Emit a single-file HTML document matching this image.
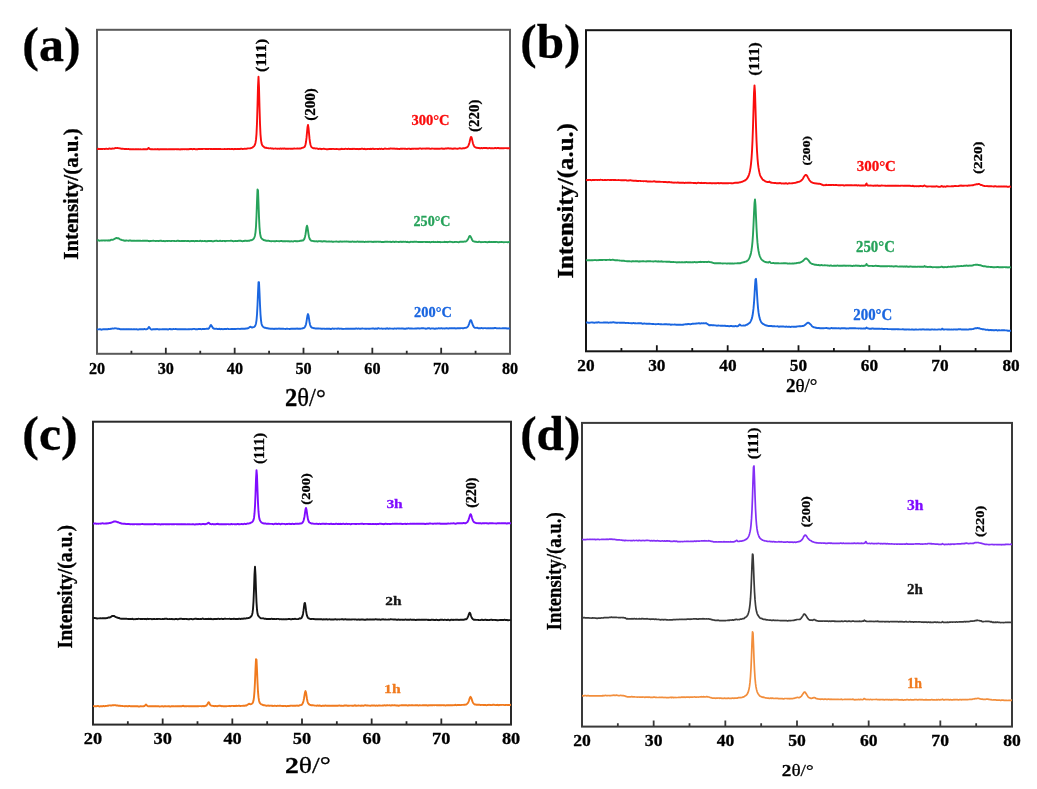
<!DOCTYPE html>
<html><head><meta charset="utf-8"><title>XRD patterns</title>
<style>html,body{margin:0;padding:0;background:#fff;width:1037px;height:789px;overflow:hidden}
svg{display:block;font-family:"Liberation Serif",serif;will-change:transform}</style></head>
<body><svg width="1037" height="789" viewBox="0 0 1037 789">
<rect width="1037" height="789" fill="#fff"/>
<rect x="97" y="29.8" width="413" height="324.0" fill="none" stroke="#5a5a5a" stroke-width="2"/>
<path d="M131.42,353.80V350.80M165.83,353.80V347.80M200.25,353.80V350.80M234.67,353.80V347.80M269.08,353.80V350.80M303.50,353.80V347.80M337.92,353.80V350.80M372.33,353.80V347.80M406.75,353.80V350.80M441.17,353.80V347.80M475.58,353.80V350.80" stroke="#2a2a2a" stroke-width="1.8" fill="none"/>
<rect x="586" y="30.2" width="425" height="321.1" fill="none" stroke="#151515" stroke-width="2"/>
<path d="M621.42,351.30V348.00M656.83,351.30V345.30M692.25,351.30V348.00M727.67,351.30V345.30M763.08,351.30V348.00M798.50,351.30V345.30M833.92,351.30V348.00M869.33,351.30V345.30M904.75,351.30V348.00M940.17,351.30V345.30M975.58,351.30V348.00" stroke="#151515" stroke-width="1.8" fill="none"/>
<rect x="93" y="421.7" width="418" height="302.90000000000003" fill="none" stroke="#2a2a2a" stroke-width="2"/>
<path d="M127.83,724.60V721.30M162.67,724.60V718.60M197.50,724.60V721.30M232.33,724.60V718.60M267.17,724.60V721.30M302.00,724.60V718.60M336.83,724.60V721.30M371.67,724.60V718.60M406.50,724.60V721.30M441.33,724.60V718.60M476.17,724.60V721.30" stroke="#2a2a2a" stroke-width="1.8" fill="none"/>
<rect x="582" y="422.9" width="430" height="303.70000000000005" fill="none" stroke="#3a3a3a" stroke-width="2"/>
<path d="M617.83,726.60V723.30M653.67,726.60V720.60M689.50,726.60V723.30M725.33,726.60V720.60M761.17,726.60V723.30M797.00,726.60V720.60M832.83,726.60V723.30M868.67,726.60V720.60M904.50,726.60V723.30M940.33,726.60V720.60M976.17,726.60V723.30" stroke="#3a3a3a" stroke-width="1.8" fill="none"/>
<path d="M97.0,149.0 L97.5,149.0 L98.0,148.9 L98.5,148.8 L99.0,149.0 L99.5,149.0 L100.0,148.9 L100.5,149.0 L101.0,149.0 L101.5,149.0 L102.0,149.0 L102.5,149.0 L103.0,148.9 L103.5,148.9 L104.0,148.9 L104.5,149.0 L105.0,149.0 L105.5,148.9 L106.0,148.8 L106.5,148.8 L107.0,148.9 L107.5,148.9 L108.0,149.0 L108.5,148.9 L109.0,148.5 L109.5,148.5 L110.0,148.6 L110.5,148.7 L111.0,148.7 L111.5,148.8 L112.0,148.7 L112.5,148.5 L113.0,148.5 L113.5,148.6 L114.0,148.6 L114.5,148.4 L115.0,148.1 L115.5,148.0 L116.0,148.1 L116.5,148.1 L117.0,148.0 L117.5,148.0 L118.0,148.1 L118.5,148.1 L119.0,148.2 L119.5,148.4 L120.0,148.4 L120.5,148.5 L121.0,148.6 L121.5,148.8 L122.0,148.7 L122.5,148.7 L123.0,148.8 L123.5,148.9 L124.0,148.9 L124.5,149.0 L125.0,149.0 L125.5,149.0 L126.0,148.9 L126.5,149.0 L127.0,149.1 L127.5,149.1 L128.0,149.0 L128.5,149.0 L129.0,149.1 L129.5,149.2 L130.0,149.3 L130.5,149.2 L131.0,149.1 L131.5,149.3 L132.0,149.4 L132.5,149.3 L133.0,149.2 L133.5,149.3 L134.0,149.4 L134.5,149.4 L135.0,149.2 L135.5,149.1 L136.0,149.2 L136.5,149.3 L137.0,149.4 L137.5,149.3 L138.0,149.1 L138.5,149.2 L139.0,149.4 L139.5,149.4 L140.0,149.3 L140.5,149.3 L141.0,149.4 L141.5,149.4 L142.0,149.4 L142.5,149.4 L143.0,149.3 L143.5,149.3 L144.0,149.3 L144.5,149.1 L145.0,149.2 L145.5,149.2 L146.0,149.2 L146.5,149.2 L147.0,149.2 L147.5,149.1 L148.0,148.5 L148.5,147.9 L149.0,148.2 L149.5,148.8 L150.0,149.0 L150.5,149.1 L151.0,149.4 L151.5,149.3 L152.0,149.2 L152.5,149.3 L153.0,149.3 L153.5,149.4 L154.0,149.4 L154.5,149.3 L155.0,149.3 L155.5,149.3 L156.0,149.3 L156.5,149.4 L157.0,149.4 L157.5,149.1 L158.0,149.0 L158.5,149.4 L159.0,149.5 L159.5,149.3 L160.0,149.2 L160.5,149.3 L161.0,149.2 L161.5,149.2 L162.0,149.3 L162.5,149.3 L163.0,149.3 L163.5,149.3 L164.0,149.3 L164.5,149.2 L165.0,149.2 L165.5,149.2 L166.0,149.2 L166.5,149.1 L167.0,149.2 L167.5,149.4 L168.0,149.4 L168.5,149.3 L169.0,149.3 L169.5,149.3 L170.0,149.3 L170.5,149.3 L171.0,149.3 L171.5,149.2 L172.0,149.3 L172.5,149.2 L173.0,149.1 L173.5,149.1 L174.0,149.3 L174.5,149.4 L175.0,149.2 L175.5,149.1 L176.0,149.1 L176.5,149.2 L177.0,149.3 L177.5,149.2 L178.0,149.2 L178.5,149.3 L179.0,149.3 L179.5,149.4 L180.0,149.5 L180.5,149.3 L181.0,149.2 L181.5,149.2 L182.0,149.2 L182.5,149.2 L183.0,149.2 L183.5,149.1 L184.0,149.1 L184.5,149.2 L185.0,149.1 L185.5,149.1 L186.0,149.2 L186.5,149.4 L187.0,149.3 L187.5,149.1 L188.0,149.2 L188.5,149.4 L189.0,149.3 L189.5,149.0 L190.0,149.0 L190.5,149.0 L191.0,149.0 L191.5,149.0 L192.0,149.1 L192.5,149.3 L193.0,149.1 L193.5,148.9 L194.0,148.9 L194.5,149.0 L195.0,149.1 L195.5,149.2 L196.0,149.1 L196.5,149.1 L197.0,149.3 L197.5,149.3 L198.0,149.1 L198.5,149.0 L199.0,149.0 L199.5,148.9 L200.0,149.0 L200.5,149.1 L201.0,149.0 L201.5,149.0 L202.0,149.0 L202.5,149.0 L203.0,148.9 L203.5,148.9 L204.0,148.9 L204.5,148.9 L205.0,148.9 L205.5,149.0 L206.0,149.0 L206.5,149.0 L207.0,149.0 L207.5,149.1 L208.0,149.0 L208.5,149.0 L209.0,148.9 L209.5,148.9 L210.0,148.9 L210.5,149.0 L211.0,148.9 L211.5,148.9 L212.0,149.1 L212.5,149.1 L213.0,148.9 L213.5,148.9 L214.0,149.0 L214.5,149.0 L215.0,149.0 L215.5,149.0 L216.0,149.0 L216.5,148.9 L217.0,149.0 L217.5,149.1 L218.0,149.0 L218.5,149.0 L219.0,149.1 L219.5,149.0 L220.0,148.9 L220.5,149.0 L221.0,149.1 L221.5,149.1 L222.0,149.1 L222.5,149.1 L223.0,149.1 L223.5,149.1 L224.0,149.1 L224.5,149.0 L225.0,149.0 L225.5,149.1 L226.0,149.1 L226.5,149.1 L227.0,149.0 L227.5,149.0 L228.0,148.9 L228.5,148.9 L229.0,149.0 L229.5,149.0 L230.0,149.0 L230.5,149.1 L231.0,149.1 L231.5,149.0 L232.0,149.0 L232.5,149.0 L233.0,149.0 L233.5,149.3 L234.0,149.2 L234.5,149.0 L235.0,149.1 L235.5,149.0 L236.0,148.9 L236.5,149.1 L237.0,149.1 L237.5,149.0 L238.0,149.0 L238.5,149.0 L239.0,149.0 L239.5,149.0 L240.0,149.0 L240.5,148.8 L241.0,148.8 L241.5,148.8 L242.0,148.9 L242.5,149.0 L243.0,149.0 L243.5,148.9 L244.0,148.9 L244.5,148.8 L245.0,148.7 L245.5,148.9 L246.0,148.9 L246.5,148.7 L247.0,148.6 L247.5,148.5 L248.0,148.4 L248.5,148.4 L249.0,148.4 L249.5,148.4 L250.0,148.4 L250.5,148.2 L251.0,148.1 L251.5,147.9 L252.0,147.8 L252.5,147.5 L253.0,147.1 L253.5,146.6 L254.0,146.2 L254.5,145.5 L255.0,144.4 L255.5,142.7 L256.0,139.7 L256.5,133.9 L257.0,122.9 L257.5,105.8 L258.0,86.2 L258.5,76.7 L259.0,87.4 L259.5,107.0 L260.0,123.6 L260.5,134.3 L261.0,140.1 L261.5,143.1 L262.0,144.7 L262.5,145.6 L263.0,146.2 L263.5,146.6 L264.0,147.0 L264.5,147.4 L265.0,147.7 L265.5,147.8 L266.0,147.7 L266.5,147.8 L267.0,148.0 L267.5,148.1 L268.0,148.1 L268.5,148.2 L269.0,148.4 L269.5,148.4 L270.0,148.4 L270.5,148.3 L271.0,148.4 L271.5,148.5 L272.0,148.5 L272.5,148.4 L273.0,148.6 L273.5,148.7 L274.0,148.6 L274.5,148.6 L275.0,148.6 L275.5,148.5 L276.0,148.6 L276.5,148.6 L277.0,148.7 L277.5,148.7 L278.0,148.6 L278.5,148.6 L279.0,148.7 L279.5,148.8 L280.0,148.7 L280.5,148.5 L281.0,148.6 L281.5,148.8 L282.0,148.8 L282.5,148.5 L283.0,148.6 L283.5,148.7 L284.0,148.5 L284.5,148.5 L285.0,148.7 L285.5,148.7 L286.0,148.7 L286.5,148.7 L287.0,148.8 L287.5,148.8 L288.0,148.8 L288.5,148.7 L289.0,148.6 L289.5,148.6 L290.0,148.7 L290.5,148.8 L291.0,148.7 L291.5,148.7 L292.0,148.7 L292.5,148.8 L293.0,148.7 L293.5,148.6 L294.0,148.5 L294.5,148.5 L295.0,148.6 L295.5,148.6 L296.0,148.6 L296.5,148.6 L297.0,148.5 L297.5,148.4 L298.0,148.6 L298.5,148.6 L299.0,148.5 L299.5,148.5 L300.0,148.6 L300.5,148.5 L301.0,148.4 L301.5,148.1 L302.0,147.9 L302.5,147.9 L303.0,147.7 L303.5,147.5 L304.0,147.2 L304.5,146.9 L305.0,146.1 L305.5,144.5 L306.0,142.0 L306.5,137.9 L307.0,132.6 L307.5,127.3 L308.0,125.0 L308.5,127.8 L309.0,133.2 L309.5,138.4 L310.0,142.3 L310.5,144.7 L311.0,146.1 L311.5,147.1 L312.0,147.5 L312.5,147.8 L313.0,148.1 L313.5,148.2 L314.0,148.2 L314.5,148.3 L315.0,148.4 L315.5,148.5 L316.0,148.4 L316.5,148.4 L317.0,148.5 L317.5,148.6 L318.0,148.9 L318.5,149.0 L319.0,148.9 L319.5,148.8 L320.0,148.8 L320.5,148.8 L321.0,149.0 L321.5,149.2 L322.0,149.0 L322.5,148.9 L323.0,148.9 L323.5,148.8 L324.0,148.8 L324.5,148.9 L325.0,149.0 L325.5,149.1 L326.0,149.1 L326.5,149.2 L327.0,149.2 L327.5,149.1 L328.0,149.2 L328.5,149.1 L329.0,149.0 L329.5,149.0 L330.0,149.0 L330.5,149.0 L331.0,149.0 L331.5,149.0 L332.0,149.0 L332.5,148.9 L333.0,148.9 L333.5,148.9 L334.0,149.0 L334.5,149.1 L335.0,149.1 L335.5,149.1 L336.0,149.0 L336.5,149.0 L337.0,149.0 L337.5,149.1 L338.0,149.1 L338.5,149.2 L339.0,149.3 L339.5,149.2 L340.0,149.2 L340.5,149.2 L341.0,149.0 L341.5,148.8 L342.0,148.8 L342.5,149.0 L343.0,149.1 L343.5,149.1 L344.0,149.0 L344.5,149.0 L345.0,148.9 L345.5,148.8 L346.0,148.9 L346.5,148.9 L347.0,149.0 L347.5,149.1 L348.0,148.9 L348.5,148.7 L349.0,148.9 L349.5,149.0 L350.0,149.0 L350.5,149.0 L351.0,149.1 L351.5,149.0 L352.0,148.8 L352.5,148.9 L353.0,149.0 L353.5,148.9 L354.0,148.8 L354.5,148.9 L355.0,149.0 L355.5,149.1 L356.0,149.0 L356.5,148.9 L357.0,149.0 L357.5,149.0 L358.0,148.9 L358.5,149.1 L359.0,149.2 L359.5,149.0 L360.0,149.0 L360.5,149.0 L361.0,148.8 L361.5,148.6 L362.0,148.7 L362.5,148.8 L363.0,148.9 L363.5,149.0 L364.0,148.9 L364.5,148.8 L365.0,149.0 L365.5,149.2 L366.0,149.2 L366.5,149.1 L367.0,149.0 L367.5,149.0 L368.0,148.9 L368.5,148.9 L369.0,149.0 L369.5,149.0 L370.0,149.0 L370.5,148.8 L371.0,148.9 L371.5,149.0 L372.0,148.8 L372.5,148.7 L373.0,148.7 L373.5,148.8 L374.0,149.0 L374.5,149.1 L375.0,149.0 L375.5,148.9 L376.0,148.9 L376.5,148.9 L377.0,148.9 L377.5,149.0 L378.0,149.1 L378.5,149.0 L379.0,148.9 L379.5,148.8 L380.0,148.9 L380.5,149.0 L381.0,148.9 L381.5,148.7 L382.0,148.9 L382.5,149.1 L383.0,149.1 L383.5,149.0 L384.0,148.8 L384.5,148.6 L385.0,148.5 L385.5,148.6 L386.0,148.8 L386.5,148.9 L387.0,148.9 L387.5,148.9 L388.0,148.9 L388.5,148.8 L389.0,148.8 L389.5,148.8 L390.0,148.6 L390.5,148.4 L391.0,148.6 L391.5,148.6 L392.0,148.5 L392.5,148.6 L393.0,148.7 L393.5,148.6 L394.0,148.5 L394.5,148.6 L395.0,148.8 L395.5,148.9 L396.0,148.8 L396.5,148.6 L397.0,148.6 L397.5,148.9 L398.0,149.0 L398.5,148.9 L399.0,148.9 L399.5,149.0 L400.0,148.8 L400.5,148.6 L401.0,148.6 L401.5,148.7 L402.0,148.9 L402.5,148.7 L403.0,148.6 L403.5,148.6 L404.0,148.7 L404.5,148.8 L405.0,148.8 L405.5,148.8 L406.0,148.9 L406.5,148.9 L407.0,149.0 L407.5,148.9 L408.0,148.7 L408.5,148.6 L409.0,148.6 L409.5,148.7 L410.0,148.8 L410.5,149.0 L411.0,149.0 L411.5,148.8 L412.0,148.7 L412.5,148.8 L413.0,148.6 L413.5,148.6 L414.0,148.7 L414.5,148.6 L415.0,148.6 L415.5,148.7 L416.0,148.8 L416.5,148.8 L417.0,148.8 L417.5,148.8 L418.0,148.8 L418.5,148.8 L419.0,148.6 L419.5,148.4 L420.0,148.4 L420.5,148.4 L421.0,148.6 L421.5,148.8 L422.0,148.7 L422.5,148.6 L423.0,148.5 L423.5,148.6 L424.0,148.6 L424.5,148.6 L425.0,148.5 L425.5,148.6 L426.0,148.7 L426.5,148.5 L427.0,148.5 L427.5,148.5 L428.0,148.6 L428.5,148.5 L429.0,148.5 L429.5,148.7 L430.0,148.9 L430.5,148.9 L431.0,148.8 L431.5,148.6 L432.0,148.5 L432.5,148.6 L433.0,148.6 L433.5,148.6 L434.0,148.7 L434.5,148.7 L435.0,148.7 L435.5,148.7 L436.0,148.7 L436.5,148.7 L437.0,148.7 L437.5,148.7 L438.0,148.7 L438.5,148.8 L439.0,148.9 L439.5,148.8 L440.0,148.7 L440.5,148.6 L441.0,148.6 L441.5,148.4 L442.0,148.5 L442.5,148.8 L443.0,148.8 L443.5,148.8 L444.0,148.7 L444.5,148.7 L445.0,148.6 L445.5,148.4 L446.0,148.4 L446.5,148.5 L447.0,148.5 L447.5,148.4 L448.0,148.2 L448.5,148.2 L449.0,148.5 L449.5,148.6 L450.0,148.5 L450.5,148.4 L451.0,148.4 L451.5,148.6 L452.0,148.7 L452.5,148.8 L453.0,148.8 L453.5,148.7 L454.0,148.5 L454.5,148.5 L455.0,148.5 L455.5,148.5 L456.0,148.6 L456.5,148.6 L457.0,148.7 L457.5,148.7 L458.0,148.6 L458.5,148.6 L459.0,148.4 L459.5,148.3 L460.0,148.3 L460.5,148.4 L461.0,148.5 L461.5,148.6 L462.0,148.6 L462.5,148.4 L463.0,148.3 L463.5,148.2 L464.0,148.1 L464.5,148.2 L465.0,148.1 L465.5,147.9 L466.0,147.8 L466.5,147.5 L467.0,147.3 L467.5,147.0 L468.0,146.3 L468.5,145.4 L469.0,144.2 L469.5,142.5 L470.0,140.3 L470.5,138.2 L471.0,136.9 L471.5,137.3 L472.0,139.1 L472.5,141.4 L473.0,143.5 L473.5,145.0 L474.0,145.9 L474.5,146.7 L475.0,147.1 L475.5,147.3 L476.0,147.6 L476.5,147.8 L477.0,147.8 L477.5,147.9 L478.0,148.0 L478.5,147.9 L479.0,148.0 L479.5,148.2 L480.0,148.3 L480.5,148.3 L481.0,148.1 L481.5,148.0 L482.0,148.2 L482.5,148.3 L483.0,148.1 L483.5,148.0 L484.0,148.0 L484.5,148.0 L485.0,148.0 L485.5,148.0 L486.0,148.0 L486.5,148.0 L487.0,148.2 L487.5,148.3 L488.0,148.3 L488.5,148.2 L489.0,148.1 L489.5,148.0 L490.0,148.1 L490.5,148.2 L491.0,148.3 L491.5,148.3 L492.0,148.2 L492.5,148.1 L493.0,148.3 L493.5,148.4 L494.0,148.4 L494.5,148.2 L495.0,148.0 L495.5,148.0 L496.0,148.2 L496.5,148.2 L497.0,148.1 L497.5,148.0 L498.0,147.9 L498.5,147.9 L499.0,148.2 L499.5,148.3 L500.0,148.2 L500.5,148.1 L501.0,148.3 L501.5,148.3 L502.0,148.2 L502.5,148.1 L503.0,148.2 L503.5,148.2 L504.0,148.2 L504.5,148.1 L505.0,148.1 L505.5,148.1 L506.0,148.1 L506.5,148.1 L507.0,148.2 L507.5,148.2 L508.0,148.2 L508.5,148.2 L509.0,148.3 L509.5,148.2 L510.0,148.2" stroke="#fa0d0d" stroke-width="1.9" fill="none" stroke-linejoin="round"/>
<path d="M97.0,240.5 L97.5,240.4 L98.0,240.3 L98.5,240.3 L99.0,240.6 L99.5,240.7 L100.0,240.6 L100.5,240.6 L101.0,240.5 L101.5,240.5 L102.0,240.6 L102.5,240.5 L103.0,240.4 L103.5,240.4 L104.0,240.5 L104.5,240.5 L105.0,240.5 L105.5,240.5 L106.0,240.4 L106.5,240.4 L107.0,240.5 L107.5,240.5 L108.0,240.5 L108.5,240.4 L109.0,240.3 L109.5,240.5 L110.0,240.5 L110.5,240.1 L111.0,239.8 L111.5,239.8 L112.0,239.9 L112.5,239.9 L113.0,239.7 L113.5,239.5 L114.0,239.2 L114.5,238.9 L115.0,238.7 L115.5,238.4 L116.0,238.1 L116.5,238.0 L117.0,238.2 L117.5,238.3 L118.0,238.2 L118.5,238.3 L119.0,238.6 L119.5,239.0 L120.0,239.3 L120.5,239.5 L121.0,239.6 L121.5,239.9 L122.0,240.1 L122.5,240.1 L123.0,240.2 L123.5,240.5 L124.0,240.5 L124.5,240.7 L125.0,240.8 L125.5,240.7 L126.0,240.5 L126.5,240.5 L127.0,240.6 L127.5,240.6 L128.0,240.6 L128.5,240.7 L129.0,240.7 L129.5,240.5 L130.0,240.4 L130.5,240.4 L131.0,240.7 L131.5,240.8 L132.0,240.9 L132.5,240.8 L133.0,240.7 L133.5,240.7 L134.0,240.7 L134.5,240.6 L135.0,240.7 L135.5,240.9 L136.0,240.9 L136.5,240.8 L137.0,240.7 L137.5,240.7 L138.0,240.8 L138.5,240.8 L139.0,240.7 L139.5,240.7 L140.0,240.7 L140.5,240.8 L141.0,240.9 L141.5,240.9 L142.0,240.9 L142.5,240.8 L143.0,240.8 L143.5,240.7 L144.0,240.8 L144.5,240.8 L145.0,240.8 L145.5,240.7 L146.0,240.7 L146.5,240.7 L147.0,240.7 L147.5,240.8 L148.0,240.9 L148.5,241.0 L149.0,241.1 L149.5,241.2 L150.0,241.0 L150.5,241.0 L151.0,241.0 L151.5,240.9 L152.0,240.9 L152.5,240.9 L153.0,240.8 L153.5,240.8 L154.0,240.9 L154.5,240.9 L155.0,240.9 L155.5,241.1 L156.0,241.1 L156.5,240.9 L157.0,240.9 L157.5,240.9 L158.0,241.0 L158.5,241.1 L159.0,241.0 L159.5,240.9 L160.0,240.8 L160.5,240.8 L161.0,240.8 L161.5,240.8 L162.0,241.0 L162.5,241.1 L163.0,241.1 L163.5,241.0 L164.0,241.0 L164.5,241.1 L165.0,241.2 L165.5,241.1 L166.0,241.0 L166.5,240.9 L167.0,240.9 L167.5,241.0 L168.0,241.0 L168.5,240.9 L169.0,240.9 L169.5,240.9 L170.0,241.0 L170.5,241.1 L171.0,241.1 L171.5,241.0 L172.0,240.9 L172.5,240.9 L173.0,240.9 L173.5,240.9 L174.0,241.0 L174.5,241.0 L175.0,241.1 L175.5,241.1 L176.0,241.1 L176.5,241.0 L177.0,240.8 L177.5,240.9 L178.0,240.8 L178.5,240.8 L179.0,241.0 L179.5,241.0 L180.0,241.0 L180.5,241.1 L181.0,241.1 L181.5,241.0 L182.0,240.9 L182.5,241.0 L183.0,241.0 L183.5,241.0 L184.0,241.1 L184.5,241.0 L185.0,240.9 L185.5,240.9 L186.0,241.0 L186.5,241.1 L187.0,241.1 L187.5,240.9 L188.0,240.9 L188.5,241.0 L189.0,241.1 L189.5,241.2 L190.0,241.2 L190.5,241.1 L191.0,241.0 L191.5,240.9 L192.0,241.0 L192.5,241.1 L193.0,241.0 L193.5,241.0 L194.0,241.1 L194.5,241.3 L195.0,241.1 L195.5,241.0 L196.0,241.0 L196.5,240.9 L197.0,241.0 L197.5,241.0 L198.0,241.1 L198.5,241.1 L199.0,241.1 L199.5,241.0 L200.0,240.8 L200.5,240.7 L201.0,241.0 L201.5,241.2 L202.0,241.1 L202.5,241.0 L203.0,241.1 L203.5,241.1 L204.0,241.1 L204.5,241.0 L205.0,241.0 L205.5,241.2 L206.0,241.2 L206.5,241.1 L207.0,241.2 L207.5,241.2 L208.0,240.9 L208.5,240.9 L209.0,241.0 L209.5,241.1 L210.0,240.9 L210.5,240.9 L211.0,241.0 L211.5,241.0 L212.0,241.1 L212.5,241.4 L213.0,241.4 L213.5,241.2 L214.0,241.1 L214.5,241.0 L215.0,240.8 L215.5,240.9 L216.0,240.9 L216.5,240.8 L217.0,240.8 L217.5,241.0 L218.0,241.1 L218.5,241.1 L219.0,241.1 L219.5,240.9 L220.0,240.8 L220.5,240.8 L221.0,241.0 L221.5,241.1 L222.0,241.1 L222.5,241.0 L223.0,240.9 L223.5,240.9 L224.0,240.9 L224.5,241.0 L225.0,241.2 L225.5,241.2 L226.0,241.0 L226.5,240.9 L227.0,240.9 L227.5,240.9 L228.0,240.9 L228.5,240.9 L229.0,240.9 L229.5,240.9 L230.0,240.9 L230.5,240.8 L231.0,240.7 L231.5,240.8 L232.0,240.9 L232.5,241.0 L233.0,241.1 L233.5,241.2 L234.0,241.1 L234.5,241.1 L235.0,241.0 L235.5,241.0 L236.0,241.1 L236.5,241.1 L237.0,240.9 L237.5,241.0 L238.0,241.0 L238.5,240.7 L239.0,240.7 L239.5,240.8 L240.0,240.7 L240.5,240.7 L241.0,240.8 L241.5,241.0 L242.0,241.1 L242.5,241.2 L243.0,241.1 L243.5,241.0 L244.0,241.0 L244.5,240.8 L245.0,240.7 L245.5,240.6 L246.0,240.7 L246.5,240.9 L247.0,241.0 L247.5,240.9 L248.0,240.7 L248.5,240.7 L249.0,240.8 L249.5,240.7 L250.0,240.4 L250.5,240.3 L251.0,240.2 L251.5,240.2 L252.0,240.0 L252.5,239.7 L253.0,239.4 L253.5,238.9 L254.0,238.2 L254.5,237.1 L255.0,235.4 L255.5,232.3 L256.0,226.5 L256.5,216.1 L257.0,201.7 L257.5,189.5 L258.0,190.4 L258.5,203.1 L259.0,217.1 L259.5,227.1 L260.0,233.0 L260.5,235.9 L261.0,237.5 L261.5,238.4 L262.0,238.9 L262.5,239.2 L263.0,239.6 L263.5,240.0 L264.0,240.2 L264.5,240.2 L265.0,240.3 L265.5,240.5 L266.0,240.7 L266.5,240.8 L267.0,240.9 L267.5,240.8 L268.0,240.6 L268.5,240.7 L269.0,240.9 L269.5,241.0 L270.0,241.1 L270.5,241.1 L271.0,241.2 L271.5,241.2 L272.0,241.1 L272.5,241.1 L273.0,241.1 L273.5,241.1 L274.0,241.2 L274.5,241.3 L275.0,241.3 L275.5,241.2 L276.0,241.1 L276.5,241.0 L277.0,241.1 L277.5,241.1 L278.0,241.1 L278.5,241.1 L279.0,241.2 L279.5,241.2 L280.0,241.1 L280.5,241.1 L281.0,240.9 L281.5,240.9 L282.0,241.1 L282.5,241.2 L283.0,241.2 L283.5,241.1 L284.0,241.1 L284.5,241.3 L285.0,241.3 L285.5,241.3 L286.0,241.2 L286.5,241.1 L287.0,241.1 L287.5,241.2 L288.0,241.2 L288.5,241.1 L289.0,241.1 L289.5,241.3 L290.0,241.5 L290.5,241.4 L291.0,241.3 L291.5,241.3 L292.0,241.4 L292.5,241.4 L293.0,241.5 L293.5,241.3 L294.0,241.1 L294.5,241.1 L295.0,241.0 L295.5,241.1 L296.0,241.3 L296.5,241.3 L297.0,241.2 L297.5,241.3 L298.0,241.2 L298.5,241.1 L299.0,241.1 L299.5,241.0 L300.0,240.8 L300.5,240.7 L301.0,240.8 L301.5,240.7 L302.0,240.5 L302.5,240.5 L303.0,240.5 L303.5,240.1 L304.0,239.5 L304.5,238.5 L305.0,236.8 L305.5,234.4 L306.0,231.0 L306.5,227.3 L307.0,225.7 L307.5,227.3 L308.0,230.7 L308.5,234.1 L309.0,236.7 L309.5,238.4 L310.0,239.5 L310.5,240.1 L311.0,240.5 L311.5,240.9 L312.0,240.9 L312.5,240.9 L313.0,241.0 L313.5,241.1 L314.0,241.2 L314.5,241.2 L315.0,241.4 L315.5,241.4 L316.0,241.3 L316.5,241.3 L317.0,241.4 L317.5,241.6 L318.0,241.4 L318.5,241.2 L319.0,241.1 L319.5,241.1 L320.0,241.2 L320.5,241.2 L321.0,241.2 L321.5,241.3 L322.0,241.5 L322.5,241.5 L323.0,241.3 L323.5,241.3 L324.0,241.3 L324.5,241.2 L325.0,241.2 L325.5,241.4 L326.0,241.5 L326.5,241.5 L327.0,241.5 L327.5,241.6 L328.0,241.6 L328.5,241.5 L329.0,241.5 L329.5,241.5 L330.0,241.6 L330.5,241.6 L331.0,241.5 L331.5,241.5 L332.0,241.6 L332.5,241.8 L333.0,241.8 L333.5,241.7 L334.0,241.6 L334.5,241.6 L335.0,241.6 L335.5,241.6 L336.0,241.5 L336.5,241.5 L337.0,241.6 L337.5,241.6 L338.0,241.7 L338.5,241.8 L339.0,241.8 L339.5,241.7 L340.0,241.5 L340.5,241.4 L341.0,241.5 L341.5,241.6 L342.0,241.7 L342.5,241.6 L343.0,241.5 L343.5,241.6 L344.0,241.6 L344.5,241.5 L345.0,241.6 L345.5,241.6 L346.0,241.4 L346.5,241.4 L347.0,241.6 L347.5,241.6 L348.0,241.5 L348.5,241.6 L349.0,241.8 L349.5,241.7 L350.0,241.8 L350.5,241.8 L351.0,241.7 L351.5,241.7 L352.0,241.6 L352.5,241.5 L353.0,241.6 L353.5,241.7 L354.0,241.7 L354.5,241.6 L355.0,241.7 L355.5,241.9 L356.0,241.9 L356.5,241.7 L357.0,241.6 L357.5,241.5 L358.0,241.7 L358.5,241.7 L359.0,241.7 L359.5,241.8 L360.0,241.8 L360.5,241.6 L361.0,241.6 L361.5,241.7 L362.0,241.7 L362.5,241.7 L363.0,241.7 L363.5,241.8 L364.0,241.9 L364.5,242.0 L365.0,241.9 L365.5,241.8 L366.0,241.8 L366.5,241.9 L367.0,241.9 L367.5,241.8 L368.0,241.7 L368.5,241.7 L369.0,241.7 L369.5,241.6 L370.0,241.6 L370.5,241.6 L371.0,241.7 L371.5,241.7 L372.0,241.8 L372.5,241.9 L373.0,242.0 L373.5,241.8 L374.0,241.7 L374.5,241.7 L375.0,241.8 L375.5,241.8 L376.0,241.7 L376.5,241.7 L377.0,241.7 L377.5,241.6 L378.0,241.6 L378.5,241.7 L379.0,241.8 L379.5,241.9 L380.0,241.8 L380.5,241.8 L381.0,241.9 L381.5,242.0 L382.0,242.0 L382.5,242.0 L383.0,241.9 L383.5,242.0 L384.0,242.0 L384.5,241.9 L385.0,241.7 L385.5,241.7 L386.0,241.7 L386.5,241.7 L387.0,241.8 L387.5,241.8 L388.0,241.8 L388.5,241.9 L389.0,241.9 L389.5,241.9 L390.0,241.7 L390.5,241.8 L391.0,242.0 L391.5,242.0 L392.0,241.9 L392.5,241.8 L393.0,241.7 L393.5,241.6 L394.0,241.8 L394.5,242.0 L395.0,241.8 L395.5,241.8 L396.0,241.9 L396.5,241.8 L397.0,241.9 L397.5,241.9 L398.0,241.9 L398.5,242.0 L399.0,242.1 L399.5,241.9 L400.0,241.8 L400.5,241.8 L401.0,241.7 L401.5,241.8 L402.0,242.0 L402.5,241.9 L403.0,241.7 L403.5,241.8 L404.0,241.9 L404.5,241.9 L405.0,241.8 L405.5,241.8 L406.0,241.9 L406.5,242.0 L407.0,241.9 L407.5,241.8 L408.0,242.0 L408.5,242.1 L409.0,242.2 L409.5,242.3 L410.0,242.0 L410.5,241.8 L411.0,241.9 L411.5,241.9 L412.0,241.8 L412.5,241.9 L413.0,242.0 L413.5,241.9 L414.0,241.7 L414.5,241.8 L415.0,241.8 L415.5,241.9 L416.0,241.8 L416.5,241.8 L417.0,241.9 L417.5,241.9 L418.0,242.0 L418.5,242.1 L419.0,241.9 L419.5,241.9 L420.0,242.0 L420.5,242.0 L421.0,242.0 L421.5,242.0 L422.0,242.0 L422.5,242.0 L423.0,242.0 L423.5,241.9 L424.0,241.9 L424.5,241.9 L425.0,241.9 L425.5,242.0 L426.0,242.0 L426.5,242.0 L427.0,241.9 L427.5,241.9 L428.0,242.1 L428.5,242.1 L429.0,241.9 L429.5,241.9 L430.0,242.2 L430.5,242.2 L431.0,242.1 L431.5,242.0 L432.0,241.9 L432.5,241.9 L433.0,242.0 L433.5,241.8 L434.0,241.9 L434.5,242.1 L435.0,242.1 L435.5,242.0 L436.0,242.1 L436.5,242.1 L437.0,242.0 L437.5,241.8 L438.0,241.9 L438.5,242.0 L439.0,242.1 L439.5,242.0 L440.0,242.0 L440.5,242.2 L441.0,242.1 L441.5,242.1 L442.0,242.1 L442.5,242.1 L443.0,242.1 L443.5,242.1 L444.0,242.0 L444.5,241.8 L445.0,241.9 L445.5,242.0 L446.0,242.0 L446.5,242.0 L447.0,242.0 L447.5,242.2 L448.0,242.1 L448.5,241.9 L449.0,241.9 L449.5,241.8 L450.0,241.7 L450.5,241.9 L451.0,241.9 L451.5,241.9 L452.0,242.0 L452.5,242.1 L453.0,242.2 L453.5,242.1 L454.0,242.1 L454.5,242.0 L455.0,242.0 L455.5,241.9 L456.0,241.9 L456.5,241.9 L457.0,242.0 L457.5,242.1 L458.0,242.1 L458.5,242.2 L459.0,242.2 L459.5,241.9 L460.0,241.8 L460.5,241.8 L461.0,241.8 L461.5,241.7 L462.0,241.8 L462.5,241.8 L463.0,241.7 L463.5,241.7 L464.0,241.6 L464.5,241.5 L465.0,241.6 L465.5,241.5 L466.0,241.3 L466.5,241.1 L467.0,240.6 L467.5,239.9 L468.0,239.2 L468.5,238.1 L469.0,236.9 L469.5,236.1 L470.0,235.9 L470.5,236.4 L471.0,237.4 L471.5,238.4 L472.0,239.5 L472.5,240.5 L473.0,241.1 L473.5,241.3 L474.0,241.4 L474.5,241.6 L475.0,241.7 L475.5,241.7 L476.0,241.8 L476.5,241.9 L477.0,242.0 L477.5,242.1 L478.0,242.1 L478.5,241.9 L479.0,241.6 L479.5,241.7 L480.0,241.9 L480.5,242.1 L481.0,242.2 L481.5,242.1 L482.0,242.0 L482.5,242.1 L483.0,242.1 L483.5,242.1 L484.0,242.0 L484.5,241.9 L485.0,241.9 L485.5,242.0 L486.0,242.0 L486.5,242.1 L487.0,242.2 L487.5,242.2 L488.0,242.2 L488.5,242.0 L489.0,241.8 L489.5,241.8 L490.0,242.0 L490.5,242.1 L491.0,242.0 L491.5,241.9 L492.0,242.1 L492.5,242.1 L493.0,241.9 L493.5,241.9 L494.0,242.0 L494.5,241.9 L495.0,242.0 L495.5,242.0 L496.0,241.9 L496.5,241.9 L497.0,242.0 L497.5,242.1 L498.0,242.2 L498.5,242.2 L499.0,242.2 L499.5,242.1 L500.0,242.0 L500.5,242.1 L501.0,242.1 L501.5,242.0 L502.0,242.0 L502.5,242.1 L503.0,242.1 L503.5,242.2 L504.0,242.2 L504.5,242.1 L505.0,242.1 L505.5,242.1 L506.0,242.1 L506.5,242.1 L507.0,242.1 L507.5,242.2 L508.0,242.2 L508.5,242.1 L509.0,242.0 L509.5,241.9 L510.0,241.9" stroke="#26a25a" stroke-width="1.9" fill="none" stroke-linejoin="round"/>
<path d="M97.0,329.6 L97.5,329.4 L98.0,329.4 L98.5,329.4 L99.0,329.4 L99.5,329.3 L100.0,329.2 L100.5,329.3 L101.0,329.5 L101.5,329.7 L102.0,329.6 L102.5,329.4 L103.0,329.3 L103.5,329.3 L104.0,329.2 L104.5,329.3 L105.0,329.3 L105.5,329.3 L106.0,329.3 L106.5,329.3 L107.0,329.3 L107.5,329.3 L108.0,329.2 L108.5,329.0 L109.0,329.0 L109.5,329.1 L110.0,329.1 L110.5,328.9 L111.0,328.7 L111.5,328.7 L112.0,328.6 L112.5,328.5 L113.0,328.6 L113.5,328.6 L114.0,328.5 L114.5,328.4 L115.0,328.3 L115.5,328.4 L116.0,328.4 L116.5,328.4 L117.0,328.6 L117.5,328.8 L118.0,328.7 L118.5,328.7 L119.0,328.8 L119.5,329.0 L120.0,329.2 L120.5,329.2 L121.0,329.2 L121.5,329.2 L122.0,329.2 L122.5,329.1 L123.0,329.3 L123.5,329.3 L124.0,329.2 L124.5,329.2 L125.0,329.1 L125.5,329.1 L126.0,329.3 L126.5,329.3 L127.0,329.2 L127.5,329.2 L128.0,329.3 L128.5,329.3 L129.0,329.1 L129.5,329.2 L130.0,329.4 L130.5,329.4 L131.0,329.1 L131.5,329.2 L132.0,329.3 L132.5,329.4 L133.0,329.4 L133.5,329.3 L134.0,329.3 L134.5,329.3 L135.0,329.4 L135.5,329.4 L136.0,329.2 L136.5,329.2 L137.0,329.4 L137.5,329.5 L138.0,329.5 L138.5,329.5 L139.0,329.4 L139.5,329.2 L140.0,329.2 L140.5,329.3 L141.0,329.3 L141.5,329.2 L142.0,329.1 L142.5,329.2 L143.0,329.3 L143.5,329.3 L144.0,329.1 L144.5,329.0 L145.0,329.2 L145.5,329.4 L146.0,329.4 L146.5,329.2 L147.0,329.1 L147.5,328.9 L148.0,328.3 L148.5,327.5 L149.0,326.9 L149.5,327.5 L150.0,328.4 L150.5,329.0 L151.0,329.3 L151.5,329.5 L152.0,329.5 L152.5,329.3 L153.0,329.1 L153.5,329.1 L154.0,329.2 L154.5,329.1 L155.0,329.1 L155.5,329.3 L156.0,329.3 L156.5,329.1 L157.0,329.0 L157.5,329.1 L158.0,329.2 L158.5,329.4 L159.0,329.5 L159.5,329.3 L160.0,329.3 L160.5,329.4 L161.0,329.4 L161.5,329.4 L162.0,329.3 L162.5,329.2 L163.0,329.1 L163.5,329.2 L164.0,329.4 L164.5,329.3 L165.0,329.2 L165.5,329.2 L166.0,329.2 L166.5,329.1 L167.0,329.1 L167.5,329.3 L168.0,329.5 L168.5,329.3 L169.0,329.1 L169.5,329.0 L170.0,329.0 L170.5,329.2 L171.0,329.3 L171.5,329.2 L172.0,329.2 L172.5,329.2 L173.0,329.1 L173.5,329.0 L174.0,329.1 L174.5,329.1 L175.0,329.1 L175.5,329.0 L176.0,329.0 L176.5,329.1 L177.0,329.2 L177.5,329.2 L178.0,329.2 L178.5,329.3 L179.0,329.3 L179.5,329.3 L180.0,329.1 L180.5,329.1 L181.0,329.2 L181.5,329.2 L182.0,329.3 L182.5,329.3 L183.0,329.3 L183.5,329.3 L184.0,329.3 L184.5,329.2 L185.0,329.1 L185.5,329.2 L186.0,329.2 L186.5,329.4 L187.0,329.4 L187.5,329.4 L188.0,329.2 L188.5,329.1 L189.0,329.2 L189.5,329.2 L190.0,329.1 L190.5,329.1 L191.0,329.2 L191.5,329.2 L192.0,329.2 L192.5,329.1 L193.0,329.0 L193.5,328.9 L194.0,328.9 L194.5,328.9 L195.0,329.1 L195.5,329.2 L196.0,329.2 L196.5,329.2 L197.0,329.3 L197.5,329.2 L198.0,329.1 L198.5,329.0 L199.0,328.9 L199.5,329.0 L200.0,329.0 L200.5,329.0 L201.0,329.1 L201.5,329.2 L202.0,329.1 L202.5,329.0 L203.0,329.0 L203.5,329.0 L204.0,329.0 L204.5,329.0 L205.0,329.0 L205.5,328.9 L206.0,328.9 L206.5,328.8 L207.0,328.7 L207.5,328.7 L208.0,328.7 L208.5,328.7 L209.0,328.3 L209.5,327.4 L210.0,326.5 L210.5,325.5 L211.0,325.0 L211.5,325.6 L212.0,326.5 L212.5,327.4 L213.0,328.1 L213.5,328.5 L214.0,328.7 L214.5,328.7 L215.0,328.9 L215.5,328.9 L216.0,328.8 L216.5,328.8 L217.0,328.9 L217.5,329.0 L218.0,329.1 L218.5,329.0 L219.0,328.8 L219.5,328.8 L220.0,329.0 L220.5,329.2 L221.0,329.1 L221.5,329.0 L222.0,329.0 L222.5,329.1 L223.0,329.2 L223.5,329.1 L224.0,329.0 L224.5,329.0 L225.0,329.0 L225.5,329.0 L226.0,329.1 L226.5,329.0 L227.0,328.9 L227.5,328.8 L228.0,328.9 L228.5,329.0 L229.0,329.1 L229.5,329.1 L230.0,329.1 L230.5,329.1 L231.0,329.0 L231.5,329.0 L232.0,329.0 L232.5,329.0 L233.0,329.0 L233.5,329.1 L234.0,329.0 L234.5,328.9 L235.0,329.0 L235.5,329.1 L236.0,329.0 L236.5,328.9 L237.0,328.9 L237.5,328.9 L238.0,328.8 L238.5,328.9 L239.0,328.9 L239.5,328.9 L240.0,329.0 L240.5,328.9 L241.0,328.8 L241.5,328.7 L242.0,328.6 L242.5,328.7 L243.0,328.9 L243.5,328.8 L244.0,328.9 L244.5,328.8 L245.0,328.8 L245.5,328.6 L246.0,328.4 L246.5,328.4 L247.0,328.5 L247.5,328.3 L248.0,328.2 L248.5,328.1 L249.0,327.7 L249.5,327.2 L250.0,326.9 L250.5,326.8 L251.0,326.9 L251.5,327.3 L252.0,327.5 L252.5,327.5 L253.0,327.2 L253.5,327.1 L254.0,327.0 L254.5,326.7 L255.0,326.1 L255.5,325.1 L256.0,323.4 L256.5,320.3 L257.0,314.5 L257.5,305.2 L258.0,292.8 L258.5,282.3 L259.0,282.2 L259.5,292.5 L260.0,304.8 L260.5,314.3 L261.0,320.3 L261.5,323.7 L262.0,325.3 L262.5,326.1 L263.0,326.7 L263.5,327.1 L264.0,327.4 L264.5,327.7 L265.0,327.7 L265.5,327.7 L266.0,328.0 L266.5,328.2 L267.0,328.4 L267.5,328.3 L268.0,328.3 L268.5,328.5 L269.0,328.5 L269.5,328.6 L270.0,328.7 L270.5,328.7 L271.0,328.6 L271.5,328.7 L272.0,328.7 L272.5,328.7 L273.0,328.7 L273.5,328.9 L274.0,329.0 L274.5,328.8 L275.0,328.7 L275.5,328.8 L276.0,328.8 L276.5,328.8 L277.0,328.8 L277.5,328.9 L278.0,328.8 L278.5,328.6 L279.0,328.5 L279.5,328.6 L280.0,328.9 L280.5,328.8 L281.0,328.6 L281.5,328.7 L282.0,328.8 L282.5,328.8 L283.0,328.7 L283.5,328.8 L284.0,328.9 L284.5,328.9 L285.0,328.9 L285.5,329.0 L286.0,328.9 L286.5,328.8 L287.0,328.7 L287.5,328.8 L288.0,328.9 L288.5,328.9 L289.0,328.9 L289.5,329.0 L290.0,329.0 L290.5,328.9 L291.0,328.7 L291.5,328.6 L292.0,328.7 L292.5,328.9 L293.0,328.8 L293.5,328.8 L294.0,328.7 L294.5,328.6 L295.0,328.7 L295.5,328.8 L296.0,328.8 L296.5,328.6 L297.0,328.5 L297.5,328.7 L298.0,328.8 L298.5,328.7 L299.0,328.6 L299.5,328.8 L300.0,328.8 L300.5,328.7 L301.0,328.6 L301.5,328.6 L302.0,328.5 L302.5,328.3 L303.0,328.2 L303.5,328.1 L304.0,327.9 L304.5,327.5 L305.0,326.7 L305.5,325.8 L306.0,324.2 L306.5,321.6 L307.0,318.4 L307.5,315.4 L308.0,314.1 L308.5,315.5 L309.0,318.7 L309.5,322.0 L310.0,324.5 L310.5,326.0 L311.0,326.9 L311.5,327.5 L312.0,327.8 L312.5,327.8 L313.0,327.9 L313.5,328.1 L314.0,328.2 L314.5,328.3 L315.0,328.4 L315.5,328.5 L316.0,328.5 L316.5,328.5 L317.0,328.5 L317.5,328.5 L318.0,328.4 L318.5,328.4 L319.0,328.6 L319.5,328.6 L320.0,328.5 L320.5,328.6 L321.0,328.7 L321.5,328.7 L322.0,328.7 L322.5,328.7 L323.0,328.6 L323.5,328.6 L324.0,328.7 L324.5,328.8 L325.0,328.9 L325.5,328.9 L326.0,328.8 L326.5,328.7 L327.0,328.8 L327.5,328.7 L328.0,328.8 L328.5,328.8 L329.0,328.7 L329.5,328.7 L330.0,328.8 L330.5,329.0 L331.0,329.0 L331.5,328.8 L332.0,328.6 L332.5,328.5 L333.0,328.6 L333.5,328.7 L334.0,328.6 L334.5,328.7 L335.0,328.6 L335.5,328.6 L336.0,328.6 L336.5,328.6 L337.0,328.8 L337.5,328.8 L338.0,328.5 L338.5,328.5 L339.0,328.7 L339.5,328.7 L340.0,328.6 L340.5,328.6 L341.0,328.7 L341.5,328.7 L342.0,328.8 L342.5,328.9 L343.0,329.0 L343.5,328.9 L344.0,328.9 L344.5,328.9 L345.0,328.9 L345.5,328.8 L346.0,328.6 L346.5,328.7 L347.0,328.8 L347.5,328.8 L348.0,328.8 L348.5,328.7 L349.0,328.8 L349.5,328.9 L350.0,328.8 L350.5,328.7 L351.0,328.7 L351.5,328.6 L352.0,328.7 L352.5,328.7 L353.0,328.8 L353.5,328.8 L354.0,328.7 L354.5,328.6 L355.0,328.7 L355.5,328.7 L356.0,328.5 L356.5,328.5 L357.0,328.6 L357.5,328.7 L358.0,328.6 L358.5,328.5 L359.0,328.6 L359.5,328.7 L360.0,328.8 L360.5,328.8 L361.0,328.7 L361.5,328.6 L362.0,328.5 L362.5,328.5 L363.0,328.6 L363.5,328.6 L364.0,328.6 L364.5,328.6 L365.0,328.8 L365.5,328.8 L366.0,328.7 L366.5,328.7 L367.0,328.7 L367.5,328.6 L368.0,328.6 L368.5,328.7 L369.0,328.7 L369.5,328.7 L370.0,328.7 L370.5,328.6 L371.0,328.6 L371.5,328.6 L372.0,328.5 L372.5,328.5 L373.0,328.4 L373.5,328.5 L374.0,328.7 L374.5,328.7 L375.0,328.7 L375.5,328.7 L376.0,328.5 L376.5,328.6 L377.0,328.8 L377.5,328.7 L378.0,328.2 L378.5,328.1 L379.0,328.4 L379.5,328.6 L380.0,328.6 L380.5,328.6 L381.0,328.6 L381.5,328.5 L382.0,328.6 L382.5,328.7 L383.0,328.7 L383.5,328.6 L384.0,328.6 L384.5,328.6 L385.0,328.6 L385.5,328.8 L386.0,328.8 L386.5,328.5 L387.0,328.3 L387.5,328.4 L388.0,328.6 L388.5,328.7 L389.0,328.7 L389.5,328.5 L390.0,328.5 L390.5,328.6 L391.0,328.6 L391.5,328.6 L392.0,328.6 L392.5,328.6 L393.0,328.7 L393.5,328.7 L394.0,328.6 L394.5,328.5 L395.0,328.5 L395.5,328.6 L396.0,328.6 L396.5,328.7 L397.0,328.5 L397.5,328.4 L398.0,328.4 L398.5,328.5 L399.0,328.5 L399.5,328.5 L400.0,328.6 L400.5,328.6 L401.0,328.4 L401.5,328.4 L402.0,328.5 L402.5,328.5 L403.0,328.4 L403.5,328.6 L404.0,328.8 L404.5,328.7 L405.0,328.7 L405.5,328.8 L406.0,328.7 L406.5,328.5 L407.0,328.5 L407.5,328.5 L408.0,328.4 L408.5,328.3 L409.0,328.4 L409.5,328.5 L410.0,328.5 L410.5,328.5 L411.0,328.6 L411.5,328.5 L412.0,328.4 L412.5,328.6 L413.0,328.6 L413.5,328.6 L414.0,328.6 L414.5,328.6 L415.0,328.5 L415.5,328.6 L416.0,328.5 L416.5,328.5 L417.0,328.5 L417.5,328.4 L418.0,328.3 L418.5,328.4 L419.0,328.5 L419.5,328.5 L420.0,328.5 L420.5,328.4 L421.0,328.4 L421.5,328.3 L422.0,328.3 L422.5,328.3 L423.0,328.3 L423.5,328.3 L424.0,328.4 L424.5,328.4 L425.0,328.5 L425.5,328.7 L426.0,328.7 L426.5,328.6 L427.0,328.5 L427.5,328.3 L428.0,328.3 L428.5,328.2 L429.0,328.2 L429.5,328.3 L430.0,328.6 L430.5,328.7 L431.0,328.6 L431.5,328.4 L432.0,328.4 L432.5,328.4 L433.0,328.5 L433.5,328.5 L434.0,328.6 L434.5,328.8 L435.0,328.8 L435.5,328.7 L436.0,328.5 L436.5,328.5 L437.0,328.6 L437.5,328.6 L438.0,328.4 L438.5,328.3 L439.0,328.3 L439.5,328.4 L440.0,328.5 L440.5,328.4 L441.0,328.3 L441.5,328.2 L442.0,328.4 L442.5,328.5 L443.0,328.5 L443.5,328.4 L444.0,328.4 L444.5,328.5 L445.0,328.5 L445.5,328.4 L446.0,328.3 L446.5,328.2 L447.0,328.3 L447.5,328.4 L448.0,328.5 L448.5,328.6 L449.0,328.4 L449.5,328.2 L450.0,328.3 L450.5,328.4 L451.0,328.3 L451.5,328.2 L452.0,328.2 L452.5,328.3 L453.0,328.4 L453.5,328.3 L454.0,328.3 L454.5,328.3 L455.0,328.1 L455.5,328.3 L456.0,328.5 L456.5,328.4 L457.0,328.3 L457.5,328.3 L458.0,328.3 L458.5,328.2 L459.0,328.3 L459.5,328.2 L460.0,328.2 L460.5,328.2 L461.0,328.1 L461.5,328.1 L462.0,328.1 L462.5,328.2 L463.0,328.2 L463.5,328.2 L464.0,328.1 L464.5,327.9 L465.0,327.9 L465.5,327.9 L466.0,327.8 L466.5,327.6 L467.0,327.4 L467.5,326.9 L468.0,326.3 L468.5,325.4 L469.0,324.1 L469.5,322.6 L470.0,321.2 L470.5,320.1 L471.0,320.1 L471.5,321.2 L472.0,322.7 L472.5,324.2 L473.0,325.5 L473.5,326.4 L474.0,327.1 L474.5,327.6 L475.0,327.8 L475.5,327.9 L476.0,327.9 L476.5,327.9 L477.0,327.8 L477.5,327.8 L478.0,328.1 L478.5,328.3 L479.0,328.3 L479.5,328.2 L480.0,328.3 L480.5,328.2 L481.0,328.1 L481.5,328.0 L482.0,328.1 L482.5,328.3 L483.0,328.4 L483.5,328.3 L484.0,328.1 L484.5,328.1 L485.0,328.1 L485.5,328.1 L486.0,328.2 L486.5,328.4 L487.0,328.4 L487.5,328.3 L488.0,328.1 L488.5,328.1 L489.0,328.4 L489.5,328.4 L490.0,328.2 L490.5,328.2 L491.0,328.3 L491.5,328.4 L492.0,328.3 L492.5,328.3 L493.0,328.3 L493.5,328.3 L494.0,328.2 L494.5,328.0 L495.0,327.9 L495.5,328.0 L496.0,328.1 L496.5,328.3 L497.0,328.4 L497.5,328.4 L498.0,328.3 L498.5,328.4 L499.0,328.4 L499.5,328.3 L500.0,328.4 L500.5,328.4 L501.0,328.4 L501.5,328.4 L502.0,328.4 L502.5,328.3 L503.0,328.2 L503.5,328.1 L504.0,328.2 L504.5,328.2 L505.0,328.2 L505.5,328.2 L506.0,328.2 L506.5,328.4 L507.0,328.6 L507.5,328.5 L508.0,328.5 L508.5,328.5 L509.0,328.6 L509.5,328.3 L510.0,328.1" stroke="#1a66e0" stroke-width="1.9" fill="none" stroke-linejoin="round"/>
<path d="M586.0,179.9 L586.5,180.0 L587.0,180.2 L587.5,180.1 L588.0,179.9 L588.5,179.9 L589.0,180.0 L589.5,179.9 L590.0,179.9 L590.5,180.0 L591.0,180.1 L591.5,180.2 L592.0,180.1 L592.5,180.0 L593.0,180.0 L593.5,180.0 L594.0,180.0 L594.5,180.0 L595.0,180.0 L595.5,179.9 L596.0,179.9 L596.5,179.9 L597.0,180.0 L597.5,180.1 L598.0,180.0 L598.5,179.9 L599.0,179.9 L599.5,180.0 L600.0,179.9 L600.5,179.8 L601.0,179.9 L601.5,179.9 L602.0,179.9 L602.5,180.0 L603.0,180.1 L603.5,180.1 L604.0,180.1 L604.5,179.9 L605.0,179.9 L605.5,180.0 L606.0,180.1 L606.5,180.1 L607.0,180.0 L607.5,179.9 L608.0,179.9 L608.5,179.9 L609.0,179.9 L609.5,180.1 L610.0,180.1 L610.5,180.0 L611.0,180.0 L611.5,180.0 L612.0,179.9 L612.5,179.9 L613.0,180.0 L613.5,180.0 L614.0,180.0 L614.5,180.0 L615.0,180.0 L615.5,180.0 L616.0,180.1 L616.5,180.1 L617.0,180.1 L617.5,180.1 L618.0,180.1 L618.5,180.0 L619.0,180.1 L619.5,180.1 L620.0,180.1 L620.5,180.1 L621.0,180.3 L621.5,180.2 L622.0,180.2 L622.5,180.3 L623.0,180.3 L623.5,180.3 L624.0,180.3 L624.5,180.2 L625.0,180.1 L625.5,180.1 L626.0,180.2 L626.5,180.4 L627.0,180.6 L627.5,180.6 L628.0,180.5 L628.5,180.5 L629.0,180.5 L629.5,180.4 L630.0,180.3 L630.5,180.3 L631.0,180.4 L631.5,180.5 L632.0,180.5 L632.5,180.6 L633.0,180.7 L633.5,180.8 L634.0,180.8 L634.5,180.9 L635.0,180.8 L635.5,180.8 L636.0,180.8 L636.5,180.8 L637.0,181.0 L637.5,181.0 L638.0,181.0 L638.5,181.0 L639.0,180.9 L639.5,180.9 L640.0,180.9 L640.5,181.0 L641.0,181.1 L641.5,181.1 L642.0,181.1 L642.5,181.1 L643.0,181.1 L643.5,181.2 L644.0,181.1 L644.5,181.1 L645.0,181.1 L645.5,181.1 L646.0,181.3 L646.5,181.3 L647.0,181.3 L647.5,181.6 L648.0,181.6 L648.5,181.4 L649.0,181.4 L649.5,181.5 L650.0,181.6 L650.5,181.5 L651.0,181.5 L651.5,181.6 L652.0,181.6 L652.5,181.6 L653.0,181.5 L653.5,181.4 L654.0,181.3 L654.5,181.3 L655.0,181.5 L655.5,181.7 L656.0,181.6 L656.5,181.8 L657.0,181.8 L657.5,181.7 L658.0,181.7 L658.5,181.7 L659.0,181.7 L659.5,181.7 L660.0,181.8 L660.5,181.9 L661.0,181.9 L661.5,181.9 L662.0,181.9 L662.5,181.9 L663.0,181.9 L663.5,182.0 L664.0,182.0 L664.5,182.0 L665.0,182.0 L665.5,182.0 L666.0,182.0 L666.5,182.1 L667.0,182.2 L667.5,182.3 L668.0,182.4 L668.5,182.2 L669.0,182.0 L669.5,182.2 L670.0,182.4 L670.5,182.4 L671.0,182.3 L671.5,182.3 L672.0,182.5 L672.5,182.6 L673.0,182.5 L673.5,182.6 L674.0,182.7 L674.5,182.6 L675.0,182.5 L675.5,182.6 L676.0,182.6 L676.5,182.6 L677.0,182.7 L677.5,182.5 L678.0,182.5 L678.5,182.7 L679.0,182.9 L679.5,182.7 L680.0,182.7 L680.5,182.7 L681.0,182.6 L681.5,182.7 L682.0,182.7 L682.5,182.7 L683.0,182.6 L683.5,182.7 L684.0,182.9 L684.5,183.0 L685.0,182.9 L685.5,182.8 L686.0,182.7 L686.5,182.9 L687.0,182.9 L687.5,182.8 L688.0,182.8 L688.5,182.7 L689.0,182.7 L689.5,182.8 L690.0,182.7 L690.5,182.7 L691.0,182.8 L691.5,182.9 L692.0,182.9 L692.5,182.9 L693.0,182.9 L693.5,183.0 L694.0,183.0 L694.5,183.0 L695.0,183.0 L695.5,183.0 L696.0,183.2 L696.5,183.2 L697.0,183.1 L697.5,182.9 L698.0,182.8 L698.5,182.8 L699.0,182.9 L699.5,182.9 L700.0,183.0 L700.5,183.0 L701.0,183.0 L701.5,182.8 L702.0,182.9 L702.5,183.1 L703.0,183.1 L703.5,183.0 L704.0,183.1 L704.5,183.0 L705.0,182.9 L705.5,182.9 L706.0,183.0 L706.5,183.1 L707.0,183.2 L707.5,183.1 L708.0,183.1 L708.5,183.1 L709.0,183.2 L709.5,183.1 L710.0,183.0 L710.5,183.1 L711.0,183.2 L711.5,183.3 L712.0,183.3 L712.5,183.2 L713.0,183.2 L713.5,183.1 L714.0,183.1 L714.5,183.2 L715.0,183.3 L715.5,183.2 L716.0,183.1 L716.5,183.2 L717.0,183.1 L717.5,183.1 L718.0,183.0 L718.5,183.2 L719.0,183.3 L719.5,183.3 L720.0,183.2 L720.5,183.1 L721.0,183.0 L721.5,183.1 L722.0,183.2 L722.5,183.2 L723.0,183.2 L723.5,183.3 L724.0,183.3 L724.5,183.2 L725.0,183.2 L725.5,183.2 L726.0,183.2 L726.5,183.3 L727.0,183.3 L727.5,183.2 L728.0,183.2 L728.5,183.2 L729.0,183.1 L729.5,183.1 L730.0,183.1 L730.5,183.1 L731.0,183.2 L731.5,183.3 L732.0,183.4 L732.5,183.4 L733.0,183.2 L733.5,183.1 L734.0,183.0 L734.5,182.9 L735.0,182.8 L735.5,182.9 L736.0,182.8 L736.5,182.7 L737.0,182.7 L737.5,182.8 L738.0,182.8 L738.5,182.6 L739.0,182.5 L739.5,182.4 L740.0,182.3 L740.5,182.2 L741.0,182.1 L741.5,181.9 L742.0,181.8 L742.5,181.6 L743.0,181.4 L743.5,181.2 L744.0,180.9 L744.5,180.7 L745.0,180.5 L745.5,180.1 L746.0,179.7 L746.5,179.3 L747.0,178.6 L747.5,177.9 L748.0,177.1 L748.5,176.0 L749.0,174.6 L749.5,172.9 L750.0,170.7 L750.5,167.8 L751.0,163.8 L751.5,158.6 L752.0,151.2 L752.5,140.8 L753.0,126.8 L753.5,109.5 L754.0,92.9 L754.5,85.4 L755.0,92.3 L755.5,108.6 L756.0,126.0 L756.5,140.3 L757.0,150.8 L757.5,158.3 L758.0,163.8 L758.5,167.7 L759.0,170.6 L759.5,172.9 L760.0,174.8 L760.5,176.1 L761.0,177.0 L761.5,177.9 L762.0,178.6 L762.5,179.3 L763.0,179.9 L763.5,180.2 L764.0,180.4 L764.5,180.7 L765.0,181.1 L765.5,181.4 L766.0,181.6 L766.5,181.8 L767.0,181.9 L767.5,182.0 L768.0,182.0 L768.5,182.1 L769.0,182.0 L769.5,181.6 L770.0,182.1 L770.5,182.5 L771.0,182.5 L771.5,182.7 L772.0,182.8 L772.5,182.9 L773.0,182.9 L773.5,182.9 L774.0,183.0 L774.5,183.1 L775.0,182.9 L775.5,183.0 L776.0,183.1 L776.5,183.2 L777.0,183.2 L777.5,183.3 L778.0,183.3 L778.5,183.2 L779.0,183.2 L779.5,183.2 L780.0,183.0 L780.5,183.1 L781.0,183.4 L781.5,183.5 L782.0,183.5 L782.5,183.4 L783.0,183.4 L783.5,183.5 L784.0,183.5 L784.5,183.5 L785.0,183.5 L785.5,183.3 L786.0,183.2 L786.5,183.4 L787.0,183.6 L787.5,183.7 L788.0,183.6 L788.5,183.4 L789.0,183.3 L789.5,183.3 L790.0,183.4 L790.5,183.4 L791.0,183.4 L791.5,183.4 L792.0,183.3 L792.5,183.2 L793.0,183.1 L793.5,183.1 L794.0,183.0 L794.5,182.9 L795.0,182.9 L795.5,182.9 L796.0,182.7 L796.5,182.4 L797.0,182.3 L797.5,182.2 L798.0,182.0 L798.5,181.9 L799.0,181.8 L799.5,181.6 L800.0,181.3 L800.5,181.1 L801.0,180.8 L801.5,180.2 L802.0,179.9 L802.5,179.3 L803.0,178.5 L803.5,177.6 L804.0,176.8 L804.5,176.0 L805.0,175.4 L805.5,175.0 L806.0,174.9 L806.5,175.2 L807.0,175.8 L807.5,176.6 L808.0,177.6 L808.5,178.5 L809.0,179.4 L809.5,180.2 L810.0,180.9 L810.5,181.4 L811.0,181.9 L811.5,182.3 L812.0,182.4 L812.5,182.6 L813.0,182.8 L813.5,183.0 L814.0,183.1 L814.5,183.2 L815.0,183.3 L815.5,183.4 L816.0,183.5 L816.5,183.5 L817.0,183.5 L817.5,183.6 L818.0,183.7 L818.5,183.6 L819.0,183.6 L819.5,183.8 L820.0,183.9 L820.5,184.0 L821.0,184.2 L821.5,184.5 L822.0,184.7 L822.5,184.8 L823.0,185.1 L823.5,185.2 L824.0,185.1 L824.5,185.1 L825.0,185.2 L825.5,185.1 L826.0,184.8 L826.5,184.8 L827.0,185.0 L827.5,185.1 L828.0,185.1 L828.5,185.0 L829.0,185.0 L829.5,185.0 L830.0,185.0 L830.5,185.0 L831.0,185.0 L831.5,185.0 L832.0,185.0 L832.5,184.9 L833.0,184.9 L833.5,185.0 L834.0,185.0 L834.5,185.1 L835.0,185.1 L835.5,185.0 L836.0,184.9 L836.5,185.0 L837.0,185.1 L837.5,185.1 L838.0,185.2 L838.5,185.3 L839.0,185.3 L839.5,185.2 L840.0,185.2 L840.5,185.2 L841.0,185.2 L841.5,185.1 L842.0,185.1 L842.5,185.1 L843.0,185.2 L843.5,185.3 L844.0,185.5 L844.5,185.5 L845.0,185.4 L845.5,185.3 L846.0,185.3 L846.5,185.3 L847.0,185.2 L847.5,185.2 L848.0,185.2 L848.5,185.3 L849.0,185.4 L849.5,185.3 L850.0,185.3 L850.5,185.3 L851.0,185.3 L851.5,185.2 L852.0,185.2 L852.5,185.4 L853.0,185.4 L853.5,185.4 L854.0,185.3 L854.5,185.3 L855.0,185.4 L855.5,185.3 L856.0,185.3 L856.5,185.3 L857.0,185.3 L857.5,185.5 L858.0,185.4 L858.5,185.3 L859.0,185.4 L859.5,185.5 L860.0,185.5 L860.5,185.5 L861.0,185.5 L861.5,185.5 L862.0,185.5 L862.5,185.5 L863.0,185.4 L863.5,185.5 L864.0,185.5 L864.5,185.4 L865.0,185.5 L865.5,185.3 L866.0,184.2 L866.5,183.4 L867.0,184.7 L867.5,185.5 L868.0,185.5 L868.5,185.4 L869.0,185.5 L869.5,185.6 L870.0,185.6 L870.5,185.5 L871.0,185.5 L871.5,185.6 L872.0,185.6 L872.5,185.6 L873.0,185.7 L873.5,185.8 L874.0,185.7 L874.5,185.6 L875.0,185.5 L875.5,185.7 L876.0,185.7 L876.5,185.6 L877.0,185.4 L877.5,185.5 L878.0,185.7 L878.5,185.8 L879.0,185.8 L879.5,185.8 L880.0,185.8 L880.5,185.7 L881.0,185.6 L881.5,185.5 L882.0,185.5 L882.5,185.6 L883.0,185.6 L883.5,185.6 L884.0,185.6 L884.5,185.6 L885.0,185.7 L885.5,185.8 L886.0,185.8 L886.5,185.9 L887.0,185.9 L887.5,185.7 L888.0,185.7 L888.5,185.7 L889.0,185.6 L889.5,185.7 L890.0,185.7 L890.5,185.7 L891.0,185.7 L891.5,185.7 L892.0,185.7 L892.5,185.7 L893.0,185.7 L893.5,185.6 L894.0,185.7 L894.5,185.6 L895.0,185.6 L895.5,185.8 L896.0,185.8 L896.5,185.8 L897.0,185.8 L897.5,185.8 L898.0,185.9 L898.5,185.8 L899.0,185.8 L899.5,185.9 L900.0,185.9 L900.5,185.8 L901.0,185.7 L901.5,185.6 L902.0,185.6 L902.5,185.6 L903.0,185.8 L903.5,185.9 L904.0,185.8 L904.5,185.7 L905.0,185.7 L905.5,185.7 L906.0,185.8 L906.5,185.8 L907.0,185.7 L907.5,185.7 L908.0,185.7 L908.5,185.8 L909.0,185.8 L909.5,185.8 L910.0,185.8 L910.5,185.9 L911.0,186.1 L911.5,186.1 L912.0,186.0 L912.5,185.8 L913.0,185.8 L913.5,186.1 L914.0,186.2 L914.5,186.2 L915.0,186.2 L915.5,186.1 L916.0,186.1 L916.5,186.2 L917.0,186.1 L917.5,186.1 L918.0,186.2 L918.5,186.2 L919.0,186.3 L919.5,186.1 L920.0,186.0 L920.5,185.9 L921.0,186.0 L921.5,186.1 L922.0,186.1 L922.5,186.2 L923.0,186.2 L923.5,186.0 L924.0,185.7 L924.5,185.4 L925.0,185.8 L925.5,186.1 L926.0,186.2 L926.5,186.5 L927.0,186.5 L927.5,186.5 L928.0,186.5 L928.5,186.4 L929.0,186.4 L929.5,186.4 L930.0,186.4 L930.5,186.4 L931.0,186.4 L931.5,186.5 L932.0,186.5 L932.5,186.5 L933.0,186.6 L933.5,186.5 L934.0,186.5 L934.5,186.6 L935.0,186.5 L935.5,186.5 L936.0,186.4 L936.5,186.3 L937.0,186.4 L937.5,186.5 L938.0,186.6 L938.5,186.7 L939.0,186.8 L939.5,186.9 L940.0,186.9 L940.5,186.7 L941.0,186.4 L941.5,186.0 L942.0,186.1 L942.5,186.5 L943.0,186.8 L943.5,186.7 L944.0,186.5 L944.5,186.5 L945.0,186.6 L945.5,186.7 L946.0,186.6 L946.5,186.3 L947.0,186.3 L947.5,186.3 L948.0,186.3 L948.5,186.4 L949.0,186.4 L949.5,186.4 L950.0,186.4 L950.5,186.4 L951.0,186.4 L951.5,186.3 L952.0,186.2 L952.5,186.3 L953.0,186.3 L953.5,186.2 L954.0,186.1 L954.5,186.0 L955.0,186.1 L955.5,186.0 L956.0,186.0 L956.5,186.1 L957.0,186.1 L957.5,186.1 L958.0,186.1 L958.5,186.1 L959.0,185.8 L959.5,185.8 L960.0,185.9 L960.5,185.7 L961.0,185.5 L961.5,185.7 L962.0,185.8 L962.5,185.8 L963.0,185.8 L963.5,185.7 L964.0,185.7 L964.5,185.6 L965.0,185.6 L965.5,185.6 L966.0,185.6 L966.5,185.6 L967.0,185.7 L967.5,185.8 L968.0,185.6 L968.5,185.4 L969.0,185.5 L969.5,185.5 L970.0,185.5 L970.5,185.4 L971.0,185.4 L971.5,185.4 L972.0,185.3 L972.5,185.2 L973.0,185.2 L973.5,185.1 L974.0,184.8 L974.5,184.6 L975.0,184.6 L975.5,184.6 L976.0,184.3 L976.5,184.1 L977.0,184.2 L977.5,184.2 L978.0,184.1 L978.5,184.0 L979.0,184.0 L979.5,184.2 L980.0,184.5 L980.5,184.8 L981.0,185.0 L981.5,185.0 L982.0,185.1 L982.5,185.3 L983.0,185.6 L983.5,185.8 L984.0,185.9 L984.5,186.0 L985.0,186.1 L985.5,186.1 L986.0,186.1 L986.5,186.1 L987.0,186.0 L987.5,186.1 L988.0,186.2 L988.5,186.2 L989.0,186.1 L989.5,186.2 L990.0,186.2 L990.5,186.2 L991.0,186.3 L991.5,186.3 L992.0,186.4 L992.5,186.4 L993.0,186.4 L993.5,186.5 L994.0,186.5 L994.5,186.3 L995.0,186.2 L995.5,186.3 L996.0,186.4 L996.5,186.5 L997.0,186.6 L997.5,186.6 L998.0,186.5 L998.5,186.5 L999.0,186.4 L999.5,186.5 L1000.0,186.6 L1000.5,186.5 L1001.0,186.5 L1001.5,186.5 L1002.0,186.5 L1002.5,186.6 L1003.0,186.5 L1003.5,186.4 L1004.0,186.5 L1004.5,186.5 L1005.0,186.5 L1005.5,186.6 L1006.0,186.5 L1006.5,186.4 L1007.0,186.6 L1007.5,186.8 L1008.0,186.9 L1008.5,186.8 L1009.0,186.6 L1009.5,186.5 L1010.0,186.6 L1010.5,186.7 L1011.0,186.6" stroke="#fa0d0d" stroke-width="1.9" fill="none" stroke-linejoin="round"/>
<path d="M586.0,260.2 L586.5,260.1 L587.0,260.2 L587.5,260.4 L588.0,260.4 L588.5,260.3 L589.0,260.2 L589.5,260.2 L590.0,260.3 L590.5,260.4 L591.0,260.3 L591.5,260.1 L592.0,260.1 L592.5,260.3 L593.0,260.2 L593.5,260.1 L594.0,260.1 L594.5,260.1 L595.0,260.0 L595.5,260.1 L596.0,260.1 L596.5,260.2 L597.0,260.1 L597.5,260.1 L598.0,260.2 L598.5,260.1 L599.0,260.0 L599.5,260.0 L600.0,260.0 L600.5,260.0 L601.0,260.0 L601.5,260.0 L602.0,260.1 L602.5,260.0 L603.0,259.9 L603.5,259.9 L604.0,259.9 L604.5,259.9 L605.0,259.9 L605.5,260.0 L606.0,260.1 L606.5,260.0 L607.0,259.9 L607.5,259.9 L608.0,259.9 L608.5,259.9 L609.0,259.9 L609.5,259.8 L610.0,259.8 L610.5,260.0 L611.0,260.0 L611.5,259.9 L612.0,259.9 L612.5,259.8 L613.0,259.8 L613.5,259.9 L614.0,260.0 L614.5,260.1 L615.0,260.2 L615.5,260.2 L616.0,260.2 L616.5,260.2 L617.0,260.2 L617.5,260.3 L618.0,260.4 L618.5,260.4 L619.0,260.4 L619.5,260.5 L620.0,260.6 L620.5,260.6 L621.0,260.6 L621.5,260.7 L622.0,260.7 L622.5,260.8 L623.0,260.9 L623.5,260.8 L624.0,260.8 L624.5,260.9 L625.0,261.1 L625.5,261.1 L626.0,261.1 L626.5,261.1 L627.0,261.3 L627.5,261.2 L628.0,261.3 L628.5,261.3 L629.0,261.3 L629.5,261.3 L630.0,261.4 L630.5,261.4 L631.0,261.4 L631.5,261.5 L632.0,261.3 L632.5,261.2 L633.0,261.2 L633.5,261.3 L634.0,261.4 L634.5,261.4 L635.0,261.3 L635.5,261.3 L636.0,261.3 L636.5,261.3 L637.0,261.3 L637.5,261.3 L638.0,261.4 L638.5,261.6 L639.0,261.4 L639.5,261.3 L640.0,261.5 L640.5,261.4 L641.0,261.3 L641.5,261.4 L642.0,261.4 L642.5,261.3 L643.0,261.2 L643.5,261.2 L644.0,261.4 L644.5,261.4 L645.0,261.4 L645.5,261.4 L646.0,261.5 L646.5,261.3 L647.0,261.3 L647.5,261.3 L648.0,261.2 L648.5,261.2 L649.0,261.3 L649.5,261.3 L650.0,261.3 L650.5,261.3 L651.0,261.4 L651.5,261.4 L652.0,261.4 L652.5,261.4 L653.0,261.5 L653.5,261.5 L654.0,261.4 L654.5,261.4 L655.0,261.3 L655.5,261.2 L656.0,261.3 L656.5,261.4 L657.0,261.5 L657.5,261.5 L658.0,261.4 L658.5,261.3 L659.0,261.5 L659.5,261.6 L660.0,261.5 L660.5,261.5 L661.0,261.5 L661.5,261.3 L662.0,261.4 L662.5,261.6 L663.0,261.7 L663.5,261.6 L664.0,261.6 L664.5,261.6 L665.0,261.6 L665.5,261.6 L666.0,261.7 L666.5,261.9 L667.0,261.8 L667.5,261.7 L668.0,261.7 L668.5,261.8 L669.0,261.8 L669.5,261.7 L670.0,261.8 L670.5,262.1 L671.0,262.1 L671.5,262.0 L672.0,262.1 L672.5,262.1 L673.0,261.9 L673.5,261.9 L674.0,262.1 L674.5,262.1 L675.0,262.1 L675.5,262.1 L676.0,262.2 L676.5,262.4 L677.0,262.5 L677.5,262.2 L678.0,262.3 L678.5,262.4 L679.0,262.3 L679.5,262.2 L680.0,262.3 L680.5,262.4 L681.0,262.4 L681.5,262.3 L682.0,262.2 L682.5,262.3 L683.0,262.4 L683.5,262.4 L684.0,262.3 L684.5,262.1 L685.0,262.1 L685.5,262.3 L686.0,262.1 L686.5,262.0 L687.0,262.1 L687.5,262.2 L688.0,262.2 L688.5,262.2 L689.0,262.2 L689.5,262.2 L690.0,262.1 L690.5,262.2 L691.0,262.4 L691.5,262.4 L692.0,262.3 L692.5,262.2 L693.0,262.2 L693.5,262.2 L694.0,262.1 L694.5,262.0 L695.0,262.1 L695.5,262.2 L696.0,262.3 L696.5,262.2 L697.0,262.2 L697.5,262.2 L698.0,262.1 L698.5,262.1 L699.0,261.9 L699.5,262.0 L700.0,262.0 L700.5,261.8 L701.0,261.9 L701.5,262.0 L702.0,262.0 L702.5,261.9 L703.0,261.9 L703.5,262.0 L704.0,262.0 L704.5,262.0 L705.0,261.9 L705.5,261.9 L706.0,262.0 L706.5,262.1 L707.0,262.0 L707.5,262.0 L708.0,261.9 L708.5,261.8 L709.0,261.8 L709.5,262.0 L710.0,262.1 L710.5,262.1 L711.0,262.2 L711.5,262.4 L712.0,262.5 L712.5,262.6 L713.0,262.8 L713.5,263.0 L714.0,263.1 L714.5,263.2 L715.0,263.3 L715.5,263.3 L716.0,263.3 L716.5,263.2 L717.0,263.2 L717.5,263.2 L718.0,263.3 L718.5,263.3 L719.0,263.4 L719.5,263.2 L720.0,263.2 L720.5,263.3 L721.0,263.4 L721.5,263.4 L722.0,263.4 L722.5,263.5 L723.0,263.5 L723.5,263.4 L724.0,263.4 L724.5,263.4 L725.0,263.4 L725.5,263.4 L726.0,263.4 L726.5,263.6 L727.0,263.6 L727.5,263.5 L728.0,263.4 L728.5,263.4 L729.0,263.5 L729.5,263.5 L730.0,263.5 L730.5,263.5 L731.0,263.5 L731.5,263.6 L732.0,263.5 L732.5,263.5 L733.0,263.5 L733.5,263.6 L734.0,263.6 L734.5,263.4 L735.0,263.4 L735.5,263.4 L736.0,263.4 L736.5,263.4 L737.0,263.4 L737.5,263.2 L738.0,263.2 L738.5,263.3 L739.0,263.3 L739.5,263.2 L740.0,263.2 L740.5,263.2 L741.0,262.9 L741.5,262.7 L742.0,262.6 L742.5,262.5 L743.0,262.4 L743.5,262.3 L744.0,262.2 L744.5,262.0 L745.0,261.7 L745.5,261.6 L746.0,261.6 L746.5,261.4 L747.0,261.0 L747.5,260.6 L748.0,260.1 L748.5,259.5 L749.0,258.6 L749.5,257.6 L750.0,256.4 L750.5,254.9 L751.0,252.9 L751.5,250.2 L752.0,246.6 L752.5,241.6 L753.0,234.5 L753.5,224.9 L754.0,213.4 L754.5,203.2 L755.0,199.5 L755.5,205.4 L756.0,216.6 L756.5,227.7 L757.0,236.5 L757.5,242.9 L758.0,247.6 L758.5,250.9 L759.0,253.3 L759.5,255.2 L760.0,256.6 L760.5,257.7 L761.0,258.7 L761.5,259.4 L762.0,259.9 L762.5,260.3 L763.0,260.7 L763.5,261.1 L764.0,261.3 L764.5,261.6 L765.0,261.8 L765.5,262.0 L766.0,262.2 L766.5,262.3 L767.0,262.3 L767.5,262.4 L768.0,262.5 L768.5,262.5 L769.0,262.1 L769.5,261.7 L770.0,262.1 L770.5,262.7 L771.0,263.0 L771.5,263.1 L772.0,263.1 L772.5,263.1 L773.0,263.0 L773.5,263.0 L774.0,263.1 L774.5,263.2 L775.0,263.2 L775.5,263.2 L776.0,263.3 L776.5,263.3 L777.0,263.2 L777.5,263.2 L778.0,263.2 L778.5,263.3 L779.0,263.4 L779.5,263.4 L780.0,263.4 L780.5,263.4 L781.0,263.4 L781.5,263.4 L782.0,263.3 L782.5,263.4 L783.0,263.4 L783.5,263.3 L784.0,263.2 L784.5,263.3 L785.0,263.3 L785.5,263.3 L786.0,263.4 L786.5,263.4 L787.0,263.3 L787.5,263.6 L788.0,263.6 L788.5,263.6 L789.0,263.5 L789.5,263.5 L790.0,263.5 L790.5,263.6 L791.0,263.6 L791.5,263.6 L792.0,263.5 L792.5,263.4 L793.0,263.5 L793.5,263.6 L794.0,263.5 L794.5,263.4 L795.0,263.3 L795.5,263.4 L796.0,263.4 L796.5,263.2 L797.0,263.0 L797.5,262.9 L798.0,262.9 L798.5,262.8 L799.0,262.6 L799.5,262.7 L800.0,262.6 L800.5,262.3 L801.0,262.1 L801.5,261.9 L802.0,261.7 L802.5,261.2 L803.0,260.9 L803.5,260.5 L804.0,259.9 L804.5,259.4 L805.0,258.9 L805.5,258.6 L806.0,258.4 L806.5,258.5 L807.0,258.9 L807.5,259.4 L808.0,259.9 L808.5,260.4 L809.0,261.1 L809.5,261.9 L810.0,262.5 L810.5,263.0 L811.0,263.3 L811.5,263.6 L812.0,263.8 L812.5,264.0 L813.0,264.2 L813.5,264.4 L814.0,264.4 L814.5,264.6 L815.0,264.8 L815.5,264.7 L816.0,264.7 L816.5,264.9 L817.0,265.0 L817.5,265.1 L818.0,265.1 L818.5,265.0 L819.0,265.2 L819.5,265.3 L820.0,265.3 L820.5,265.2 L821.0,265.1 L821.5,265.0 L822.0,265.1 L822.5,265.4 L823.0,265.4 L823.5,265.4 L824.0,265.4 L824.5,265.3 L825.0,265.3 L825.5,265.4 L826.0,265.4 L826.5,265.4 L827.0,265.4 L827.5,265.5 L828.0,265.5 L828.5,265.6 L829.0,265.6 L829.5,265.7 L830.0,265.7 L830.5,265.5 L831.0,265.5 L831.5,265.7 L832.0,265.9 L832.5,265.9 L833.0,265.9 L833.5,265.8 L834.0,265.7 L834.5,265.8 L835.0,265.8 L835.5,265.6 L836.0,265.6 L836.5,265.7 L837.0,265.6 L837.5,265.5 L838.0,265.6 L838.5,265.7 L839.0,265.7 L839.5,265.8 L840.0,265.7 L840.5,265.7 L841.0,265.7 L841.5,265.7 L842.0,265.7 L842.5,265.8 L843.0,265.8 L843.5,265.6 L844.0,265.5 L844.5,265.6 L845.0,265.8 L845.5,265.8 L846.0,265.7 L846.5,265.7 L847.0,265.6 L847.5,265.6 L848.0,265.7 L848.5,265.7 L849.0,265.6 L849.5,265.6 L850.0,265.7 L850.5,265.8 L851.0,265.8 L851.5,265.9 L852.0,266.0 L852.5,266.0 L853.0,265.9 L853.5,265.7 L854.0,265.7 L854.5,265.9 L855.0,265.9 L855.5,265.7 L856.0,265.5 L856.5,265.6 L857.0,265.8 L857.5,265.8 L858.0,265.8 L858.5,265.7 L859.0,265.6 L859.5,265.8 L860.0,266.0 L860.5,266.0 L861.0,265.9 L861.5,265.7 L862.0,265.8 L862.5,265.9 L863.0,266.0 L863.5,265.8 L864.0,265.8 L864.5,265.8 L865.0,265.6 L865.5,265.4 L866.0,264.7 L866.5,263.9 L867.0,264.7 L867.5,265.4 L868.0,265.6 L868.5,265.9 L869.0,266.0 L869.5,265.9 L870.0,265.9 L870.5,265.9 L871.0,265.9 L871.5,265.9 L872.0,265.9 L872.5,266.0 L873.0,266.1 L873.5,266.1 L874.0,266.0 L874.5,265.9 L875.0,265.9 L875.5,265.8 L876.0,265.8 L876.5,265.9 L877.0,266.0 L877.5,266.0 L878.0,266.0 L878.5,266.0 L879.0,266.0 L879.5,266.1 L880.0,266.2 L880.5,266.2 L881.0,266.1 L881.5,266.2 L882.0,266.2 L882.5,266.1 L883.0,266.2 L883.5,266.2 L884.0,266.1 L884.5,266.2 L885.0,266.3 L885.5,266.3 L886.0,266.3 L886.5,266.2 L887.0,266.2 L887.5,266.2 L888.0,266.1 L888.5,266.1 L889.0,266.1 L889.5,266.2 L890.0,266.2 L890.5,266.4 L891.0,266.4 L891.5,266.2 L892.0,266.3 L892.5,266.4 L893.0,266.4 L893.5,266.6 L894.0,266.5 L894.5,266.4 L895.0,266.3 L895.5,266.2 L896.0,266.3 L896.5,266.3 L897.0,266.4 L897.5,266.4 L898.0,266.6 L898.5,266.6 L899.0,266.6 L899.5,266.5 L900.0,266.5 L900.5,266.5 L901.0,266.5 L901.5,266.4 L902.0,266.5 L902.5,266.4 L903.0,266.4 L903.5,266.6 L904.0,266.7 L904.5,266.5 L905.0,266.5 L905.5,266.7 L906.0,266.6 L906.5,266.3 L907.0,266.5 L907.5,266.7 L908.0,266.7 L908.5,266.7 L909.0,266.7 L909.5,266.7 L910.0,266.5 L910.5,266.5 L911.0,266.5 L911.5,266.6 L912.0,266.7 L912.5,266.8 L913.0,266.8 L913.5,266.7 L914.0,266.7 L914.5,266.8 L915.0,266.8 L915.5,266.7 L916.0,266.8 L916.5,266.9 L917.0,266.9 L917.5,266.7 L918.0,266.6 L918.5,266.6 L919.0,266.7 L919.5,266.9 L920.0,266.8 L920.5,266.7 L921.0,266.8 L921.5,266.8 L922.0,266.8 L922.5,266.8 L923.0,266.8 L923.5,266.9 L924.0,266.7 L924.5,266.1 L925.0,266.4 L925.5,266.8 L926.0,266.8 L926.5,266.8 L927.0,266.9 L927.5,267.0 L928.0,266.9 L928.5,266.9 L929.0,267.0 L929.5,266.9 L930.0,266.8 L930.5,266.8 L931.0,267.0 L931.5,267.0 L932.0,267.1 L932.5,267.2 L933.0,267.2 L933.5,267.1 L934.0,267.1 L934.5,267.1 L935.0,267.1 L935.5,267.1 L936.0,267.2 L936.5,267.2 L937.0,267.3 L937.5,267.3 L938.0,267.2 L938.5,267.3 L939.0,267.3 L939.5,267.1 L940.0,267.1 L940.5,267.1 L941.0,266.9 L941.5,266.6 L942.0,266.7 L942.5,267.0 L943.0,267.2 L943.5,267.3 L944.0,267.3 L944.5,267.1 L945.0,267.0 L945.5,267.1 L946.0,267.1 L946.5,267.1 L947.0,267.2 L947.5,267.0 L948.0,266.8 L948.5,266.8 L949.0,266.9 L949.5,266.9 L950.0,266.9 L950.5,266.7 L951.0,266.6 L951.5,266.7 L952.0,266.8 L952.5,266.7 L953.0,266.5 L953.5,266.5 L954.0,266.5 L954.5,266.5 L955.0,266.6 L955.5,266.7 L956.0,266.5 L956.5,266.4 L957.0,266.3 L957.5,266.3 L958.0,266.2 L958.5,266.2 L959.0,266.2 L959.5,266.1 L960.0,266.1 L960.5,266.1 L961.0,266.0 L961.5,266.0 L962.0,266.1 L962.5,266.1 L963.0,266.1 L963.5,265.9 L964.0,265.8 L964.5,265.8 L965.0,265.8 L965.5,265.8 L966.0,265.7 L966.5,265.5 L967.0,265.6 L967.5,265.7 L968.0,265.7 L968.5,265.7 L969.0,265.7 L969.5,265.6 L970.0,265.5 L970.5,265.6 L971.0,265.7 L971.5,265.6 L972.0,265.5 L972.5,265.5 L973.0,265.4 L973.5,265.1 L974.0,264.9 L974.5,264.9 L975.0,264.9 L975.5,264.8 L976.0,264.8 L976.5,264.7 L977.0,264.8 L977.5,264.8 L978.0,264.9 L978.5,265.0 L979.0,265.0 L979.5,265.1 L980.0,265.3 L980.5,265.3 L981.0,265.4 L981.5,265.7 L982.0,265.9 L982.5,266.0 L983.0,266.1 L983.5,266.2 L984.0,266.2 L984.5,266.2 L985.0,266.3 L985.5,266.4 L986.0,266.5 L986.5,266.6 L987.0,266.8 L987.5,266.9 L988.0,266.8 L988.5,266.8 L989.0,266.9 L989.5,266.9 L990.0,266.9 L990.5,267.0 L991.0,267.0 L991.5,267.0 L992.0,267.0 L992.5,267.1 L993.0,267.2 L993.5,267.3 L994.0,267.3 L994.5,267.2 L995.0,267.1 L995.5,267.1 L996.0,267.2 L996.5,267.1 L997.0,267.0 L997.5,267.0 L998.0,267.0 L998.5,267.2 L999.0,267.4 L999.5,267.3 L1000.0,267.1 L1000.5,267.1 L1001.0,267.2 L1001.5,267.2 L1002.0,267.3 L1002.5,267.3 L1003.0,267.3 L1003.5,267.1 L1004.0,267.1 L1004.5,267.1 L1005.0,267.1 L1005.5,267.2 L1006.0,267.3 L1006.5,267.2 L1007.0,267.2 L1007.5,267.4 L1008.0,267.5 L1008.5,267.4 L1009.0,267.2 L1009.5,267.3 L1010.0,267.4 L1010.5,267.4 L1011.0,267.4" stroke="#26a25a" stroke-width="1.9" fill="none" stroke-linejoin="round"/>
<path d="M586.0,322.7 L586.5,322.6 L587.0,322.4 L587.5,322.4 L588.0,322.6 L588.5,322.7 L589.0,322.7 L589.5,322.7 L590.0,322.6 L590.5,322.6 L591.0,322.5 L591.5,322.4 L592.0,322.4 L592.5,322.5 L593.0,322.5 L593.5,322.6 L594.0,322.7 L594.5,322.7 L595.0,322.6 L595.5,322.6 L596.0,322.4 L596.5,322.4 L597.0,322.5 L597.5,322.5 L598.0,322.3 L598.5,322.3 L599.0,322.4 L599.5,322.5 L600.0,322.6 L600.5,322.6 L601.0,322.6 L601.5,322.6 L602.0,322.6 L602.5,322.6 L603.0,322.6 L603.5,322.5 L604.0,322.4 L604.5,322.5 L605.0,322.5 L605.5,322.5 L606.0,322.5 L606.5,322.6 L607.0,322.5 L607.5,322.5 L608.0,322.6 L608.5,322.7 L609.0,322.6 L609.5,322.6 L610.0,322.5 L610.5,322.4 L611.0,322.5 L611.5,322.6 L612.0,322.5 L612.5,322.4 L613.0,322.3 L613.5,322.3 L614.0,322.4 L614.5,322.5 L615.0,322.5 L615.5,322.6 L616.0,322.7 L616.5,322.7 L617.0,322.7 L617.5,322.7 L618.0,322.6 L618.5,322.6 L619.0,322.6 L619.5,322.7 L620.0,322.7 L620.5,322.7 L621.0,322.7 L621.5,322.7 L622.0,322.8 L622.5,322.8 L623.0,322.8 L623.5,322.8 L624.0,322.8 L624.5,322.8 L625.0,322.9 L625.5,323.0 L626.0,322.9 L626.5,322.9 L627.0,323.0 L627.5,322.9 L628.0,322.9 L628.5,323.0 L629.0,323.1 L629.5,323.1 L630.0,323.1 L630.5,323.1 L631.0,323.2 L631.5,323.2 L632.0,323.2 L632.5,323.2 L633.0,323.1 L633.5,323.0 L634.0,323.1 L634.5,323.2 L635.0,323.3 L635.5,323.3 L636.0,323.4 L636.5,323.4 L637.0,323.4 L637.5,323.4 L638.0,323.2 L638.5,323.1 L639.0,323.3 L639.5,323.2 L640.0,323.2 L640.5,323.3 L641.0,323.3 L641.5,323.3 L642.0,323.6 L642.5,323.7 L643.0,323.7 L643.5,323.6 L644.0,323.5 L644.5,323.5 L645.0,323.6 L645.5,323.6 L646.0,323.7 L646.5,323.7 L647.0,323.8 L647.5,323.9 L648.0,323.8 L648.5,323.6 L649.0,323.6 L649.5,323.7 L650.0,323.8 L650.5,323.9 L651.0,323.9 L651.5,323.9 L652.0,324.0 L652.5,324.0 L653.0,324.0 L653.5,324.0 L654.0,324.1 L654.5,324.1 L655.0,324.1 L655.5,324.2 L656.0,324.2 L656.5,324.1 L657.0,324.1 L657.5,324.1 L658.0,324.0 L658.5,324.0 L659.0,324.1 L659.5,324.1 L660.0,324.2 L660.5,324.3 L661.0,324.2 L661.5,324.3 L662.0,324.4 L662.5,324.4 L663.0,324.4 L663.5,324.4 L664.0,324.3 L664.5,324.1 L665.0,324.1 L665.5,324.3 L666.0,324.3 L666.5,324.2 L667.0,324.3 L667.5,324.4 L668.0,324.5 L668.5,324.4 L669.0,324.3 L669.5,324.4 L670.0,324.5 L670.5,324.7 L671.0,324.8 L671.5,324.6 L672.0,324.5 L672.5,324.6 L673.0,324.6 L673.5,324.6 L674.0,324.6 L674.5,324.5 L675.0,324.5 L675.5,324.6 L676.0,324.7 L676.5,324.7 L677.0,324.8 L677.5,324.8 L678.0,324.7 L678.5,324.7 L679.0,324.7 L679.5,324.8 L680.0,324.9 L680.5,324.7 L681.0,324.7 L681.5,324.9 L682.0,324.9 L682.5,324.8 L683.0,324.7 L683.5,324.7 L684.0,324.5 L684.5,324.4 L685.0,324.4 L685.5,324.3 L686.0,324.2 L686.5,324.2 L687.0,324.2 L687.5,324.2 L688.0,324.0 L688.5,323.9 L689.0,324.0 L689.5,324.1 L690.0,324.2 L690.5,324.2 L691.0,324.1 L691.5,324.0 L692.0,323.9 L692.5,323.7 L693.0,323.7 L693.5,323.7 L694.0,323.6 L694.5,323.6 L695.0,323.7 L695.5,323.6 L696.0,323.5 L696.5,323.5 L697.0,323.5 L697.5,323.4 L698.0,323.4 L698.5,323.3 L699.0,323.2 L699.5,323.3 L700.0,323.5 L700.5,323.5 L701.0,323.4 L701.5,323.3 L702.0,323.3 L702.5,323.4 L703.0,323.4 L703.5,323.3 L704.0,323.3 L704.5,323.4 L705.0,323.4 L705.5,323.3 L706.0,323.2 L706.5,323.3 L707.0,323.8 L707.5,324.1 L708.0,324.3 L708.5,324.6 L709.0,325.1 L709.5,325.4 L710.0,325.3 L710.5,325.2 L711.0,325.0 L711.5,325.1 L712.0,325.2 L712.5,325.3 L713.0,325.3 L713.5,325.3 L714.0,325.3 L714.5,325.4 L715.0,325.4 L715.5,325.4 L716.0,325.5 L716.5,325.6 L717.0,325.7 L717.5,325.6 L718.0,325.5 L718.5,325.5 L719.0,325.6 L719.5,325.6 L720.0,325.6 L720.5,325.7 L721.0,325.8 L721.5,325.8 L722.0,325.7 L722.5,325.7 L723.0,325.7 L723.5,325.9 L724.0,325.9 L724.5,325.7 L725.0,325.8 L725.5,325.8 L726.0,326.0 L726.5,326.1 L727.0,326.0 L727.5,326.0 L728.0,326.0 L728.5,326.1 L729.0,326.2 L729.5,326.2 L730.0,326.1 L730.5,325.9 L731.0,325.9 L731.5,326.0 L732.0,326.1 L732.5,326.2 L733.0,326.2 L733.5,326.2 L734.0,326.2 L734.5,326.3 L735.0,326.1 L735.5,326.0 L736.0,326.1 L736.5,326.2 L737.0,326.1 L737.5,326.2 L738.0,326.1 L738.5,325.8 L739.0,325.2 L739.5,324.5 L740.0,324.6 L740.5,325.2 L741.0,325.5 L741.5,325.6 L742.0,325.6 L742.5,325.6 L743.0,325.6 L743.5,325.5 L744.0,325.5 L744.5,325.6 L745.0,325.5 L745.5,325.3 L746.0,324.9 L746.5,324.8 L747.0,324.7 L747.5,324.5 L748.0,324.1 L748.5,323.7 L749.0,323.3 L749.5,322.9 L750.0,322.5 L750.5,321.6 L751.0,320.6 L751.5,319.5 L752.0,318.1 L752.5,315.8 L753.0,312.5 L753.5,308.4 L754.0,302.7 L754.5,295.0 L755.0,286.1 L755.5,279.3 L756.0,278.8 L756.5,284.9 L757.0,293.7 L757.5,301.7 L758.0,307.8 L758.5,312.2 L759.0,315.3 L759.5,317.6 L760.0,319.4 L760.5,320.7 L761.0,321.7 L761.5,322.6 L762.0,323.1 L762.5,323.5 L763.0,323.9 L763.5,324.2 L764.0,324.4 L764.5,324.7 L765.0,325.1 L765.5,325.2 L766.0,325.3 L766.5,325.5 L767.0,325.7 L767.5,325.7 L768.0,325.9 L768.5,326.0 L769.0,326.0 L769.5,326.0 L770.0,326.1 L770.5,326.0 L771.0,325.9 L771.5,326.0 L772.0,326.2 L772.5,326.3 L773.0,326.2 L773.5,326.1 L774.0,326.3 L774.5,326.3 L775.0,326.4 L775.5,326.4 L776.0,326.4 L776.5,326.4 L777.0,326.4 L777.5,326.3 L778.0,326.4 L778.5,326.7 L779.0,326.9 L779.5,326.7 L780.0,326.4 L780.5,326.5 L781.0,326.6 L781.5,326.5 L782.0,326.4 L782.5,326.5 L783.0,326.5 L783.5,326.5 L784.0,326.6 L784.5,326.6 L785.0,326.7 L785.5,326.8 L786.0,326.6 L786.5,326.5 L787.0,326.8 L787.5,326.9 L788.0,326.9 L788.5,326.7 L789.0,326.6 L789.5,326.7 L790.0,326.9 L790.5,327.0 L791.0,326.9 L791.5,326.7 L792.0,326.6 L792.5,326.6 L793.0,326.7 L793.5,326.8 L794.0,326.7 L794.5,326.7 L795.0,326.8 L795.5,326.8 L796.0,326.7 L796.5,326.7 L797.0,326.5 L797.5,326.4 L798.0,326.4 L798.5,326.4 L799.0,326.3 L799.5,326.3 L800.0,326.3 L800.5,326.3 L801.0,326.2 L801.5,326.1 L802.0,326.1 L802.5,326.0 L803.0,326.0 L803.5,325.9 L804.0,325.6 L804.5,325.3 L805.0,324.9 L805.5,324.6 L806.0,324.1 L806.5,323.6 L807.0,323.2 L807.5,322.9 L808.0,322.7 L808.5,322.7 L809.0,323.1 L809.5,323.5 L810.0,323.9 L810.5,324.3 L811.0,324.8 L811.5,325.5 L812.0,326.2 L812.5,326.6 L813.0,326.8 L813.5,327.1 L814.0,327.4 L814.5,327.4 L815.0,327.5 L815.5,327.8 L816.0,327.8 L816.5,327.8 L817.0,328.0 L817.5,328.1 L818.0,328.0 L818.5,327.9 L819.0,328.0 L819.5,328.2 L820.0,328.2 L820.5,328.2 L821.0,328.2 L821.5,328.2 L822.0,328.2 L822.5,328.2 L823.0,328.2 L823.5,328.2 L824.0,328.2 L824.5,328.1 L825.0,328.1 L825.5,328.1 L826.0,328.0 L826.5,328.0 L827.0,328.1 L827.5,328.2 L828.0,328.2 L828.5,328.4 L829.0,328.5 L829.5,328.4 L830.0,328.5 L830.5,328.4 L831.0,328.2 L831.5,328.0 L832.0,328.1 L832.5,328.3 L833.0,328.3 L833.5,328.3 L834.0,328.3 L834.5,328.4 L835.0,328.2 L835.5,328.1 L836.0,328.1 L836.5,328.3 L837.0,328.4 L837.5,328.4 L838.0,328.3 L838.5,328.3 L839.0,328.3 L839.5,328.4 L840.0,328.5 L840.5,328.5 L841.0,328.3 L841.5,328.2 L842.0,328.2 L842.5,328.2 L843.0,328.3 L843.5,328.3 L844.0,328.3 L844.5,328.2 L845.0,328.2 L845.5,328.4 L846.0,328.6 L846.5,328.5 L847.0,328.5 L847.5,328.4 L848.0,328.4 L848.5,328.5 L849.0,328.4 L849.5,328.2 L850.0,328.2 L850.5,328.3 L851.0,328.3 L851.5,328.2 L852.0,328.2 L852.5,328.2 L853.0,328.3 L853.5,328.3 L854.0,328.4 L854.5,328.2 L855.0,328.1 L855.5,328.3 L856.0,328.4 L856.5,328.4 L857.0,328.4 L857.5,328.4 L858.0,328.4 L858.5,328.5 L859.0,328.4 L859.5,328.4 L860.0,328.4 L860.5,328.5 L861.0,328.4 L861.5,328.5 L862.0,328.6 L862.5,328.6 L863.0,328.5 L863.5,328.5 L864.0,328.5 L864.5,328.5 L865.0,328.5 L865.5,328.5 L866.0,328.1 L866.5,327.5 L867.0,327.9 L867.5,328.4 L868.0,328.4 L868.5,328.5 L869.0,328.7 L869.5,328.7 L870.0,328.7 L870.5,328.7 L871.0,328.8 L871.5,328.7 L872.0,328.5 L872.5,328.4 L873.0,328.5 L873.5,328.7 L874.0,328.7 L874.5,328.7 L875.0,328.7 L875.5,328.7 L876.0,328.7 L876.5,328.8 L877.0,328.8 L877.5,328.8 L878.0,328.8 L878.5,328.7 L879.0,328.7 L879.5,328.8 L880.0,328.8 L880.5,328.9 L881.0,328.9 L881.5,328.8 L882.0,328.7 L882.5,328.9 L883.0,329.0 L883.5,329.0 L884.0,329.0 L884.5,329.0 L885.0,328.9 L885.5,328.9 L886.0,328.9 L886.5,328.9 L887.0,328.9 L887.5,329.0 L888.0,329.1 L888.5,329.1 L889.0,329.1 L889.5,329.1 L890.0,329.1 L890.5,329.1 L891.0,329.1 L891.5,329.2 L892.0,329.2 L892.5,329.2 L893.0,329.2 L893.5,329.2 L894.0,329.2 L894.5,329.2 L895.0,329.2 L895.5,329.2 L896.0,329.1 L896.5,329.1 L897.0,329.2 L897.5,329.4 L898.0,329.3 L898.5,329.2 L899.0,329.3 L899.5,329.4 L900.0,329.4 L900.5,329.4 L901.0,329.4 L901.5,329.4 L902.0,329.4 L902.5,329.3 L903.0,329.2 L903.5,329.4 L904.0,329.5 L904.5,329.5 L905.0,329.5 L905.5,329.5 L906.0,329.5 L906.5,329.5 L907.0,329.5 L907.5,329.4 L908.0,329.4 L908.5,329.5 L909.0,329.5 L909.5,329.5 L910.0,329.6 L910.5,329.6 L911.0,329.6 L911.5,329.4 L912.0,329.4 L912.5,329.5 L913.0,329.5 L913.5,329.6 L914.0,329.7 L914.5,329.6 L915.0,329.5 L915.5,329.5 L916.0,329.5 L916.5,329.5 L917.0,329.6 L917.5,329.6 L918.0,329.6 L918.5,329.6 L919.0,329.5 L919.5,329.4 L920.0,329.4 L920.5,329.5 L921.0,329.5 L921.5,329.5 L922.0,329.5 L922.5,329.4 L923.0,329.3 L923.5,329.4 L924.0,329.5 L924.5,329.5 L925.0,329.6 L925.5,329.6 L926.0,329.5 L926.5,329.5 L927.0,329.5 L927.5,329.5 L928.0,329.5 L928.5,329.4 L929.0,329.5 L929.5,329.6 L930.0,329.7 L930.5,329.6 L931.0,329.5 L931.5,329.5 L932.0,329.4 L932.5,329.4 L933.0,329.5 L933.5,329.6 L934.0,329.6 L934.5,329.5 L935.0,329.5 L935.5,329.6 L936.0,329.6 L936.5,329.6 L937.0,329.6 L937.5,329.6 L938.0,329.5 L938.5,329.4 L939.0,329.4 L939.5,329.4 L940.0,329.5 L940.5,329.6 L941.0,329.6 L941.5,329.4 L942.0,328.8 L942.5,328.7 L943.0,329.3 L943.5,329.5 L944.0,329.6 L944.5,329.5 L945.0,329.4 L945.5,329.4 L946.0,329.4 L946.5,329.4 L947.0,329.5 L947.5,329.5 L948.0,329.5 L948.5,329.4 L949.0,329.5 L949.5,329.5 L950.0,329.6 L950.5,329.6 L951.0,329.5 L951.5,329.5 L952.0,329.6 L952.5,329.6 L953.0,329.5 L953.5,329.5 L954.0,329.5 L954.5,329.4 L955.0,329.4 L955.5,329.5 L956.0,329.5 L956.5,329.5 L957.0,329.5 L957.5,329.5 L958.0,329.4 L958.5,329.3 L959.0,329.3 L959.5,329.4 L960.0,329.3 L960.5,329.3 L961.0,329.4 L961.5,329.5 L962.0,329.5 L962.5,329.4 L963.0,329.5 L963.5,329.5 L964.0,329.5 L964.5,329.5 L965.0,329.4 L965.5,329.5 L966.0,329.5 L966.5,329.5 L967.0,329.5 L967.5,329.6 L968.0,329.6 L968.5,329.5 L969.0,329.4 L969.5,329.3 L970.0,329.2 L970.5,329.3 L971.0,329.3 L971.5,329.2 L972.0,329.1 L972.5,329.1 L973.0,329.1 L973.5,328.8 L974.0,328.6 L974.5,328.5 L975.0,328.4 L975.5,328.2 L976.0,328.3 L976.5,328.3 L977.0,328.1 L977.5,328.0 L978.0,328.2 L978.5,328.2 L979.0,328.2 L979.5,328.3 L980.0,328.6 L980.5,328.8 L981.0,328.9 L981.5,328.9 L982.0,329.1 L982.5,329.3 L983.0,329.3 L983.5,329.3 L984.0,329.4 L984.5,329.4 L985.0,329.5 L985.5,329.8 L986.0,329.9 L986.5,329.9 L987.0,329.8 L987.5,329.7 L988.0,329.8 L988.5,330.1 L989.0,330.2 L989.5,330.1 L990.0,329.9 L990.5,330.0 L991.0,330.2 L991.5,330.2 L992.0,330.0 L992.5,330.1 L993.0,330.3 L993.5,330.3 L994.0,330.2 L994.5,330.2 L995.0,330.2 L995.5,330.1 L996.0,330.0 L996.5,330.2 L997.0,330.4 L997.5,330.5 L998.0,330.3 L998.5,330.2 L999.0,330.1 L999.5,330.2 L1000.0,330.4 L1000.5,330.4 L1001.0,330.4 L1001.5,330.3 L1002.0,330.2 L1002.5,330.2 L1003.0,330.3 L1003.5,330.3 L1004.0,330.2 L1004.5,330.3 L1005.0,330.4 L1005.5,330.4 L1006.0,330.4 L1006.5,330.4 L1007.0,330.5 L1007.5,330.7 L1008.0,330.7 L1008.5,330.7 L1009.0,330.7 L1009.5,330.8 L1010.0,330.7 L1010.5,330.7 L1011.0,330.7" stroke="#1a66e0" stroke-width="1.9" fill="none" stroke-linejoin="round"/>
<path d="M93.0,523.6 L93.5,523.6 L94.0,523.6 L94.5,523.5 L95.0,523.5 L95.5,523.5 L96.0,523.7 L96.5,523.7 L97.0,523.6 L97.5,523.6 L98.0,523.7 L98.5,523.7 L99.0,523.6 L99.5,523.6 L100.0,523.6 L100.5,523.7 L101.0,523.5 L101.5,523.5 L102.0,523.4 L102.5,523.3 L103.0,523.4 L103.5,523.5 L104.0,523.5 L104.5,523.6 L105.0,523.6 L105.5,523.5 L106.0,523.3 L106.5,523.4 L107.0,523.5 L107.5,523.4 L108.0,523.2 L108.5,523.2 L109.0,523.1 L109.5,523.0 L110.0,523.0 L110.5,522.8 L111.0,522.7 L111.5,522.6 L112.0,522.3 L112.5,522.1 L113.0,522.0 L113.5,521.7 L114.0,521.5 L114.5,521.5 L115.0,521.5 L115.5,521.4 L116.0,521.6 L116.5,521.7 L117.0,521.9 L117.5,522.2 L118.0,522.3 L118.5,522.3 L119.0,522.6 L119.5,522.8 L120.0,523.0 L120.5,523.2 L121.0,523.3 L121.5,523.5 L122.0,523.7 L122.5,523.6 L123.0,523.6 L123.5,523.7 L124.0,523.7 L124.5,523.7 L125.0,523.8 L125.5,523.9 L126.0,524.1 L126.5,524.1 L127.0,523.9 L127.5,523.9 L128.0,524.0 L128.5,523.9 L129.0,523.9 L129.5,524.1 L130.0,524.2 L130.5,524.2 L131.0,524.1 L131.5,524.1 L132.0,524.2 L132.5,524.3 L133.0,524.2 L133.5,524.1 L134.0,524.2 L134.5,524.2 L135.0,524.1 L135.5,524.1 L136.0,524.1 L136.5,524.2 L137.0,524.3 L137.5,524.3 L138.0,524.3 L138.5,524.3 L139.0,524.3 L139.5,524.3 L140.0,524.3 L140.5,524.2 L141.0,524.1 L141.5,524.1 L142.0,524.0 L142.5,523.9 L143.0,524.1 L143.5,524.1 L144.0,524.3 L144.5,524.4 L145.0,524.2 L145.5,524.1 L146.0,524.2 L146.5,524.3 L147.0,524.2 L147.5,524.2 L148.0,524.3 L148.5,524.3 L149.0,524.2 L149.5,524.2 L150.0,524.2 L150.5,524.1 L151.0,524.2 L151.5,524.2 L152.0,524.3 L152.5,524.3 L153.0,524.2 L153.5,524.2 L154.0,524.1 L154.5,524.0 L155.0,524.0 L155.5,524.1 L156.0,524.1 L156.5,524.1 L157.0,524.2 L157.5,524.2 L158.0,524.2 L158.5,524.3 L159.0,524.2 L159.5,524.2 L160.0,524.4 L160.5,524.5 L161.0,524.3 L161.5,524.2 L162.0,524.2 L162.5,524.2 L163.0,524.3 L163.5,524.2 L164.0,524.2 L164.5,524.1 L165.0,524.1 L165.5,524.2 L166.0,524.3 L166.5,524.3 L167.0,524.3 L167.5,524.3 L168.0,524.2 L168.5,524.2 L169.0,524.2 L169.5,524.2 L170.0,524.2 L170.5,524.1 L171.0,524.1 L171.5,524.2 L172.0,524.3 L172.5,524.2 L173.0,524.1 L173.5,524.3 L174.0,524.3 L174.5,524.2 L175.0,524.1 L175.5,524.1 L176.0,524.1 L176.5,524.2 L177.0,524.3 L177.5,524.2 L178.0,524.2 L178.5,524.2 L179.0,524.2 L179.5,524.2 L180.0,524.1 L180.5,524.1 L181.0,524.3 L181.5,524.3 L182.0,524.3 L182.5,524.2 L183.0,524.2 L183.5,524.2 L184.0,524.3 L184.5,524.2 L185.0,524.2 L185.5,524.3 L186.0,524.4 L186.5,524.4 L187.0,524.3 L187.5,524.1 L188.0,524.1 L188.5,524.3 L189.0,524.4 L189.5,524.3 L190.0,524.3 L190.5,524.4 L191.0,524.4 L191.5,524.4 L192.0,524.3 L192.5,524.3 L193.0,524.2 L193.5,524.3 L194.0,524.4 L194.5,524.5 L195.0,524.6 L195.5,524.4 L196.0,524.1 L196.5,524.1 L197.0,524.2 L197.5,524.2 L198.0,524.2 L198.5,524.3 L199.0,524.0 L199.5,524.0 L200.0,524.2 L200.5,524.2 L201.0,524.2 L201.5,524.2 L202.0,524.1 L202.5,524.0 L203.0,524.1 L203.5,524.0 L204.0,524.0 L204.5,524.2 L205.0,524.2 L205.5,524.2 L206.0,524.0 L206.5,523.9 L207.0,523.7 L207.5,523.5 L208.0,523.1 L208.5,522.7 L209.0,522.9 L209.5,523.5 L210.0,523.9 L210.5,524.0 L211.0,524.1 L211.5,524.2 L212.0,524.1 L212.5,524.0 L213.0,524.1 L213.5,524.3 L214.0,524.3 L214.5,524.2 L215.0,524.3 L215.5,524.3 L216.0,524.2 L216.5,524.0 L217.0,524.0 L217.5,523.8 L218.0,523.8 L218.5,524.1 L219.0,524.3 L219.5,524.2 L220.0,524.1 L220.5,524.1 L221.0,524.3 L221.5,524.3 L222.0,524.2 L222.5,524.2 L223.0,524.3 L223.5,524.3 L224.0,524.3 L224.5,524.2 L225.0,524.2 L225.5,524.2 L226.0,524.2 L226.5,524.2 L227.0,524.1 L227.5,524.1 L228.0,524.1 L228.5,524.2 L229.0,524.4 L229.5,524.4 L230.0,524.3 L230.5,524.3 L231.0,524.2 L231.5,524.0 L232.0,524.1 L232.5,524.2 L233.0,524.1 L233.5,524.1 L234.0,524.1 L234.5,524.2 L235.0,524.3 L235.5,524.3 L236.0,524.2 L236.5,524.3 L237.0,524.1 L237.5,524.0 L238.0,524.0 L238.5,524.2 L239.0,524.3 L239.5,524.3 L240.0,524.2 L240.5,524.1 L241.0,524.1 L241.5,524.0 L242.0,524.0 L242.5,524.1 L243.0,524.2 L243.5,524.1 L244.0,523.9 L244.5,523.8 L245.0,523.9 L245.5,524.0 L246.0,524.0 L246.5,523.8 L247.0,523.6 L247.5,523.5 L248.0,523.6 L248.5,523.6 L249.0,523.4 L249.5,523.3 L250.0,523.2 L250.5,522.9 L251.0,522.6 L251.5,522.4 L252.0,522.1 L252.5,521.7 L253.0,521.0 L253.5,519.9 L254.0,517.9 L254.5,513.7 L255.0,506.1 L255.5,494.2 L256.0,479.6 L256.5,470.2 L257.0,475.7 L257.5,490.0 L258.0,503.0 L258.5,511.7 L259.0,516.6 L259.5,519.2 L260.0,520.5 L260.5,521.3 L261.0,522.0 L261.5,522.4 L262.0,522.8 L262.5,523.1 L263.0,523.2 L263.5,523.4 L264.0,523.6 L264.5,523.5 L265.0,523.4 L265.5,523.4 L266.0,523.7 L266.5,523.9 L267.0,523.9 L267.5,523.7 L268.0,523.6 L268.5,523.7 L269.0,523.8 L269.5,523.9 L270.0,523.9 L270.5,523.9 L271.0,523.9 L271.5,523.9 L272.0,523.9 L272.5,524.0 L273.0,524.1 L273.5,524.2 L274.0,524.1 L274.5,523.9 L275.0,523.8 L275.5,523.8 L276.0,523.7 L276.5,523.8 L277.0,524.0 L277.5,524.1 L278.0,523.9 L278.5,523.8 L279.0,523.8 L279.5,523.9 L280.0,524.1 L280.5,524.3 L281.0,524.1 L281.5,523.9 L282.0,523.8 L282.5,523.9 L283.0,523.9 L283.5,523.9 L284.0,523.9 L284.5,523.9 L285.0,524.1 L285.5,524.2 L286.0,524.1 L286.5,524.0 L287.0,524.0 L287.5,524.0 L288.0,523.9 L288.5,523.9 L289.0,523.8 L289.5,523.8 L290.0,524.0 L290.5,524.0 L291.0,524.0 L291.5,524.0 L292.0,523.8 L292.5,523.8 L293.0,523.9 L293.5,524.0 L294.0,524.0 L294.5,524.0 L295.0,523.9 L295.5,523.7 L296.0,523.8 L296.5,523.9 L297.0,523.8 L297.5,523.7 L298.0,523.8 L298.5,523.9 L299.0,523.8 L299.5,523.6 L300.0,523.4 L300.5,523.5 L301.0,523.5 L301.5,523.4 L302.0,523.1 L302.5,522.6 L303.0,521.9 L303.5,520.8 L304.0,519.1 L304.5,516.5 L305.0,512.9 L305.5,509.4 L306.0,507.9 L306.5,509.6 L307.0,513.2 L307.5,516.8 L308.0,519.4 L308.5,521.0 L309.0,522.0 L309.5,522.5 L310.0,522.8 L310.5,523.0 L311.0,523.3 L311.5,523.5 L312.0,523.4 L312.5,523.5 L313.0,523.6 L313.5,523.6 L314.0,523.8 L314.5,523.9 L315.0,523.9 L315.5,523.9 L316.0,523.8 L316.5,523.8 L317.0,523.8 L317.5,523.9 L318.0,524.0 L318.5,524.0 L319.0,523.9 L319.5,523.8 L320.0,523.9 L320.5,524.0 L321.0,524.0 L321.5,523.9 L322.0,523.8 L322.5,523.8 L323.0,523.9 L323.5,523.8 L324.0,523.7 L324.5,523.9 L325.0,524.0 L325.5,523.8 L326.0,523.8 L326.5,523.8 L327.0,523.9 L327.5,523.9 L328.0,523.9 L328.5,523.9 L329.0,524.0 L329.5,524.0 L330.0,524.0 L330.5,523.9 L331.0,523.7 L331.5,523.8 L332.0,524.1 L332.5,524.1 L333.0,524.0 L333.5,524.0 L334.0,524.0 L334.5,524.1 L335.0,524.1 L335.5,523.9 L336.0,523.7 L336.5,523.8 L337.0,523.9 L337.5,524.0 L338.0,524.1 L338.5,523.9 L339.0,523.8 L339.5,524.0 L340.0,524.0 L340.5,523.8 L341.0,523.9 L341.5,524.0 L342.0,524.0 L342.5,523.9 L343.0,523.8 L343.5,523.8 L344.0,523.9 L344.5,524.1 L345.0,524.1 L345.5,524.0 L346.0,523.8 L346.5,523.8 L347.0,523.9 L347.5,524.0 L348.0,524.0 L348.5,523.9 L349.0,523.9 L349.5,523.9 L350.0,524.1 L350.5,524.2 L351.0,524.2 L351.5,524.0 L352.0,523.9 L352.5,523.9 L353.0,523.9 L353.5,523.9 L354.0,523.9 L354.5,523.9 L355.0,524.0 L355.5,524.0 L356.0,524.0 L356.5,524.0 L357.0,523.9 L357.5,523.9 L358.0,523.9 L358.5,523.9 L359.0,524.0 L359.5,523.9 L360.0,523.9 L360.5,523.9 L361.0,523.8 L361.5,523.9 L362.0,523.8 L362.5,523.8 L363.0,523.9 L363.5,524.0 L364.0,524.0 L364.5,523.9 L365.0,523.9 L365.5,523.9 L366.0,523.9 L366.5,523.9 L367.0,523.9 L367.5,523.9 L368.0,524.0 L368.5,524.0 L369.0,524.0 L369.5,524.0 L370.0,524.0 L370.5,523.9 L371.0,524.0 L371.5,524.1 L372.0,524.1 L372.5,524.0 L373.0,523.9 L373.5,524.0 L374.0,524.1 L374.5,524.1 L375.0,523.9 L375.5,523.9 L376.0,524.0 L376.5,524.2 L377.0,524.1 L377.5,524.0 L378.0,523.9 L378.5,524.0 L379.0,523.9 L379.5,523.7 L380.0,523.8 L380.5,523.8 L381.0,523.7 L381.5,523.9 L382.0,524.0 L382.5,524.0 L383.0,524.0 L383.5,524.2 L384.0,524.2 L384.5,524.0 L385.0,523.8 L385.5,523.8 L386.0,523.8 L386.5,523.9 L387.0,524.0 L387.5,524.0 L388.0,524.0 L388.5,523.9 L389.0,523.9 L389.5,524.0 L390.0,524.0 L390.5,524.1 L391.0,524.0 L391.5,523.9 L392.0,523.9 L392.5,523.7 L393.0,523.7 L393.5,523.9 L394.0,523.9 L394.5,523.8 L395.0,523.7 L395.5,523.7 L396.0,523.7 L396.5,523.6 L397.0,523.6 L397.5,523.8 L398.0,523.9 L398.5,523.9 L399.0,523.8 L399.5,523.9 L400.0,523.8 L400.5,523.6 L401.0,523.7 L401.5,523.9 L402.0,524.0 L402.5,524.1 L403.0,524.0 L403.5,523.9 L404.0,523.9 L404.5,523.9 L405.0,523.8 L405.5,523.8 L406.0,524.0 L406.5,524.0 L407.0,523.9 L407.5,523.8 L408.0,523.9 L408.5,523.9 L409.0,523.9 L409.5,523.9 L410.0,523.8 L410.5,523.7 L411.0,523.8 L411.5,523.9 L412.0,523.8 L412.5,523.6 L413.0,523.6 L413.5,523.7 L414.0,523.6 L414.5,523.6 L415.0,523.8 L415.5,523.9 L416.0,523.8 L416.5,523.8 L417.0,523.8 L417.5,523.8 L418.0,523.8 L418.5,523.7 L419.0,523.6 L419.5,523.7 L420.0,523.7 L420.5,523.8 L421.0,523.7 L421.5,523.6 L422.0,523.7 L422.5,523.7 L423.0,523.8 L423.5,523.7 L424.0,523.7 L424.5,523.9 L425.0,524.1 L425.5,524.0 L426.0,523.8 L426.5,523.8 L427.0,523.8 L427.5,523.7 L428.0,523.6 L428.5,523.7 L429.0,523.7 L429.5,523.5 L430.0,523.4 L430.5,523.5 L431.0,523.6 L431.5,523.6 L432.0,523.6 L432.5,523.7 L433.0,523.7 L433.5,523.7 L434.0,523.6 L434.5,523.6 L435.0,523.5 L435.5,523.6 L436.0,523.7 L436.5,523.6 L437.0,523.5 L437.5,523.5 L438.0,523.6 L438.5,523.6 L439.0,523.4 L439.5,523.4 L440.0,523.6 L440.5,523.9 L441.0,523.8 L441.5,523.7 L442.0,523.8 L442.5,523.8 L443.0,523.7 L443.5,523.6 L444.0,523.7 L444.5,523.7 L445.0,523.6 L445.5,523.7 L446.0,523.8 L446.5,523.9 L447.0,523.7 L447.5,523.6 L448.0,523.4 L448.5,523.5 L449.0,523.6 L449.5,523.6 L450.0,523.6 L450.5,523.5 L451.0,523.4 L451.5,523.4 L452.0,523.5 L452.5,523.4 L453.0,523.4 L453.5,523.3 L454.0,523.3 L454.5,523.5 L455.0,523.6 L455.5,523.7 L456.0,523.7 L456.5,523.5 L457.0,523.2 L457.5,523.2 L458.0,523.3 L458.5,523.3 L459.0,523.3 L459.5,523.2 L460.0,523.3 L460.5,523.3 L461.0,523.3 L461.5,523.3 L462.0,523.3 L462.5,523.2 L463.0,523.2 L463.5,523.0 L464.0,523.0 L464.5,523.1 L465.0,523.3 L465.5,523.3 L466.0,523.1 L466.5,522.7 L467.0,522.3 L467.5,521.9 L468.0,521.1 L468.5,519.9 L469.0,518.4 L469.5,516.7 L470.0,515.1 L470.5,514.2 L471.0,514.6 L471.5,516.1 L472.0,518.0 L472.5,519.5 L473.0,520.6 L473.5,521.6 L474.0,522.1 L474.5,522.4 L475.0,522.7 L475.5,522.9 L476.0,523.0 L476.5,523.1 L477.0,523.2 L477.5,523.1 L478.0,523.1 L478.5,523.2 L479.0,523.3 L479.5,523.1 L480.0,523.1 L480.5,523.2 L481.0,523.4 L481.5,523.5 L482.0,523.4 L482.5,523.3 L483.0,523.3 L483.5,523.3 L484.0,523.3 L484.5,523.3 L485.0,523.2 L485.5,523.1 L486.0,523.1 L486.5,523.2 L487.0,523.2 L487.5,523.4 L488.0,523.5 L488.5,523.5 L489.0,523.3 L489.5,523.2 L490.0,523.2 L490.5,523.2 L491.0,523.2 L491.5,523.3 L492.0,523.2 L492.5,523.2 L493.0,523.3 L493.5,523.4 L494.0,523.4 L494.5,523.4 L495.0,523.4 L495.5,523.4 L496.0,523.5 L496.5,523.5 L497.0,523.4 L497.5,523.3 L498.0,523.2 L498.5,523.2 L499.0,523.3 L499.5,523.3 L500.0,523.3 L500.5,523.4 L501.0,523.4 L501.5,523.1 L502.0,523.1 L502.5,523.2 L503.0,523.3 L503.5,523.3 L504.0,523.3 L504.5,523.3 L505.0,523.3 L505.5,523.3 L506.0,523.3 L506.5,523.5 L507.0,523.6 L507.5,523.3 L508.0,523.2 L508.5,523.2 L509.0,523.3 L509.5,523.2 L510.0,523.2 L510.5,523.2 L511.0,523.2" stroke="#7f0cff" stroke-width="1.9" fill="none" stroke-linejoin="round"/>
<path d="M93.0,618.0 L93.5,617.9 L94.0,618.0 L94.5,618.0 L95.0,618.0 L95.5,618.1 L96.0,618.2 L96.5,618.3 L97.0,618.5 L97.5,618.5 L98.0,618.4 L98.5,618.4 L99.0,618.4 L99.5,618.4 L100.0,618.3 L100.5,618.3 L101.0,618.4 L101.5,618.4 L102.0,618.3 L102.5,618.2 L103.0,618.3 L103.5,618.2 L104.0,618.1 L104.5,618.2 L105.0,618.2 L105.5,618.2 L106.0,618.2 L106.5,618.1 L107.0,618.0 L107.5,618.0 L108.0,617.7 L108.5,617.5 L109.0,617.5 L109.5,617.5 L110.0,617.3 L110.5,617.2 L111.0,616.9 L111.5,616.4 L112.0,616.0 L112.5,616.0 L113.0,616.1 L113.5,616.0 L114.0,616.0 L114.5,616.2 L115.0,616.6 L115.5,616.9 L116.0,617.2 L116.5,617.4 L117.0,617.5 L117.5,617.7 L118.0,617.8 L118.5,618.0 L119.0,618.0 L119.5,618.2 L120.0,618.6 L120.5,618.6 L121.0,618.7 L121.5,618.9 L122.0,618.8 L122.5,618.7 L123.0,618.6 L123.5,618.7 L124.0,618.8 L124.5,618.8 L125.0,618.9 L125.5,618.8 L126.0,618.7 L126.5,618.8 L127.0,618.9 L127.5,618.9 L128.0,619.0 L128.5,618.9 L129.0,619.0 L129.5,619.1 L130.0,619.0 L130.5,619.0 L131.0,619.1 L131.5,619.0 L132.0,618.8 L132.5,618.8 L133.0,619.1 L133.5,619.2 L134.0,619.1 L134.5,619.1 L135.0,619.2 L135.5,619.1 L136.0,619.0 L136.5,618.9 L137.0,619.0 L137.5,619.0 L138.0,618.9 L138.5,618.8 L139.0,618.9 L139.5,618.9 L140.0,618.9 L140.5,619.0 L141.0,619.1 L141.5,619.0 L142.0,618.9 L142.5,619.0 L143.0,619.0 L143.5,618.9 L144.0,618.9 L144.5,619.0 L145.0,619.0 L145.5,619.0 L146.0,619.0 L146.5,619.2 L147.0,619.1 L147.5,618.8 L148.0,618.9 L148.5,619.0 L149.0,619.0 L149.5,618.9 L150.0,618.9 L150.5,618.9 L151.0,618.9 L151.5,619.1 L152.0,619.2 L152.5,619.1 L153.0,619.0 L153.5,619.1 L154.0,619.0 L154.5,619.0 L155.0,619.1 L155.5,619.1 L156.0,619.1 L156.5,619.0 L157.0,619.0 L157.5,619.0 L158.0,619.0 L158.5,618.9 L159.0,618.9 L159.5,618.9 L160.0,619.0 L160.5,619.1 L161.0,619.1 L161.5,619.1 L162.0,619.1 L162.5,619.0 L163.0,619.0 L163.5,619.1 L164.0,619.0 L164.5,618.8 L165.0,618.8 L165.5,618.9 L166.0,618.8 L166.5,618.8 L167.0,618.8 L167.5,619.0 L168.0,619.1 L168.5,619.1 L169.0,619.1 L169.5,619.0 L170.0,619.1 L170.5,619.1 L171.0,619.0 L171.5,618.9 L172.0,618.9 L172.5,619.1 L173.0,619.2 L173.5,619.1 L174.0,619.1 L174.5,619.2 L175.0,619.1 L175.5,619.0 L176.0,619.0 L176.5,618.9 L177.0,619.1 L177.5,619.3 L178.0,619.2 L178.5,619.1 L179.0,619.0 L179.5,618.9 L180.0,618.7 L180.5,618.8 L181.0,618.9 L181.5,618.8 L182.0,618.9 L182.5,619.0 L183.0,619.0 L183.5,619.0 L184.0,619.1 L184.5,619.0 L185.0,618.9 L185.5,618.9 L186.0,619.0 L186.5,619.0 L187.0,619.0 L187.5,619.1 L188.0,619.2 L188.5,619.3 L189.0,619.3 L189.5,619.2 L190.0,619.0 L190.5,618.9 L191.0,618.9 L191.5,619.0 L192.0,619.1 L192.5,619.2 L193.0,619.2 L193.5,619.1 L194.0,619.0 L194.5,618.9 L195.0,618.8 L195.5,618.8 L196.0,618.8 L196.5,618.8 L197.0,619.0 L197.5,619.1 L198.0,618.9 L198.5,619.0 L199.0,619.1 L199.5,619.1 L200.0,619.0 L200.5,619.0 L201.0,619.1 L201.5,619.0 L202.0,618.8 L202.5,618.5 L203.0,618.6 L203.5,618.9 L204.0,619.1 L204.5,619.1 L205.0,619.0 L205.5,618.9 L206.0,619.0 L206.5,619.1 L207.0,618.9 L207.5,619.0 L208.0,619.0 L208.5,618.8 L209.0,618.8 L209.5,619.0 L210.0,619.0 L210.5,618.8 L211.0,618.8 L211.5,619.0 L212.0,619.2 L212.5,619.1 L213.0,619.1 L213.5,619.2 L214.0,619.0 L214.5,619.0 L215.0,619.1 L215.5,618.9 L216.0,618.9 L216.5,619.0 L217.0,619.1 L217.5,618.9 L218.0,618.8 L218.5,618.8 L219.0,618.9 L219.5,619.0 L220.0,619.0 L220.5,618.9 L221.0,618.9 L221.5,618.8 L222.0,618.9 L222.5,619.0 L223.0,619.0 L223.5,619.0 L224.0,618.9 L224.5,618.8 L225.0,618.8 L225.5,618.8 L226.0,618.9 L226.5,618.9 L227.0,618.9 L227.5,618.9 L228.0,618.9 L228.5,618.9 L229.0,618.9 L229.5,618.8 L230.0,618.9 L230.5,619.0 L231.0,619.0 L231.5,619.0 L232.0,618.9 L232.5,618.9 L233.0,619.0 L233.5,618.8 L234.0,618.7 L234.5,618.9 L235.0,619.0 L235.5,619.0 L236.0,619.0 L236.5,619.1 L237.0,618.9 L237.5,618.9 L238.0,619.0 L238.5,618.8 L239.0,618.8 L239.5,618.8 L240.0,618.9 L240.5,619.0 L241.0,618.8 L241.5,618.7 L242.0,618.7 L242.5,618.7 L243.0,618.7 L243.5,618.7 L244.0,618.5 L244.5,618.4 L245.0,618.6 L245.5,618.6 L246.0,618.4 L246.5,618.3 L247.0,618.3 L247.5,618.1 L248.0,618.1 L248.5,618.0 L249.0,617.9 L249.5,617.8 L250.0,617.4 L250.5,617.0 L251.0,616.6 L251.5,615.9 L252.0,614.8 L252.5,612.9 L253.0,609.0 L253.5,601.5 L254.0,589.2 L254.5,574.2 L255.0,566.7 L255.5,575.3 L256.0,590.3 L256.5,602.4 L257.0,609.7 L257.5,613.5 L258.0,615.2 L258.5,616.1 L259.0,616.7 L259.5,617.2 L260.0,617.6 L260.5,618.1 L261.0,618.3 L261.5,618.4 L262.0,618.4 L262.5,618.4 L263.0,618.3 L263.5,618.4 L264.0,618.6 L264.5,618.8 L265.0,618.9 L265.5,618.8 L266.0,618.8 L266.5,619.0 L267.0,619.1 L267.5,618.9 L268.0,618.9 L268.5,619.0 L269.0,619.0 L269.5,619.0 L270.0,619.0 L270.5,619.0 L271.0,618.9 L271.5,618.8 L272.0,618.8 L272.5,619.0 L273.0,619.0 L273.5,619.0 L274.0,619.1 L274.5,619.0 L275.0,619.0 L275.5,619.1 L276.0,619.1 L276.5,619.0 L277.0,618.9 L277.5,618.9 L278.0,618.9 L278.5,618.9 L279.0,619.1 L279.5,619.2 L280.0,619.2 L280.5,619.1 L281.0,619.1 L281.5,619.2 L282.0,619.4 L282.5,619.4 L283.0,619.2 L283.5,619.1 L284.0,619.3 L284.5,619.4 L285.0,619.3 L285.5,619.1 L286.0,619.2 L286.5,619.3 L287.0,619.2 L287.5,619.1 L288.0,619.1 L288.5,619.0 L289.0,619.0 L289.5,619.0 L290.0,619.1 L290.5,619.2 L291.0,619.2 L291.5,619.2 L292.0,619.2 L292.5,619.0 L293.0,618.9 L293.5,619.1 L294.0,619.1 L294.5,618.9 L295.0,618.8 L295.5,618.9 L296.0,619.1 L296.5,619.1 L297.0,619.1 L297.5,619.1 L298.0,619.1 L298.5,619.0 L299.0,618.7 L299.5,618.4 L300.0,618.3 L300.5,618.5 L301.0,618.3 L301.5,617.9 L302.0,617.1 L302.5,615.9 L303.0,613.9 L303.5,610.7 L304.0,606.7 L304.5,603.2 L305.0,602.9 L305.5,606.1 L306.0,610.2 L306.5,613.6 L307.0,615.7 L307.5,617.0 L308.0,617.8 L308.5,618.3 L309.0,618.4 L309.5,618.6 L310.0,618.8 L310.5,619.0 L311.0,619.1 L311.5,619.0 L312.0,619.0 L312.5,618.9 L313.0,618.9 L313.5,619.0 L314.0,619.0 L314.5,619.1 L315.0,619.2 L315.5,619.3 L316.0,619.4 L316.5,619.2 L317.0,619.2 L317.5,619.3 L318.0,619.3 L318.5,619.3 L319.0,619.4 L319.5,619.3 L320.0,619.2 L320.5,619.2 L321.0,619.2 L321.5,619.2 L322.0,619.4 L322.5,619.5 L323.0,619.5 L323.5,619.3 L324.0,619.3 L324.5,619.4 L325.0,619.5 L325.5,619.4 L326.0,619.2 L326.5,619.2 L327.0,619.3 L327.5,619.5 L328.0,619.5 L328.5,619.4 L329.0,619.4 L329.5,619.3 L330.0,619.4 L330.5,619.5 L331.0,619.5 L331.5,619.5 L332.0,619.5 L332.5,619.4 L333.0,619.5 L333.5,619.5 L334.0,619.5 L334.5,619.4 L335.0,619.3 L335.5,619.3 L336.0,619.4 L336.5,619.5 L337.0,619.5 L337.5,619.5 L338.0,619.4 L338.5,619.4 L339.0,619.4 L339.5,619.5 L340.0,619.4 L340.5,619.4 L341.0,619.4 L341.5,619.3 L342.0,619.3 L342.5,619.2 L343.0,619.3 L343.5,619.5 L344.0,619.5 L344.5,619.4 L345.0,619.3 L345.5,619.2 L346.0,619.4 L346.5,619.5 L347.0,619.5 L347.5,619.5 L348.0,619.5 L348.5,619.5 L349.0,619.5 L349.5,619.5 L350.0,619.4 L350.5,619.6 L351.0,619.6 L351.5,619.5 L352.0,619.5 L352.5,619.4 L353.0,619.4 L353.5,619.4 L354.0,619.4 L354.5,619.5 L355.0,619.4 L355.5,619.4 L356.0,619.5 L356.5,619.6 L357.0,619.7 L357.5,619.6 L358.0,619.5 L358.5,619.5 L359.0,619.5 L359.5,619.7 L360.0,619.7 L360.5,619.6 L361.0,619.4 L361.5,619.5 L362.0,619.5 L362.5,619.4 L363.0,619.4 L363.5,619.6 L364.0,619.7 L364.5,619.6 L365.0,619.7 L365.5,619.8 L366.0,619.8 L366.5,619.5 L367.0,619.3 L367.5,619.4 L368.0,619.6 L368.5,619.6 L369.0,619.4 L369.5,619.4 L370.0,619.5 L370.5,619.5 L371.0,619.5 L371.5,619.6 L372.0,619.5 L372.5,619.4 L373.0,619.5 L373.5,619.5 L374.0,619.5 L374.5,619.5 L375.0,619.4 L375.5,619.3 L376.0,619.3 L376.5,619.4 L377.0,619.5 L377.5,619.5 L378.0,619.5 L378.5,619.6 L379.0,619.5 L379.5,619.4 L380.0,619.6 L380.5,619.7 L381.0,619.6 L381.5,619.5 L382.0,619.5 L382.5,619.4 L383.0,619.3 L383.5,619.4 L384.0,619.6 L384.5,619.6 L385.0,619.5 L385.5,619.5 L386.0,619.6 L386.5,619.6 L387.0,619.6 L387.5,619.6 L388.0,619.6 L388.5,619.5 L389.0,619.6 L389.5,619.6 L390.0,619.4 L390.5,619.3 L391.0,619.3 L391.5,619.4 L392.0,619.4 L392.5,619.4 L393.0,619.5 L393.5,619.6 L394.0,619.5 L394.5,619.4 L395.0,619.5 L395.5,619.5 L396.0,619.6 L396.5,619.7 L397.0,619.9 L397.5,619.8 L398.0,619.7 L398.5,619.5 L399.0,619.6 L399.5,619.7 L400.0,619.8 L400.5,619.7 L401.0,619.6 L401.5,619.6 L402.0,619.7 L402.5,619.7 L403.0,619.8 L403.5,619.9 L404.0,619.8 L404.5,619.7 L405.0,619.6 L405.5,619.5 L406.0,619.6 L406.5,619.7 L407.0,619.7 L407.5,619.6 L408.0,619.7 L408.5,619.8 L409.0,619.8 L409.5,619.8 L410.0,619.6 L410.5,619.5 L411.0,619.6 L411.5,619.8 L412.0,619.9 L412.5,619.8 L413.0,619.8 L413.5,619.8 L414.0,619.8 L414.5,619.8 L415.0,619.9 L415.5,620.0 L416.0,620.0 L416.5,619.8 L417.0,619.8 L417.5,619.9 L418.0,619.8 L418.5,619.8 L419.0,619.7 L419.5,619.7 L420.0,619.9 L420.5,619.9 L421.0,619.7 L421.5,619.7 L422.0,619.7 L422.5,619.7 L423.0,619.8 L423.5,619.8 L424.0,619.8 L424.5,619.7 L425.0,619.7 L425.5,619.7 L426.0,619.6 L426.5,619.6 L427.0,619.7 L427.5,619.9 L428.0,620.0 L428.5,619.8 L429.0,619.8 L429.5,620.0 L430.0,620.1 L430.5,620.0 L431.0,619.8 L431.5,619.8 L432.0,619.8 L432.5,619.9 L433.0,619.8 L433.5,619.8 L434.0,620.0 L434.5,620.0 L435.0,620.0 L435.5,620.1 L436.0,619.8 L436.5,619.7 L437.0,619.9 L437.5,620.0 L438.0,620.0 L438.5,620.1 L439.0,620.2 L439.5,620.0 L440.0,619.8 L440.5,619.7 L441.0,619.7 L441.5,619.7 L442.0,619.8 L442.5,619.8 L443.0,619.9 L443.5,620.0 L444.0,619.9 L444.5,619.8 L445.0,619.8 L445.5,619.9 L446.0,619.9 L446.5,620.0 L447.0,620.1 L447.5,619.9 L448.0,619.6 L448.5,619.7 L449.0,620.0 L449.5,620.3 L450.0,620.2 L450.5,619.9 L451.0,619.8 L451.5,619.7 L452.0,619.7 L452.5,619.9 L453.0,620.0 L453.5,619.8 L454.0,619.8 L454.5,619.9 L455.0,619.9 L455.5,619.8 L456.0,619.7 L456.5,619.9 L457.0,619.8 L457.5,619.7 L458.0,619.8 L458.5,619.9 L459.0,620.0 L459.5,619.9 L460.0,619.8 L460.5,619.8 L461.0,619.7 L461.5,619.7 L462.0,619.8 L462.5,619.7 L463.0,619.6 L463.5,619.7 L464.0,619.8 L464.5,619.5 L465.0,619.3 L465.5,619.3 L466.0,619.3 L466.5,619.1 L467.0,618.5 L467.5,617.7 L468.0,616.7 L468.5,615.4 L469.0,613.9 L469.5,612.8 L470.0,612.9 L470.5,614.1 L471.0,615.7 L471.5,617.1 L472.0,618.1 L472.5,618.8 L473.0,619.2 L473.5,619.6 L474.0,619.8 L474.5,619.7 L475.0,619.7 L475.5,619.9 L476.0,619.9 L476.5,619.9 L477.0,619.9 L477.5,619.9 L478.0,619.9 L478.5,620.0 L479.0,620.1 L479.5,620.1 L480.0,620.1 L480.5,620.1 L481.0,619.9 L481.5,619.8 L482.0,619.8 L482.5,619.8 L483.0,620.0 L483.5,620.1 L484.0,620.0 L484.5,619.9 L485.0,619.8 L485.5,619.7 L486.0,619.8 L486.5,620.0 L487.0,620.0 L487.5,620.0 L488.0,620.1 L488.5,620.1 L489.0,620.0 L489.5,620.0 L490.0,619.9 L490.5,619.9 L491.0,619.7 L491.5,619.6 L492.0,619.9 L492.5,620.0 L493.0,620.0 L493.5,619.9 L494.0,619.9 L494.5,619.9 L495.0,620.0 L495.5,620.0 L496.0,619.9 L496.5,620.1 L497.0,620.2 L497.5,620.3 L498.0,620.3 L498.5,620.1 L499.0,620.1 L499.5,620.1 L500.0,619.9 L500.5,620.0 L501.0,620.1 L501.5,620.0 L502.0,620.0 L502.5,620.0 L503.0,620.0 L503.5,620.0 L504.0,619.9 L504.5,619.8 L505.0,619.8 L505.5,620.0 L506.0,620.1 L506.5,620.0 L507.0,620.0 L507.5,620.2 L508.0,620.3 L508.5,620.2 L509.0,620.1 L509.5,620.1 L510.0,620.1 L510.5,620.1 L511.0,620.0" stroke="#151515" stroke-width="1.9" fill="none" stroke-linejoin="round"/>
<path d="M93.0,706.1 L93.5,706.1 L94.0,706.1 L94.5,706.2 L95.0,706.3 L95.5,706.2 L96.0,706.2 L96.5,706.2 L97.0,706.1 L97.5,706.0 L98.0,706.0 L98.5,706.2 L99.0,706.4 L99.5,706.5 L100.0,706.4 L100.5,706.2 L101.0,706.2 L101.5,706.2 L102.0,706.2 L102.5,706.2 L103.0,706.2 L103.5,706.0 L104.0,706.1 L104.5,706.2 L105.0,706.1 L105.5,706.0 L106.0,706.0 L106.5,705.9 L107.0,705.9 L107.5,705.8 L108.0,705.8 L108.5,705.6 L109.0,705.4 L109.5,705.4 L110.0,705.4 L110.5,705.5 L111.0,705.5 L111.5,705.5 L112.0,705.4 L112.5,705.3 L113.0,705.3 L113.5,705.4 L114.0,705.2 L114.5,705.1 L115.0,705.1 L115.5,705.2 L116.0,705.4 L116.5,705.5 L117.0,705.4 L117.5,705.4 L118.0,705.6 L118.5,705.7 L119.0,705.7 L119.5,705.7 L120.0,705.7 L120.5,705.9 L121.0,706.0 L121.5,705.9 L122.0,705.9 L122.5,706.0 L123.0,706.1 L123.5,706.1 L124.0,706.1 L124.5,706.3 L125.0,706.3 L125.5,706.1 L126.0,706.0 L126.5,706.1 L127.0,706.2 L127.5,706.3 L128.0,706.3 L128.5,706.2 L129.0,706.0 L129.5,706.0 L130.0,706.1 L130.5,706.2 L131.0,706.2 L131.5,706.1 L132.0,706.2 L132.5,706.3 L133.0,706.3 L133.5,706.2 L134.0,706.3 L134.5,706.3 L135.0,706.3 L135.5,706.4 L136.0,706.2 L136.5,706.2 L137.0,706.3 L137.5,706.3 L138.0,706.3 L138.5,706.5 L139.0,706.5 L139.5,706.5 L140.0,706.4 L140.5,706.2 L141.0,706.2 L141.5,706.4 L142.0,706.4 L142.5,706.4 L143.0,706.3 L143.5,706.2 L144.0,706.2 L144.5,706.0 L145.0,705.6 L145.5,705.0 L146.0,704.6 L146.5,705.0 L147.0,705.6 L147.5,706.0 L148.0,706.3 L148.5,706.4 L149.0,706.3 L149.5,706.2 L150.0,706.2 L150.5,706.2 L151.0,706.2 L151.5,706.2 L152.0,706.2 L152.5,706.4 L153.0,706.3 L153.5,706.2 L154.0,706.3 L154.5,706.1 L155.0,706.1 L155.5,706.3 L156.0,706.3 L156.5,706.3 L157.0,706.4 L157.5,706.3 L158.0,706.3 L158.5,706.3 L159.0,706.4 L159.5,706.5 L160.0,706.5 L160.5,706.4 L161.0,706.4 L161.5,706.3 L162.0,706.1 L162.5,706.2 L163.0,706.4 L163.5,706.5 L164.0,706.3 L164.5,706.1 L165.0,706.2 L165.5,706.3 L166.0,706.3 L166.5,706.4 L167.0,706.4 L167.5,706.4 L168.0,706.2 L168.5,706.2 L169.0,706.2 L169.5,706.3 L170.0,706.5 L170.5,706.6 L171.0,706.4 L171.5,706.2 L172.0,706.2 L172.5,706.3 L173.0,706.2 L173.5,706.2 L174.0,706.4 L174.5,706.4 L175.0,706.3 L175.5,706.3 L176.0,706.4 L176.5,706.3 L177.0,706.1 L177.5,706.2 L178.0,706.3 L178.5,706.2 L179.0,706.2 L179.5,706.2 L180.0,706.3 L180.5,706.3 L181.0,706.2 L181.5,706.2 L182.0,706.2 L182.5,706.0 L183.0,705.8 L183.5,705.9 L184.0,706.2 L184.5,706.2 L185.0,706.2 L185.5,706.2 L186.0,706.3 L186.5,706.3 L187.0,706.2 L187.5,706.1 L188.0,706.1 L188.5,706.2 L189.0,706.3 L189.5,706.3 L190.0,706.3 L190.5,706.3 L191.0,706.3 L191.5,706.3 L192.0,706.2 L192.5,706.2 L193.0,706.2 L193.5,706.1 L194.0,706.2 L194.5,706.2 L195.0,706.2 L195.5,706.2 L196.0,706.1 L196.5,706.1 L197.0,706.3 L197.5,706.3 L198.0,706.3 L198.5,706.2 L199.0,706.1 L199.5,706.1 L200.0,706.1 L200.5,706.1 L201.0,706.1 L201.5,706.2 L202.0,706.2 L202.5,706.1 L203.0,706.0 L203.5,706.2 L204.0,706.2 L204.5,706.2 L205.0,706.0 L205.5,705.8 L206.0,705.7 L206.5,705.4 L207.0,704.7 L207.5,704.0 L208.0,703.0 L208.5,702.2 L209.0,702.4 L209.5,703.5 L210.0,704.6 L210.5,705.2 L211.0,705.5 L211.5,705.6 L212.0,705.8 L212.5,705.9 L213.0,705.9 L213.5,706.0 L214.0,706.1 L214.5,706.2 L215.0,706.0 L215.5,705.9 L216.0,706.0 L216.5,706.1 L217.0,706.2 L217.5,706.2 L218.0,706.0 L218.5,705.9 L219.0,705.8 L219.5,705.7 L220.0,705.7 L220.5,705.9 L221.0,706.1 L221.5,706.2 L222.0,706.0 L222.5,706.1 L223.0,706.2 L223.5,706.3 L224.0,706.3 L224.5,706.3 L225.0,706.2 L225.5,706.3 L226.0,706.3 L226.5,706.2 L227.0,706.1 L227.5,706.1 L228.0,706.1 L228.5,706.1 L229.0,706.0 L229.5,706.0 L230.0,706.2 L230.5,706.1 L231.0,706.0 L231.5,705.9 L232.0,705.9 L232.5,705.9 L233.0,705.9 L233.5,706.0 L234.0,705.9 L234.5,705.9 L235.0,706.1 L235.5,706.0 L236.0,705.7 L236.5,705.8 L237.0,706.0 L237.5,705.9 L238.0,705.9 L238.5,705.8 L239.0,705.6 L239.5,705.7 L240.0,706.0 L240.5,706.1 L241.0,705.9 L241.5,705.9 L242.0,705.9 L242.5,705.9 L243.0,705.8 L243.5,705.7 L244.0,705.7 L244.5,705.8 L245.0,705.7 L245.5,705.5 L246.0,705.5 L246.5,705.5 L247.0,705.1 L247.5,704.8 L248.0,704.5 L248.5,704.0 L249.0,703.7 L249.5,703.9 L250.0,704.1 L250.5,704.2 L251.0,704.1 L251.5,704.0 L252.0,703.7 L252.5,703.2 L253.0,702.3 L253.5,700.6 L254.0,697.1 L254.5,691.1 L255.0,681.5 L255.5,669.1 L256.0,659.1 L256.5,659.6 L257.0,670.1 L257.5,682.4 L258.0,691.7 L258.5,697.2 L259.0,700.4 L259.5,702.3 L260.0,703.2 L260.5,703.7 L261.0,704.1 L261.5,704.4 L262.0,704.5 L262.5,704.8 L263.0,705.0 L263.5,705.2 L264.0,705.3 L264.5,705.3 L265.0,705.4 L265.5,705.5 L266.0,705.6 L266.5,705.8 L267.0,705.7 L267.5,705.6 L268.0,705.5 L268.5,705.7 L269.0,705.9 L269.5,705.8 L270.0,705.7 L270.5,705.6 L271.0,705.6 L271.5,705.7 L272.0,705.7 L272.5,705.8 L273.0,706.0 L273.5,705.9 L274.0,705.9 L274.5,705.8 L275.0,705.8 L275.5,705.9 L276.0,705.9 L276.5,706.0 L277.0,705.9 L277.5,705.8 L278.0,705.9 L278.5,705.9 L279.0,705.8 L279.5,705.8 L280.0,705.8 L280.5,705.8 L281.0,705.9 L281.5,705.9 L282.0,706.0 L282.5,706.0 L283.0,706.0 L283.5,706.0 L284.0,706.0 L284.5,705.9 L285.0,705.9 L285.5,706.0 L286.0,706.1 L286.5,706.2 L287.0,706.1 L287.5,705.9 L288.0,705.9 L288.5,706.0 L289.0,706.1 L289.5,705.9 L290.0,705.8 L290.5,705.7 L291.0,705.6 L291.5,705.6 L292.0,705.7 L292.5,705.8 L293.0,705.9 L293.5,705.8 L294.0,705.7 L294.5,705.8 L295.0,705.8 L295.5,705.7 L296.0,705.7 L296.5,705.6 L297.0,705.5 L297.5,705.6 L298.0,705.8 L298.5,705.9 L299.0,705.7 L299.5,705.4 L300.0,705.2 L300.5,705.1 L301.0,705.1 L301.5,704.9 L302.0,704.5 L302.5,703.8 L303.0,702.7 L303.5,700.9 L304.0,698.5 L304.5,695.3 L305.0,692.3 L305.5,691.1 L306.0,692.5 L306.5,695.7 L307.0,699.0 L307.5,701.5 L308.0,702.9 L308.5,703.7 L309.0,704.3 L309.5,704.7 L310.0,704.9 L310.5,705.0 L311.0,705.2 L311.5,705.3 L312.0,705.3 L312.5,705.2 L313.0,705.3 L313.5,705.4 L314.0,705.4 L314.5,705.6 L315.0,705.6 L315.5,705.6 L316.0,705.6 L316.5,705.7 L317.0,705.7 L317.5,705.5 L318.0,705.5 L318.5,705.8 L319.0,705.7 L319.5,705.5 L320.0,705.7 L320.5,705.8 L321.0,705.9 L321.5,706.0 L322.0,705.9 L322.5,705.7 L323.0,705.7 L323.5,705.8 L324.0,705.8 L324.5,705.8 L325.0,705.7 L325.5,705.5 L326.0,705.6 L326.5,705.7 L327.0,705.7 L327.5,705.7 L328.0,705.7 L328.5,705.8 L329.0,705.8 L329.5,705.7 L330.0,705.6 L330.5,705.8 L331.0,705.9 L331.5,705.8 L332.0,705.7 L332.5,705.6 L333.0,705.8 L333.5,705.7 L334.0,705.6 L334.5,705.7 L335.0,705.7 L335.5,705.7 L336.0,705.7 L336.5,705.8 L337.0,705.8 L337.5,705.7 L338.0,705.7 L338.5,705.6 L339.0,705.5 L339.5,705.5 L340.0,705.6 L340.5,705.7 L341.0,705.7 L341.5,705.7 L342.0,705.8 L342.5,705.9 L343.0,705.9 L343.5,705.8 L344.0,705.7 L344.5,705.5 L345.0,705.4 L345.5,705.5 L346.0,705.5 L346.5,705.4 L347.0,705.6 L347.5,705.8 L348.0,705.8 L348.5,705.8 L349.0,705.8 L349.5,705.6 L350.0,705.6 L350.5,705.6 L351.0,705.6 L351.5,705.6 L352.0,705.7 L352.5,705.8 L353.0,705.8 L353.5,705.7 L354.0,705.6 L354.5,705.4 L355.0,705.3 L355.5,705.7 L356.0,705.9 L356.5,705.7 L357.0,705.6 L357.5,705.6 L358.0,705.7 L358.5,705.5 L359.0,705.6 L359.5,705.6 L360.0,705.6 L360.5,705.8 L361.0,705.8 L361.5,705.7 L362.0,705.5 L362.5,705.6 L363.0,705.7 L363.5,705.7 L364.0,705.6 L364.5,705.4 L365.0,705.3 L365.5,705.3 L366.0,705.4 L366.5,705.5 L367.0,705.5 L367.5,705.4 L368.0,705.5 L368.5,705.6 L369.0,705.6 L369.5,705.6 L370.0,705.7 L370.5,705.7 L371.0,705.6 L371.5,705.5 L372.0,705.5 L372.5,705.5 L373.0,705.6 L373.5,705.5 L374.0,705.4 L374.5,705.4 L375.0,705.6 L375.5,705.7 L376.0,705.6 L376.5,705.5 L377.0,705.6 L377.5,705.7 L378.0,705.6 L378.5,705.5 L379.0,705.5 L379.5,705.4 L380.0,705.5 L380.5,705.6 L381.0,705.6 L381.5,705.6 L382.0,705.6 L382.5,705.5 L383.0,705.4 L383.5,705.5 L384.0,705.4 L384.5,705.3 L385.0,705.4 L385.5,705.5 L386.0,705.5 L386.5,705.4 L387.0,705.2 L387.5,705.3 L388.0,705.4 L388.5,705.4 L389.0,705.4 L389.5,705.3 L390.0,705.4 L390.5,705.5 L391.0,705.5 L391.5,705.3 L392.0,705.3 L392.5,705.3 L393.0,705.4 L393.5,705.4 L394.0,705.3 L394.5,705.3 L395.0,705.3 L395.5,705.4 L396.0,705.5 L396.5,705.4 L397.0,705.5 L397.5,705.5 L398.0,705.6 L398.5,705.8 L399.0,705.8 L399.5,705.5 L400.0,705.4 L400.5,705.4 L401.0,705.4 L401.5,705.2 L402.0,705.2 L402.5,705.3 L403.0,705.2 L403.5,705.3 L404.0,705.4 L404.5,705.3 L405.0,705.2 L405.5,705.3 L406.0,705.2 L406.5,705.3 L407.0,705.4 L407.5,705.5 L408.0,705.5 L408.5,705.3 L409.0,705.2 L409.5,705.2 L410.0,705.4 L410.5,705.4 L411.0,705.3 L411.5,705.3 L412.0,705.2 L412.5,705.2 L413.0,705.3 L413.5,705.4 L414.0,705.4 L414.5,705.4 L415.0,705.3 L415.5,705.2 L416.0,705.1 L416.5,705.1 L417.0,705.3 L417.5,705.3 L418.0,705.4 L418.5,705.5 L419.0,705.4 L419.5,705.3 L420.0,705.3 L420.5,705.4 L421.0,705.4 L421.5,705.4 L422.0,705.4 L422.5,705.3 L423.0,705.2 L423.5,705.2 L424.0,705.2 L424.5,705.2 L425.0,705.2 L425.5,705.1 L426.0,705.2 L426.5,705.2 L427.0,705.3 L427.5,705.5 L428.0,705.5 L428.5,705.3 L429.0,705.3 L429.5,705.4 L430.0,705.3 L430.5,705.3 L431.0,705.3 L431.5,705.2 L432.0,705.3 L432.5,705.4 L433.0,705.2 L433.5,705.1 L434.0,705.1 L434.5,705.2 L435.0,705.1 L435.5,705.1 L436.0,705.1 L436.5,705.2 L437.0,705.4 L437.5,705.3 L438.0,705.2 L438.5,705.1 L439.0,705.1 L439.5,705.3 L440.0,705.3 L440.5,705.3 L441.0,705.2 L441.5,705.2 L442.0,705.1 L442.5,705.1 L443.0,705.2 L443.5,705.2 L444.0,705.2 L444.5,705.3 L445.0,705.4 L445.5,705.5 L446.0,705.4 L446.5,705.3 L447.0,705.2 L447.5,705.2 L448.0,705.3 L448.5,705.3 L449.0,705.1 L449.5,705.1 L450.0,705.3 L450.5,705.3 L451.0,705.2 L451.5,705.2 L452.0,705.2 L452.5,705.2 L453.0,705.1 L453.5,705.1 L454.0,705.2 L454.5,705.1 L455.0,704.9 L455.5,704.8 L456.0,705.1 L456.5,705.2 L457.0,705.1 L457.5,705.0 L458.0,705.0 L458.5,705.0 L459.0,705.0 L459.5,704.9 L460.0,705.0 L460.5,705.1 L461.0,705.1 L461.5,704.9 L462.0,704.9 L462.5,704.9 L463.0,704.9 L463.5,704.9 L464.0,704.8 L464.5,704.7 L465.0,704.7 L465.5,704.6 L466.0,704.5 L466.5,704.3 L467.0,703.9 L467.5,703.4 L468.0,702.9 L468.5,701.9 L469.0,700.5 L469.5,698.9 L470.0,697.5 L470.5,696.8 L471.0,697.3 L471.5,698.5 L472.0,700.1 L472.5,701.6 L473.0,702.7 L473.5,703.4 L474.0,703.9 L474.5,704.3 L475.0,704.5 L475.5,704.4 L476.0,704.6 L476.5,704.8 L477.0,704.8 L477.5,704.8 L478.0,704.8 L478.5,704.8 L479.0,704.8 L479.5,704.8 L480.0,704.9 L480.5,705.0 L481.0,705.0 L481.5,704.9 L482.0,704.9 L482.5,704.9 L483.0,705.0 L483.5,704.9 L484.0,705.0 L484.5,705.0 L485.0,704.9 L485.5,705.0 L486.0,705.1 L486.5,705.2 L487.0,705.1 L487.5,705.0 L488.0,705.0 L488.5,704.9 L489.0,704.8 L489.5,704.9 L490.0,705.0 L490.5,704.9 L491.0,705.0 L491.5,705.1 L492.0,705.1 L492.5,704.9 L493.0,704.7 L493.5,704.7 L494.0,704.8 L494.5,704.9 L495.0,705.0 L495.5,705.1 L496.0,705.1 L496.5,705.0 L497.0,704.9 L497.5,704.8 L498.0,705.0 L498.5,705.2 L499.0,705.2 L499.5,705.0 L500.0,704.9 L500.5,704.9 L501.0,705.0 L501.5,704.9 L502.0,704.9 L502.5,704.9 L503.0,704.9 L503.5,704.9 L504.0,705.0 L504.5,705.1 L505.0,705.1 L505.5,705.0 L506.0,704.9 L506.5,704.9 L507.0,705.0 L507.5,705.1 L508.0,705.0 L508.5,705.0 L509.0,705.0 L509.5,705.1 L510.0,705.0 L510.5,704.8 L511.0,704.8" stroke="#f07a1e" stroke-width="1.9" fill="none" stroke-linejoin="round"/>
<path d="M582.0,539.5 L582.5,539.5 L583.0,539.5 L583.5,539.6 L584.0,539.6 L584.5,539.6 L585.0,539.7 L585.5,539.7 L586.0,539.6 L586.5,539.5 L587.0,539.4 L587.5,539.4 L588.0,539.5 L588.5,539.5 L589.0,539.4 L589.5,539.4 L590.0,539.4 L590.5,539.4 L591.0,539.4 L591.5,539.5 L592.0,539.4 L592.5,539.3 L593.0,539.4 L593.5,539.5 L594.0,539.4 L594.5,539.3 L595.0,539.4 L595.5,539.6 L596.0,539.6 L596.5,539.5 L597.0,539.4 L597.5,539.3 L598.0,539.4 L598.5,539.4 L599.0,539.5 L599.5,539.6 L600.0,539.5 L600.5,539.5 L601.0,539.5 L601.5,539.4 L602.0,539.3 L602.5,539.3 L603.0,539.4 L603.5,539.4 L604.0,539.4 L604.5,539.5 L605.0,539.4 L605.5,539.3 L606.0,539.3 L606.5,539.3 L607.0,539.2 L607.5,539.3 L608.0,539.3 L608.5,539.3 L609.0,539.3 L609.5,539.1 L610.0,539.1 L610.5,539.2 L611.0,539.3 L611.5,539.2 L612.0,539.2 L612.5,539.3 L613.0,539.4 L613.5,539.5 L614.0,539.3 L614.5,539.3 L615.0,539.5 L615.5,539.6 L616.0,539.6 L616.5,539.8 L617.0,539.9 L617.5,539.8 L618.0,539.9 L618.5,539.9 L619.0,539.9 L619.5,539.9 L620.0,540.0 L620.5,540.0 L621.0,540.1 L621.5,540.2 L622.0,540.2 L622.5,540.3 L623.0,540.3 L623.5,540.3 L624.0,540.4 L624.5,540.6 L625.0,540.6 L625.5,540.4 L626.0,540.4 L626.5,540.5 L627.0,540.5 L627.5,540.5 L628.0,540.6 L628.5,540.5 L629.0,540.5 L629.5,540.5 L630.0,540.5 L630.5,540.6 L631.0,540.7 L631.5,540.7 L632.0,540.6 L632.5,540.6 L633.0,540.5 L633.5,540.4 L634.0,540.5 L634.5,540.6 L635.0,540.5 L635.5,540.5 L636.0,540.5 L636.5,540.4 L637.0,540.5 L637.5,540.6 L638.0,540.7 L638.5,540.6 L639.0,540.4 L639.5,540.4 L640.0,540.5 L640.5,540.6 L641.0,540.6 L641.5,540.6 L642.0,540.6 L642.5,540.5 L643.0,540.4 L643.5,540.5 L644.0,540.6 L644.5,540.6 L645.0,540.6 L645.5,540.5 L646.0,540.4 L646.5,540.4 L647.0,540.4 L647.5,540.4 L648.0,540.4 L648.5,540.5 L649.0,540.5 L649.5,540.6 L650.0,540.7 L650.5,540.8 L651.0,540.8 L651.5,540.7 L652.0,540.7 L652.5,540.8 L653.0,540.8 L653.5,540.7 L654.0,540.6 L654.5,540.7 L655.0,540.9 L655.5,540.9 L656.0,540.9 L656.5,540.9 L657.0,540.7 L657.5,540.7 L658.0,540.8 L658.5,540.8 L659.0,540.8 L659.5,541.0 L660.0,541.1 L660.5,541.1 L661.0,541.1 L661.5,541.0 L662.0,540.9 L662.5,540.8 L663.0,541.0 L663.5,541.1 L664.0,541.0 L664.5,540.9 L665.0,541.1 L665.5,541.2 L666.0,541.1 L666.5,540.9 L667.0,540.8 L667.5,540.9 L668.0,541.1 L668.5,541.0 L669.0,540.9 L669.5,541.1 L670.0,541.2 L670.5,541.3 L671.0,541.3 L671.5,541.4 L672.0,541.5 L672.5,541.4 L673.0,541.3 L673.5,541.2 L674.0,541.2 L674.5,541.2 L675.0,541.3 L675.5,541.3 L676.0,541.2 L676.5,541.2 L677.0,541.4 L677.5,541.6 L678.0,541.6 L678.5,541.5 L679.0,541.6 L679.5,541.7 L680.0,541.7 L680.5,541.7 L681.0,541.6 L681.5,541.5 L682.0,541.5 L682.5,541.6 L683.0,541.6 L683.5,541.5 L684.0,541.5 L684.5,541.4 L685.0,541.5 L685.5,541.5 L686.0,541.4 L686.5,541.4 L687.0,541.3 L687.5,541.3 L688.0,541.4 L688.5,541.4 L689.0,541.5 L689.5,541.5 L690.0,541.4 L690.5,541.3 L691.0,541.4 L691.5,541.4 L692.0,541.4 L692.5,541.3 L693.0,541.3 L693.5,541.3 L694.0,541.3 L694.5,541.1 L695.0,541.1 L695.5,541.3 L696.0,541.3 L696.5,541.2 L697.0,541.2 L697.5,541.0 L698.0,541.0 L698.5,541.1 L699.0,541.2 L699.5,541.1 L700.0,541.0 L700.5,541.0 L701.0,541.0 L701.5,540.9 L702.0,540.9 L702.5,541.0 L703.0,540.9 L703.5,540.8 L704.0,540.8 L704.5,540.8 L705.0,540.7 L705.5,540.9 L706.0,541.0 L706.5,540.9 L707.0,541.0 L707.5,541.0 L708.0,540.9 L708.5,540.7 L709.0,540.7 L709.5,540.9 L710.0,541.0 L710.5,541.1 L711.0,541.3 L711.5,541.4 L712.0,541.3 L712.5,541.5 L713.0,541.7 L713.5,541.8 L714.0,541.9 L714.5,542.0 L715.0,541.9 L715.5,541.9 L716.0,541.9 L716.5,541.9 L717.0,542.0 L717.5,542.0 L718.0,541.9 L718.5,541.9 L719.0,541.8 L719.5,541.8 L720.0,541.8 L720.5,541.8 L721.0,541.9 L721.5,541.9 L722.0,541.9 L722.5,542.0 L723.0,542.0 L723.5,541.8 L724.0,541.7 L724.5,541.8 L725.0,541.9 L725.5,542.0 L726.0,541.9 L726.5,541.8 L727.0,541.9 L727.5,542.0 L728.0,541.9 L728.5,541.9 L729.0,542.0 L729.5,542.0 L730.0,541.8 L730.5,541.7 L731.0,541.8 L731.5,541.8 L732.0,541.8 L732.5,541.8 L733.0,541.9 L733.5,541.9 L734.0,541.7 L734.5,541.6 L735.0,541.4 L735.5,541.2 L736.0,540.8 L736.5,540.4 L737.0,540.4 L737.5,541.1 L738.0,541.4 L738.5,541.5 L739.0,541.4 L739.5,541.3 L740.0,541.1 L740.5,541.1 L741.0,541.1 L741.5,541.2 L742.0,541.0 L742.5,540.8 L743.0,540.7 L743.5,540.7 L744.0,540.5 L744.5,540.3 L745.0,539.9 L745.5,539.6 L746.0,539.4 L746.5,539.2 L747.0,538.7 L747.5,538.1 L748.0,537.4 L748.5,536.6 L749.0,535.5 L749.5,533.9 L750.0,531.9 L750.5,529.3 L751.0,525.1 L751.5,518.9 L752.0,510.0 L752.5,497.1 L753.0,480.9 L753.5,467.1 L754.0,466.0 L754.5,478.7 L755.0,495.1 L755.5,508.6 L756.0,518.1 L756.5,524.5 L757.0,528.9 L757.5,531.8 L758.0,533.8 L758.5,535.2 L759.0,536.5 L759.5,537.5 L760.0,538.2 L760.5,538.7 L761.0,539.1 L761.5,539.4 L762.0,539.8 L762.5,540.1 L763.0,540.3 L763.5,540.5 L764.0,540.6 L764.5,540.8 L765.0,540.9 L765.5,541.0 L766.0,541.0 L766.5,541.1 L767.0,541.3 L767.5,541.4 L768.0,541.5 L768.5,541.5 L769.0,541.4 L769.5,541.3 L770.0,541.5 L770.5,541.7 L771.0,541.6 L771.5,541.6 L772.0,541.8 L772.5,541.8 L773.0,541.6 L773.5,541.6 L774.0,541.7 L774.5,541.8 L775.0,541.8 L775.5,541.9 L776.0,541.9 L776.5,542.0 L777.0,542.0 L777.5,542.0 L778.0,541.9 L778.5,541.7 L779.0,541.7 L779.5,541.8 L780.0,542.0 L780.5,541.9 L781.0,541.7 L781.5,541.8 L782.0,541.9 L782.5,542.0 L783.0,542.0 L783.5,542.1 L784.0,542.2 L784.5,542.1 L785.0,542.0 L785.5,542.1 L786.0,542.1 L786.5,542.0 L787.0,541.9 L787.5,541.9 L788.0,542.0 L788.5,542.1 L789.0,542.2 L789.5,542.2 L790.0,542.3 L790.5,542.1 L791.0,542.1 L791.5,542.1 L792.0,542.1 L792.5,542.2 L793.0,542.3 L793.5,542.3 L794.0,542.2 L794.5,542.2 L795.0,542.2 L795.5,542.3 L796.0,542.3 L796.5,542.1 L797.0,542.0 L797.5,541.9 L798.0,541.8 L798.5,541.7 L799.0,541.6 L799.5,541.4 L800.0,541.3 L800.5,541.1 L801.0,540.7 L801.5,540.2 L802.0,539.6 L802.5,539.0 L803.0,538.1 L803.5,537.0 L804.0,536.2 L804.5,535.5 L805.0,535.1 L805.5,535.1 L806.0,535.5 L806.5,536.1 L807.0,536.9 L807.5,537.7 L808.0,538.3 L808.5,538.8 L809.0,539.5 L809.5,540.0 L810.0,540.3 L810.5,540.5 L811.0,540.8 L811.5,541.1 L812.0,541.5 L812.5,541.7 L813.0,541.8 L813.5,542.0 L814.0,542.2 L814.5,542.4 L815.0,542.5 L815.5,542.6 L816.0,542.6 L816.5,542.8 L817.0,542.9 L817.5,543.0 L818.0,542.9 L818.5,543.0 L819.0,543.1 L819.5,543.0 L820.0,542.9 L820.5,543.0 L821.0,543.1 L821.5,543.1 L822.0,543.0 L822.5,543.0 L823.0,543.1 L823.5,543.1 L824.0,543.1 L824.5,543.1 L825.0,543.2 L825.5,543.3 L826.0,543.4 L826.5,543.4 L827.0,543.4 L827.5,543.3 L828.0,543.1 L828.5,543.2 L829.0,543.2 L829.5,543.1 L830.0,543.1 L830.5,543.3 L831.0,543.2 L831.5,543.2 L832.0,543.3 L832.5,543.3 L833.0,543.3 L833.5,543.3 L834.0,543.3 L834.5,543.4 L835.0,543.5 L835.5,543.4 L836.0,543.4 L836.5,543.4 L837.0,543.4 L837.5,543.3 L838.0,543.3 L838.5,543.3 L839.0,543.3 L839.5,543.4 L840.0,543.2 L840.5,543.0 L841.0,543.0 L841.5,543.2 L842.0,543.4 L842.5,543.4 L843.0,543.2 L843.5,543.2 L844.0,543.3 L844.5,543.5 L845.0,543.5 L845.5,543.4 L846.0,543.3 L846.5,543.4 L847.0,543.5 L847.5,543.4 L848.0,543.3 L848.5,543.3 L849.0,543.4 L849.5,543.4 L850.0,543.5 L850.5,543.5 L851.0,543.3 L851.5,543.3 L852.0,543.3 L852.5,543.4 L853.0,543.4 L853.5,543.3 L854.0,543.2 L854.5,543.2 L855.0,543.3 L855.5,543.3 L856.0,543.3 L856.5,543.3 L857.0,543.4 L857.5,543.2 L858.0,543.2 L858.5,543.3 L859.0,543.4 L859.5,543.3 L860.0,543.4 L860.5,543.4 L861.0,543.3 L861.5,543.2 L862.0,543.3 L862.5,543.4 L863.0,543.5 L863.5,543.4 L864.0,543.2 L864.5,543.1 L865.0,542.9 L865.5,541.8 L866.0,541.6 L866.5,542.7 L867.0,543.3 L867.5,543.4 L868.0,543.5 L868.5,543.5 L869.0,543.5 L869.5,543.4 L870.0,543.5 L870.5,543.6 L871.0,543.5 L871.5,543.4 L872.0,543.4 L872.5,543.5 L873.0,543.6 L873.5,543.6 L874.0,543.6 L874.5,543.6 L875.0,543.6 L875.5,543.5 L876.0,543.5 L876.5,543.7 L877.0,543.7 L877.5,543.5 L878.0,543.4 L878.5,543.4 L879.0,543.5 L879.5,543.5 L880.0,543.6 L880.5,543.8 L881.0,543.7 L881.5,543.6 L882.0,543.6 L882.5,543.8 L883.0,543.8 L883.5,543.6 L884.0,543.6 L884.5,543.7 L885.0,543.7 L885.5,543.7 L886.0,543.8 L886.5,543.8 L887.0,543.7 L887.5,543.7 L888.0,543.8 L888.5,543.9 L889.0,543.8 L889.5,543.8 L890.0,543.9 L890.5,544.0 L891.0,544.0 L891.5,543.9 L892.0,543.9 L892.5,544.0 L893.0,544.0 L893.5,544.0 L894.0,544.1 L894.5,544.1 L895.0,544.0 L895.5,544.0 L896.0,544.0 L896.5,544.1 L897.0,544.2 L897.5,544.1 L898.0,544.0 L898.5,544.0 L899.0,544.1 L899.5,544.1 L900.0,544.0 L900.5,544.1 L901.0,544.2 L901.5,544.2 L902.0,544.2 L902.5,544.1 L903.0,544.0 L903.5,544.0 L904.0,544.2 L904.5,544.2 L905.0,544.2 L905.5,544.2 L906.0,544.0 L906.5,543.6 L907.0,543.8 L907.5,544.1 L908.0,544.2 L908.5,544.2 L909.0,544.1 L909.5,544.0 L910.0,544.1 L910.5,544.1 L911.0,544.1 L911.5,544.0 L912.0,544.1 L912.5,544.1 L913.0,544.1 L913.5,544.1 L914.0,544.0 L914.5,544.0 L915.0,544.0 L915.5,543.9 L916.0,543.8 L916.5,543.9 L917.0,544.0 L917.5,543.9 L918.0,543.9 L918.5,543.9 L919.0,543.8 L919.5,543.9 L920.0,544.0 L920.5,544.1 L921.0,544.0 L921.5,544.0 L922.0,544.2 L922.5,544.1 L923.0,544.1 L923.5,544.0 L924.0,544.0 L924.5,544.0 L925.0,543.9 L925.5,543.9 L926.0,544.0 L926.5,544.0 L927.0,543.9 L927.5,543.8 L928.0,543.6 L928.5,543.5 L929.0,543.5 L929.5,543.6 L930.0,543.7 L930.5,543.7 L931.0,543.8 L931.5,543.7 L932.0,543.8 L932.5,543.9 L933.0,544.0 L933.5,543.9 L934.0,543.9 L934.5,544.0 L935.0,544.1 L935.5,544.1 L936.0,544.2 L936.5,544.2 L937.0,544.2 L937.5,544.2 L938.0,544.2 L938.5,544.3 L939.0,544.4 L939.5,544.4 L940.0,544.5 L940.5,544.4 L941.0,544.4 L941.5,544.3 L942.0,544.0 L942.5,543.6 L943.0,544.0 L943.5,544.3 L944.0,544.5 L944.5,544.6 L945.0,544.4 L945.5,544.3 L946.0,544.4 L946.5,544.4 L947.0,544.4 L947.5,544.4 L948.0,544.3 L948.5,544.2 L949.0,544.2 L949.5,544.4 L950.0,544.3 L950.5,544.2 L951.0,544.3 L951.5,544.2 L952.0,544.0 L952.5,544.0 L953.0,544.1 L953.5,544.2 L954.0,544.3 L954.5,544.2 L955.0,544.1 L955.5,544.0 L956.0,544.0 L956.5,544.0 L957.0,543.9 L957.5,543.9 L958.0,543.8 L958.5,543.8 L959.0,543.8 L959.5,543.8 L960.0,543.8 L960.5,543.9 L961.0,543.8 L961.5,543.7 L962.0,543.7 L962.5,543.7 L963.0,543.6 L963.5,543.5 L964.0,543.7 L964.5,543.6 L965.0,543.4 L965.5,543.3 L966.0,543.2 L966.5,543.2 L967.0,543.3 L967.5,543.4 L968.0,543.5 L968.5,543.6 L969.0,543.6 L969.5,543.5 L970.0,543.4 L970.5,543.4 L971.0,543.5 L971.5,543.5 L972.0,543.3 L972.5,543.3 L973.0,543.4 L973.5,543.4 L974.0,543.1 L974.5,542.8 L975.0,542.7 L975.5,542.7 L976.0,542.7 L976.5,542.6 L977.0,542.5 L977.5,542.5 L978.0,542.6 L978.5,542.6 L979.0,542.8 L979.5,543.0 L980.0,543.0 L980.5,543.1 L981.0,543.2 L981.5,543.3 L982.0,543.5 L982.5,543.7 L983.0,543.7 L983.5,543.9 L984.0,544.0 L984.5,544.2 L985.0,544.3 L985.5,544.4 L986.0,544.3 L986.5,544.3 L987.0,544.4 L987.5,544.5 L988.0,544.5 L988.5,544.6 L989.0,544.6 L989.5,544.6 L990.0,544.6 L990.5,544.5 L991.0,544.5 L991.5,544.5 L992.0,544.4 L992.5,544.5 L993.0,544.6 L993.5,544.7 L994.0,544.7 L994.5,544.7 L995.0,544.6 L995.5,544.5 L996.0,544.5 L996.5,544.6 L997.0,544.7 L997.5,544.6 L998.0,544.6 L998.5,544.5 L999.0,544.6 L999.5,544.7 L1000.0,544.6 L1000.5,544.5 L1001.0,544.7 L1001.5,544.8 L1002.0,544.6 L1002.5,544.6 L1003.0,544.7 L1003.5,544.6 L1004.0,544.6 L1004.5,544.7 L1005.0,544.6 L1005.5,544.4 L1006.0,544.4 L1006.5,544.4 L1007.0,544.4 L1007.5,544.3 L1008.0,544.4 L1008.5,544.4 L1009.0,544.5 L1009.5,544.5 L1010.0,544.4 L1010.5,544.2 L1011.0,544.3 L1011.5,544.4 L1012.0,544.4" stroke="#8430f6" stroke-width="1.7" fill="none" stroke-linejoin="round"/>
<path d="M582.0,617.7 L582.5,617.8 L583.0,617.8 L583.5,617.7 L584.0,617.6 L584.5,617.7 L585.0,617.8 L585.5,617.8 L586.0,617.8 L586.5,617.8 L587.0,617.9 L587.5,617.9 L588.0,617.9 L588.5,617.9 L589.0,617.9 L589.5,618.0 L590.0,618.1 L590.5,618.0 L591.0,618.0 L591.5,618.1 L592.0,618.0 L592.5,617.9 L593.0,618.1 L593.5,618.0 L594.0,617.9 L594.5,618.0 L595.0,618.1 L595.5,618.0 L596.0,618.1 L596.5,618.3 L597.0,618.4 L597.5,618.3 L598.0,618.2 L598.5,618.2 L599.0,618.2 L599.5,618.2 L600.0,618.2 L600.5,618.2 L601.0,618.0 L601.5,617.9 L602.0,618.0 L602.5,618.0 L603.0,617.9 L603.5,617.8 L604.0,617.7 L604.5,617.6 L605.0,617.6 L605.5,617.7 L606.0,617.7 L606.5,617.7 L607.0,617.7 L607.5,617.7 L608.0,617.6 L608.5,617.6 L609.0,617.5 L609.5,617.4 L610.0,617.4 L610.5,617.4 L611.0,617.2 L611.5,617.2 L612.0,617.3 L612.5,617.4 L613.0,617.3 L613.5,617.3 L614.0,617.4 L614.5,617.3 L615.0,617.4 L615.5,617.4 L616.0,617.4 L616.5,617.4 L617.0,617.5 L617.5,617.5 L618.0,617.5 L618.5,617.6 L619.0,617.7 L619.5,617.6 L620.0,617.5 L620.5,617.6 L621.0,617.6 L621.5,617.5 L622.0,617.5 L622.5,617.6 L623.0,617.6 L623.5,617.6 L624.0,617.8 L624.5,617.8 L625.0,617.9 L625.5,618.1 L626.0,618.4 L626.5,618.8 L627.0,618.9 L627.5,618.7 L628.0,618.7 L628.5,618.9 L629.0,619.0 L629.5,618.9 L630.0,618.8 L630.5,618.8 L631.0,618.8 L631.5,618.8 L632.0,618.7 L632.5,618.8 L633.0,618.8 L633.5,618.8 L634.0,618.7 L634.5,618.7 L635.0,618.8 L635.5,618.9 L636.0,618.8 L636.5,618.7 L637.0,618.9 L637.5,619.0 L638.0,619.0 L638.5,618.9 L639.0,618.7 L639.5,618.7 L640.0,619.0 L640.5,619.0 L641.0,618.8 L641.5,618.7 L642.0,618.8 L642.5,618.7 L643.0,618.7 L643.5,618.8 L644.0,618.9 L644.5,618.9 L645.0,618.9 L645.5,618.9 L646.0,618.9 L646.5,618.8 L647.0,618.7 L647.5,618.8 L648.0,619.0 L648.5,619.0 L649.0,619.1 L649.5,619.2 L650.0,619.2 L650.5,619.3 L651.0,619.2 L651.5,619.1 L652.0,619.1 L652.5,619.1 L653.0,619.1 L653.5,619.1 L654.0,619.2 L654.5,619.3 L655.0,619.3 L655.5,619.2 L656.0,619.2 L656.5,619.3 L657.0,619.4 L657.5,619.5 L658.0,619.5 L658.5,619.4 L659.0,619.5 L659.5,619.7 L660.0,619.7 L660.5,619.8 L661.0,619.8 L661.5,619.6 L662.0,619.6 L662.5,619.7 L663.0,619.7 L663.5,619.8 L664.0,619.7 L664.5,619.7 L665.0,619.6 L665.5,619.6 L666.0,619.7 L666.5,619.8 L667.0,619.8 L667.5,619.9 L668.0,620.0 L668.5,620.0 L669.0,619.9 L669.5,619.9 L670.0,619.8 L670.5,619.8 L671.0,619.8 L671.5,619.8 L672.0,619.8 L672.5,619.8 L673.0,619.7 L673.5,619.7 L674.0,619.6 L674.5,619.6 L675.0,619.6 L675.5,619.6 L676.0,619.6 L676.5,619.5 L677.0,619.4 L677.5,619.5 L678.0,619.6 L678.5,619.5 L679.0,619.4 L679.5,619.4 L680.0,619.4 L680.5,619.5 L681.0,619.4 L681.5,619.4 L682.0,619.4 L682.5,619.3 L683.0,619.4 L683.5,619.5 L684.0,619.4 L684.5,619.4 L685.0,619.4 L685.5,619.3 L686.0,619.3 L686.5,619.3 L687.0,619.2 L687.5,619.2 L688.0,619.2 L688.5,619.1 L689.0,619.0 L689.5,619.2 L690.0,619.3 L690.5,619.2 L691.0,619.1 L691.5,619.1 L692.0,619.1 L692.5,619.0 L693.0,619.0 L693.5,618.9 L694.0,618.9 L694.5,618.9 L695.0,618.9 L695.5,618.8 L696.0,618.8 L696.5,618.9 L697.0,619.1 L697.5,619.2 L698.0,619.1 L698.5,619.1 L699.0,618.9 L699.5,618.8 L700.0,618.9 L700.5,619.0 L701.0,618.9 L701.5,619.0 L702.0,618.9 L702.5,618.8 L703.0,618.7 L703.5,618.8 L704.0,618.8 L704.5,618.9 L705.0,619.0 L705.5,619.0 L706.0,618.9 L706.5,618.9 L707.0,619.0 L707.5,619.0 L708.0,618.9 L708.5,618.8 L709.0,619.0 L709.5,619.2 L710.0,619.2 L710.5,619.2 L711.0,619.4 L711.5,619.6 L712.0,619.7 L712.5,619.8 L713.0,619.9 L713.5,620.0 L714.0,620.1 L714.5,620.2 L715.0,620.3 L715.5,620.4 L716.0,620.4 L716.5,620.3 L717.0,620.4 L717.5,620.3 L718.0,620.2 L718.5,620.3 L719.0,620.5 L719.5,620.6 L720.0,620.6 L720.5,620.6 L721.0,620.6 L721.5,620.7 L722.0,620.7 L722.5,620.7 L723.0,620.7 L723.5,620.7 L724.0,620.6 L724.5,620.6 L725.0,620.7 L725.5,620.7 L726.0,620.5 L726.5,620.5 L727.0,620.5 L727.5,620.4 L728.0,620.4 L728.5,620.3 L729.0,620.2 L729.5,620.3 L730.0,620.2 L730.5,620.0 L731.0,620.0 L731.5,620.1 L732.0,620.0 L732.5,619.9 L733.0,620.1 L733.5,620.2 L734.0,619.9 L734.5,619.7 L735.0,619.7 L735.5,619.6 L736.0,619.4 L736.5,619.4 L737.0,619.5 L737.5,619.6 L738.0,619.6 L738.5,619.5 L739.0,619.5 L739.5,619.6 L740.0,619.3 L740.5,619.1 L741.0,619.1 L741.5,619.1 L742.0,619.0 L742.5,618.8 L743.0,618.6 L743.5,618.6 L744.0,618.6 L744.5,618.2 L745.0,617.6 L745.5,617.3 L746.0,617.0 L746.5,616.6 L747.0,616.0 L747.5,615.3 L748.0,614.3 L748.5,612.8 L749.0,610.9 L749.5,608.1 L750.0,604.3 L750.5,598.7 L751.0,590.2 L751.5,578.4 L752.0,564.5 L752.5,554.0 L753.0,555.0 L753.5,566.6 L754.0,580.4 L754.5,591.5 L755.0,599.4 L755.5,605.0 L756.0,608.8 L756.5,611.3 L757.0,613.2 L757.5,614.5 L758.0,615.4 L758.5,616.0 L759.0,616.7 L759.5,617.4 L760.0,618.0 L760.5,618.3 L761.0,618.5 L761.5,618.4 L762.0,618.6 L762.5,618.9 L763.0,619.2 L763.5,619.3 L764.0,619.4 L764.5,619.4 L765.0,619.4 L765.5,619.6 L766.0,619.7 L766.5,619.8 L767.0,619.9 L767.5,619.9 L768.0,620.0 L768.5,620.0 L769.0,620.1 L769.5,620.1 L770.0,620.1 L770.5,620.1 L771.0,620.3 L771.5,620.3 L772.0,620.3 L772.5,620.3 L773.0,620.2 L773.5,620.2 L774.0,620.3 L774.5,620.4 L775.0,620.4 L775.5,620.3 L776.0,620.3 L776.5,620.5 L777.0,620.5 L777.5,620.3 L778.0,620.4 L778.5,620.5 L779.0,620.5 L779.5,620.5 L780.0,620.6 L780.5,620.7 L781.0,620.7 L781.5,620.6 L782.0,620.6 L782.5,620.5 L783.0,620.6 L783.5,620.6 L784.0,620.5 L784.5,620.6 L785.0,620.6 L785.5,620.7 L786.0,620.6 L786.5,620.6 L787.0,620.8 L787.5,620.8 L788.0,620.8 L788.5,620.7 L789.0,620.6 L789.5,620.6 L790.0,620.6 L790.5,620.7 L791.0,620.6 L791.5,620.5 L792.0,620.5 L792.5,620.5 L793.0,620.4 L793.5,620.3 L794.0,620.3 L794.5,620.2 L795.0,620.1 L795.5,619.8 L796.0,619.8 L796.5,619.7 L797.0,619.5 L797.5,619.5 L798.0,619.5 L798.5,619.5 L799.0,619.5 L799.5,619.4 L800.0,619.4 L800.5,619.0 L801.0,618.5 L801.5,617.8 L802.0,617.1 L802.5,616.4 L803.0,615.6 L803.5,614.7 L804.0,614.2 L804.5,614.1 L805.0,614.4 L805.5,615.0 L806.0,615.6 L806.5,616.4 L807.0,617.2 L807.5,618.0 L808.0,618.6 L808.5,619.3 L809.0,619.7 L809.5,619.9 L810.0,620.1 L810.5,620.1 L811.0,620.1 L811.5,620.1 L812.0,620.2 L812.5,620.3 L813.0,620.1 L813.5,619.8 L814.0,619.5 L814.5,619.5 L815.0,619.9 L815.5,620.3 L816.0,620.4 L816.5,620.6 L817.0,620.8 L817.5,620.8 L818.0,621.0 L818.5,621.1 L819.0,621.1 L819.5,621.1 L820.0,621.1 L820.5,621.0 L821.0,621.1 L821.5,621.2 L822.0,621.1 L822.5,621.2 L823.0,621.1 L823.5,621.0 L824.0,621.0 L824.5,621.1 L825.0,621.1 L825.5,621.1 L826.0,621.2 L826.5,621.2 L827.0,621.2 L827.5,621.2 L828.0,621.2 L828.5,621.3 L829.0,621.3 L829.5,621.1 L830.0,621.1 L830.5,621.3 L831.0,621.3 L831.5,621.2 L832.0,621.2 L832.5,621.1 L833.0,621.1 L833.5,621.1 L834.0,621.2 L834.5,621.3 L835.0,621.2 L835.5,621.3 L836.0,621.4 L836.5,621.3 L837.0,621.3 L837.5,621.3 L838.0,621.3 L838.5,621.3 L839.0,621.3 L839.5,621.3 L840.0,621.3 L840.5,621.3 L841.0,621.3 L841.5,621.2 L842.0,621.2 L842.5,621.3 L843.0,621.5 L843.5,621.5 L844.0,621.3 L844.5,621.1 L845.0,621.1 L845.5,621.2 L846.0,621.2 L846.5,621.3 L847.0,621.3 L847.5,621.3 L848.0,621.3 L848.5,621.2 L849.0,621.1 L849.5,621.2 L850.0,621.3 L850.5,621.4 L851.0,621.4 L851.5,621.4 L852.0,621.2 L852.5,621.2 L853.0,621.2 L853.5,621.2 L854.0,621.2 L854.5,621.4 L855.0,621.5 L855.5,621.4 L856.0,621.3 L856.5,621.3 L857.0,621.4 L857.5,621.3 L858.0,621.4 L858.5,621.4 L859.0,621.3 L859.5,621.2 L860.0,621.3 L860.5,621.4 L861.0,621.4 L861.5,621.4 L862.0,621.3 L862.5,621.1 L863.0,621.1 L863.5,621.1 L864.0,620.5 L864.5,620.2 L865.0,620.8 L865.5,621.1 L866.0,621.2 L866.5,621.3 L867.0,621.4 L867.5,621.5 L868.0,621.5 L868.5,621.5 L869.0,621.4 L869.5,621.3 L870.0,621.3 L870.5,621.3 L871.0,621.4 L871.5,621.4 L872.0,621.5 L872.5,621.5 L873.0,621.3 L873.5,621.5 L874.0,621.6 L874.5,621.5 L875.0,621.4 L875.5,621.4 L876.0,621.3 L876.5,621.4 L877.0,621.4 L877.5,621.2 L878.0,621.2 L878.5,621.5 L879.0,621.7 L879.5,621.6 L880.0,621.6 L880.5,621.6 L881.0,621.5 L881.5,621.6 L882.0,621.7 L882.5,621.5 L883.0,621.6 L883.5,621.5 L884.0,621.5 L884.5,621.7 L885.0,621.8 L885.5,621.7 L886.0,621.7 L886.5,621.7 L887.0,621.6 L887.5,621.7 L888.0,621.7 L888.5,621.7 L889.0,621.8 L889.5,621.8 L890.0,621.7 L890.5,621.5 L891.0,621.5 L891.5,621.6 L892.0,621.6 L892.5,621.6 L893.0,621.6 L893.5,621.5 L894.0,621.6 L894.5,621.7 L895.0,621.7 L895.5,621.6 L896.0,621.7 L896.5,621.7 L897.0,621.6 L897.5,621.6 L898.0,621.7 L898.5,621.8 L899.0,621.8 L899.5,621.7 L900.0,621.7 L900.5,621.7 L901.0,621.8 L901.5,621.7 L902.0,621.7 L902.5,621.7 L903.0,621.9 L903.5,622.0 L904.0,621.8 L904.5,621.9 L905.0,621.8 L905.5,621.6 L906.0,621.5 L906.5,621.6 L907.0,621.9 L907.5,622.0 L908.0,622.0 L908.5,622.0 L909.0,621.8 L909.5,621.5 L910.0,621.6 L910.5,621.9 L911.0,621.9 L911.5,621.8 L912.0,621.9 L912.5,621.9 L913.0,622.0 L913.5,622.1 L914.0,621.9 L914.5,621.9 L915.0,621.9 L915.5,621.9 L916.0,621.9 L916.5,621.9 L917.0,622.0 L917.5,622.0 L918.0,621.9 L918.5,621.9 L919.0,621.9 L919.5,621.9 L920.0,621.9 L920.5,622.0 L921.0,622.0 L921.5,622.1 L922.0,622.1 L922.5,622.1 L923.0,622.0 L923.5,622.2 L924.0,622.3 L924.5,622.1 L925.0,622.0 L925.5,622.1 L926.0,622.1 L926.5,622.2 L927.0,622.3 L927.5,622.3 L928.0,622.2 L928.5,622.2 L929.0,622.2 L929.5,622.3 L930.0,622.3 L930.5,622.2 L931.0,622.3 L931.5,622.5 L932.0,622.4 L932.5,622.3 L933.0,622.4 L933.5,622.3 L934.0,622.2 L934.5,622.2 L935.0,622.2 L935.5,622.2 L936.0,622.3 L936.5,622.3 L937.0,622.2 L937.5,622.2 L938.0,622.3 L938.5,622.4 L939.0,622.3 L939.5,622.4 L940.0,622.5 L940.5,622.5 L941.0,622.5 L941.5,622.5 L942.0,622.0 L942.5,621.7 L943.0,622.1 L943.5,622.4 L944.0,622.5 L944.5,622.4 L945.0,622.5 L945.5,622.4 L946.0,622.3 L946.5,622.4 L947.0,622.3 L947.5,622.2 L948.0,622.3 L948.5,622.4 L949.0,622.3 L949.5,622.1 L950.0,622.1 L950.5,622.2 L951.0,622.1 L951.5,622.0 L952.0,622.0 L952.5,622.1 L953.0,622.1 L953.5,622.0 L954.0,622.0 L954.5,622.0 L955.0,622.1 L955.5,622.1 L956.0,622.0 L956.5,621.9 L957.0,622.0 L957.5,622.1 L958.0,622.0 L958.5,622.0 L959.0,621.9 L959.5,621.9 L960.0,621.8 L960.5,621.8 L961.0,621.9 L961.5,621.8 L962.0,621.8 L962.5,621.9 L963.0,621.9 L963.5,621.8 L964.0,621.7 L964.5,621.6 L965.0,621.7 L965.5,621.8 L966.0,621.7 L966.5,621.7 L967.0,621.6 L967.5,621.5 L968.0,621.6 L968.5,621.6 L969.0,621.6 L969.5,621.5 L970.0,621.3 L970.5,621.2 L971.0,621.2 L971.5,621.2 L972.0,621.2 L972.5,621.2 L973.0,621.0 L973.5,621.0 L974.0,621.1 L974.5,620.8 L975.0,620.7 L975.5,620.7 L976.0,620.7 L976.5,620.4 L977.0,620.2 L977.5,620.3 L978.0,620.5 L978.5,620.5 L979.0,620.5 L979.5,620.7 L980.0,620.8 L980.5,620.8 L981.0,620.9 L981.5,621.1 L982.0,621.5 L982.5,621.7 L983.0,621.6 L983.5,621.6 L984.0,621.5 L984.5,621.5 L985.0,621.5 L985.5,621.4 L986.0,621.3 L986.5,621.3 L987.0,621.3 L987.5,621.4 L988.0,621.3 L988.5,621.3 L989.0,621.3 L989.5,621.5 L990.0,621.7 L990.5,621.8 L991.0,621.7 L991.5,621.7 L992.0,622.0 L992.5,622.3 L993.0,622.3 L993.5,622.2 L994.0,622.3 L994.5,622.3 L995.0,622.3 L995.5,622.2 L996.0,622.3 L996.5,622.3 L997.0,622.2 L997.5,622.2 L998.0,622.3 L998.5,622.4 L999.0,622.4 L999.5,622.4 L1000.0,622.5 L1000.5,622.6 L1001.0,622.5 L1001.5,622.5 L1002.0,622.6 L1002.5,622.5 L1003.0,622.5 L1003.5,622.6 L1004.0,622.6 L1004.5,622.5 L1005.0,622.5 L1005.5,622.4 L1006.0,622.4 L1006.5,622.5 L1007.0,622.4 L1007.5,622.3 L1008.0,622.3 L1008.5,622.3 L1009.0,622.3 L1009.5,622.4 L1010.0,622.4 L1010.5,622.5 L1011.0,622.4 L1011.5,622.5 L1012.0,622.6" stroke="#3a3a3a" stroke-width="1.7" fill="none" stroke-linejoin="round"/>
<path d="M582.0,695.6 L582.5,695.7 L583.0,695.8 L583.5,695.8 L584.0,695.8 L584.5,695.6 L585.0,695.5 L585.5,695.5 L586.0,695.7 L586.5,695.8 L587.0,695.8 L587.5,695.7 L588.0,695.6 L588.5,695.7 L589.0,695.8 L589.5,695.9 L590.0,696.0 L590.5,695.9 L591.0,695.9 L591.5,695.9 L592.0,695.9 L592.5,695.9 L593.0,695.8 L593.5,695.8 L594.0,695.8 L594.5,695.8 L595.0,695.9 L595.5,695.9 L596.0,695.9 L596.5,695.9 L597.0,696.0 L597.5,695.9 L598.0,695.8 L598.5,695.8 L599.0,695.8 L599.5,695.9 L600.0,695.8 L600.5,695.8 L601.0,695.9 L601.5,696.0 L602.0,695.8 L602.5,695.7 L603.0,695.8 L603.5,695.7 L604.0,695.7 L604.5,695.7 L605.0,695.5 L605.5,695.4 L606.0,695.5 L606.5,695.6 L607.0,695.5 L607.5,695.6 L608.0,695.5 L608.5,695.5 L609.0,695.6 L609.5,695.6 L610.0,695.6 L610.5,695.5 L611.0,695.6 L611.5,695.5 L612.0,695.4 L612.5,695.4 L613.0,695.4 L613.5,695.2 L614.0,695.2 L614.5,695.3 L615.0,695.4 L615.5,695.4 L616.0,695.2 L616.5,695.2 L617.0,695.3 L617.5,695.4 L618.0,695.5 L618.5,695.6 L619.0,695.6 L619.5,695.6 L620.0,695.5 L620.5,695.4 L621.0,695.4 L621.5,695.5 L622.0,695.7 L622.5,695.7 L623.0,695.7 L623.5,695.7 L624.0,695.8 L624.5,695.8 L625.0,696.0 L625.5,696.3 L626.0,696.4 L626.5,696.5 L627.0,696.8 L627.5,696.8 L628.0,696.8 L628.5,696.9 L629.0,696.9 L629.5,696.8 L630.0,696.9 L630.5,696.9 L631.0,696.8 L631.5,696.7 L632.0,696.7 L632.5,696.8 L633.0,696.9 L633.5,696.9 L634.0,696.9 L634.5,696.9 L635.0,697.0 L635.5,697.0 L636.0,697.0 L636.5,697.0 L637.0,697.1 L637.5,697.2 L638.0,697.1 L638.5,697.0 L639.0,697.0 L639.5,697.1 L640.0,697.2 L640.5,697.2 L641.0,697.1 L641.5,697.0 L642.0,697.2 L642.5,697.2 L643.0,697.0 L643.5,697.0 L644.0,697.1 L644.5,697.3 L645.0,697.3 L645.5,697.2 L646.0,697.1 L646.5,697.1 L647.0,697.0 L647.5,697.1 L648.0,697.3 L648.5,697.2 L649.0,697.1 L649.5,697.1 L650.0,697.3 L650.5,697.3 L651.0,697.3 L651.5,697.3 L652.0,697.3 L652.5,697.3 L653.0,697.3 L653.5,697.2 L654.0,697.1 L654.5,697.1 L655.0,697.3 L655.5,697.3 L656.0,697.3 L656.5,697.4 L657.0,697.5 L657.5,697.5 L658.0,697.5 L658.5,697.5 L659.0,697.4 L659.5,697.3 L660.0,697.4 L660.5,697.5 L661.0,697.4 L661.5,697.4 L662.0,697.4 L662.5,697.3 L663.0,697.4 L663.5,697.5 L664.0,697.6 L664.5,697.5 L665.0,697.4 L665.5,697.5 L666.0,697.6 L666.5,697.7 L667.0,697.7 L667.5,697.7 L668.0,697.7 L668.5,697.7 L669.0,697.6 L669.5,697.5 L670.0,697.4 L670.5,697.3 L671.0,697.4 L671.5,697.6 L672.0,697.4 L672.5,697.3 L673.0,697.4 L673.5,697.6 L674.0,697.6 L674.5,697.5 L675.0,697.4 L675.5,697.5 L676.0,697.6 L676.5,697.5 L677.0,697.5 L677.5,697.5 L678.0,697.5 L678.5,697.4 L679.0,697.4 L679.5,697.4 L680.0,697.3 L680.5,697.4 L681.0,697.3 L681.5,697.2 L682.0,697.1 L682.5,697.2 L683.0,697.3 L683.5,697.2 L684.0,697.2 L684.5,697.2 L685.0,697.3 L685.5,697.3 L686.0,697.1 L686.5,697.1 L687.0,697.2 L687.5,697.2 L688.0,697.1 L688.5,697.1 L689.0,697.2 L689.5,697.3 L690.0,697.2 L690.5,697.1 L691.0,697.1 L691.5,697.1 L692.0,697.2 L692.5,697.2 L693.0,697.1 L693.5,697.0 L694.0,697.0 L694.5,696.9 L695.0,697.0 L695.5,697.1 L696.0,697.1 L696.5,697.0 L697.0,697.1 L697.5,697.0 L698.0,697.0 L698.5,697.1 L699.0,697.0 L699.5,697.0 L700.0,696.9 L700.5,696.9 L701.0,696.9 L701.5,696.7 L702.0,696.8 L702.5,696.9 L703.0,696.8 L703.5,696.7 L704.0,696.8 L704.5,696.8 L705.0,697.0 L705.5,697.0 L706.0,696.8 L706.5,696.7 L707.0,696.7 L707.5,696.8 L708.0,696.9 L708.5,697.0 L709.0,697.0 L709.5,697.3 L710.0,697.5 L710.5,697.6 L711.0,697.7 L711.5,697.8 L712.0,698.0 L712.5,698.1 L713.0,698.2 L713.5,698.2 L714.0,698.1 L714.5,698.0 L715.0,698.1 L715.5,698.3 L716.0,698.3 L716.5,698.1 L717.0,698.0 L717.5,698.1 L718.0,698.0 L718.5,698.0 L719.0,698.1 L719.5,698.3 L720.0,698.2 L720.5,698.1 L721.0,698.1 L721.5,698.3 L722.0,698.4 L722.5,698.4 L723.0,698.4 L723.5,698.3 L724.0,698.3 L724.5,698.2 L725.0,698.2 L725.5,698.4 L726.0,698.4 L726.5,698.4 L727.0,698.3 L727.5,698.3 L728.0,698.2 L728.5,698.2 L729.0,698.3 L729.5,698.4 L730.0,698.4 L730.5,698.4 L731.0,698.4 L731.5,698.3 L732.0,698.2 L732.5,698.0 L733.0,698.1 L733.5,698.3 L734.0,698.3 L734.5,698.2 L735.0,698.1 L735.5,698.1 L736.0,698.2 L736.5,698.2 L737.0,698.2 L737.5,698.1 L738.0,697.8 L738.5,697.7 L739.0,697.7 L739.5,697.5 L740.0,697.5 L740.5,697.7 L741.0,697.7 L741.5,697.5 L742.0,697.4 L742.5,697.2 L743.0,697.1 L743.5,696.9 L744.0,696.7 L744.5,696.4 L745.0,696.0 L745.5,695.8 L746.0,695.4 L746.5,695.0 L747.0,694.4 L747.5,693.5 L748.0,692.5 L748.5,691.1 L749.0,689.1 L749.5,686.4 L750.0,682.4 L750.5,676.6 L751.0,668.2 L751.5,656.6 L752.0,642.5 L752.5,631.8 L753.0,633.1 L753.5,645.0 L754.0,658.9 L754.5,669.9 L755.0,677.8 L755.5,683.2 L756.0,686.9 L756.5,689.4 L757.0,691.3 L757.5,692.7 L758.0,693.7 L758.5,694.3 L759.0,695.0 L759.5,695.6 L760.0,696.1 L760.5,696.3 L761.0,696.7 L761.5,696.8 L762.0,696.9 L762.5,697.2 L763.0,697.3 L763.5,697.2 L764.0,697.3 L764.5,697.5 L765.0,697.7 L765.5,697.9 L766.0,697.9 L766.5,698.0 L767.0,698.1 L767.5,698.1 L768.0,698.2 L768.5,698.2 L769.0,698.3 L769.5,698.3 L770.0,698.3 L770.5,698.2 L771.0,698.2 L771.5,698.3 L772.0,698.2 L772.5,698.2 L773.0,698.3 L773.5,698.4 L774.0,698.5 L774.5,698.5 L775.0,698.4 L775.5,698.4 L776.0,698.4 L776.5,698.4 L777.0,698.4 L777.5,698.3 L778.0,698.5 L778.5,698.7 L779.0,698.6 L779.5,698.5 L780.0,698.6 L780.5,698.7 L781.0,698.7 L781.5,698.6 L782.0,698.6 L782.5,698.7 L783.0,698.8 L783.5,698.9 L784.0,698.8 L784.5,698.6 L785.0,698.5 L785.5,698.5 L786.0,698.5 L786.5,698.5 L787.0,698.6 L787.5,698.6 L788.0,698.6 L788.5,698.6 L789.0,698.6 L789.5,698.7 L790.0,698.8 L790.5,698.6 L791.0,698.6 L791.5,698.6 L792.0,698.6 L792.5,698.6 L793.0,698.5 L793.5,698.4 L794.0,698.3 L794.5,698.2 L795.0,698.0 L795.5,698.0 L796.0,697.7 L796.5,697.6 L797.0,697.5 L797.5,697.4 L798.0,697.5 L798.5,697.6 L799.0,697.7 L799.5,697.6 L800.0,697.3 L800.5,696.8 L801.0,696.5 L801.5,696.1 L802.0,695.3 L802.5,694.4 L803.0,693.7 L803.5,693.0 L804.0,692.4 L804.5,692.0 L805.0,692.1 L805.5,692.7 L806.0,693.5 L806.5,694.3 L807.0,695.1 L807.5,695.9 L808.0,696.7 L808.5,697.3 L809.0,697.6 L809.5,697.8 L810.0,697.9 L810.5,698.2 L811.0,698.4 L811.5,698.4 L812.0,698.2 L812.5,698.1 L813.0,697.9 L813.5,697.7 L814.0,697.6 L814.5,697.7 L815.0,697.8 L815.5,698.1 L816.0,698.5 L816.5,698.7 L817.0,698.7 L817.5,698.8 L818.0,698.9 L818.5,699.0 L819.0,699.1 L819.5,699.1 L820.0,699.2 L820.5,699.3 L821.0,699.2 L821.5,699.1 L822.0,699.1 L822.5,699.1 L823.0,699.2 L823.5,699.3 L824.0,699.3 L824.5,699.2 L825.0,699.1 L825.5,699.1 L826.0,699.2 L826.5,699.4 L827.0,699.4 L827.5,699.3 L828.0,699.2 L828.5,699.1 L829.0,699.2 L829.5,699.3 L830.0,699.4 L830.5,699.3 L831.0,699.2 L831.5,699.3 L832.0,699.3 L832.5,699.4 L833.0,699.4 L833.5,699.4 L834.0,699.3 L834.5,699.3 L835.0,699.4 L835.5,699.4 L836.0,699.5 L836.5,699.4 L837.0,699.4 L837.5,699.3 L838.0,699.3 L838.5,699.4 L839.0,699.5 L839.5,699.5 L840.0,699.4 L840.5,699.4 L841.0,699.3 L841.5,699.2 L842.0,699.5 L842.5,699.6 L843.0,699.5 L843.5,699.5 L844.0,699.5 L844.5,699.4 L845.0,699.4 L845.5,699.4 L846.0,699.4 L846.5,699.5 L847.0,699.4 L847.5,699.4 L848.0,699.5 L848.5,699.4 L849.0,699.4 L849.5,699.4 L850.0,699.4 L850.5,699.3 L851.0,699.4 L851.5,699.5 L852.0,699.4 L852.5,699.2 L853.0,699.2 L853.5,699.4 L854.0,699.6 L854.5,699.8 L855.0,699.8 L855.5,699.7 L856.0,699.6 L856.5,699.6 L857.0,699.6 L857.5,699.6 L858.0,699.5 L858.5,699.4 L859.0,699.6 L859.5,699.7 L860.0,699.6 L860.5,699.4 L861.0,699.4 L861.5,699.5 L862.0,699.7 L862.5,699.7 L863.0,699.5 L863.5,699.2 L864.0,698.7 L864.5,698.6 L865.0,699.1 L865.5,699.4 L866.0,699.4 L866.5,699.5 L867.0,699.6 L867.5,699.5 L868.0,699.4 L868.5,699.5 L869.0,699.6 L869.5,699.6 L870.0,699.5 L870.5,699.4 L871.0,699.5 L871.5,699.6 L872.0,699.6 L872.5,699.6 L873.0,699.5 L873.5,699.5 L874.0,699.5 L874.5,699.5 L875.0,699.5 L875.5,699.5 L876.0,699.4 L876.5,699.4 L877.0,699.5 L877.5,699.6 L878.0,699.6 L878.5,699.5 L879.0,699.6 L879.5,699.7 L880.0,699.8 L880.5,699.6 L881.0,699.5 L881.5,699.5 L882.0,699.7 L882.5,699.7 L883.0,699.7 L883.5,699.7 L884.0,699.8 L884.5,699.8 L885.0,699.7 L885.5,699.7 L886.0,699.6 L886.5,699.6 L887.0,699.7 L887.5,699.7 L888.0,699.6 L888.5,699.8 L889.0,699.8 L889.5,699.7 L890.0,699.7 L890.5,699.8 L891.0,699.8 L891.5,699.7 L892.0,699.8 L892.5,699.8 L893.0,699.7 L893.5,699.6 L894.0,699.6 L894.5,699.7 L895.0,699.7 L895.5,699.6 L896.0,699.6 L896.5,699.7 L897.0,699.7 L897.5,699.5 L898.0,699.5 L898.5,699.8 L899.0,699.9 L899.5,699.8 L900.0,699.8 L900.5,699.8 L901.0,699.8 L901.5,699.8 L902.0,699.7 L902.5,699.8 L903.0,700.1 L903.5,700.1 L904.0,700.0 L904.5,699.9 L905.0,699.8 L905.5,699.8 L906.0,699.8 L906.5,699.7 L907.0,699.6 L907.5,699.7 L908.0,699.7 L908.5,699.9 L909.0,699.9 L909.5,699.9 L910.0,699.8 L910.5,699.7 L911.0,699.7 L911.5,699.9 L912.0,699.9 L912.5,699.8 L913.0,699.8 L913.5,699.8 L914.0,699.8 L914.5,699.7 L915.0,699.6 L915.5,699.6 L916.0,699.6 L916.5,699.6 L917.0,699.7 L917.5,699.9 L918.0,700.0 L918.5,699.8 L919.0,699.6 L919.5,699.7 L920.0,699.7 L920.5,699.7 L921.0,699.8 L921.5,699.7 L922.0,699.6 L922.5,699.7 L923.0,699.8 L923.5,699.9 L924.0,699.8 L924.5,699.8 L925.0,699.8 L925.5,699.7 L926.0,699.8 L926.5,699.7 L927.0,699.8 L927.5,699.9 L928.0,699.9 L928.5,699.8 L929.0,699.9 L929.5,699.9 L930.0,699.9 L930.5,699.8 L931.0,699.8 L931.5,699.6 L932.0,699.6 L932.5,699.8 L933.0,699.9 L933.5,699.9 L934.0,699.9 L934.5,699.9 L935.0,700.0 L935.5,700.0 L936.0,699.8 L936.5,699.7 L937.0,699.8 L937.5,699.8 L938.0,699.7 L938.5,699.6 L939.0,699.7 L939.5,699.9 L940.0,699.9 L940.5,699.7 L941.0,699.7 L941.5,699.7 L942.0,699.5 L942.5,699.2 L943.0,699.5 L943.5,699.9 L944.0,699.9 L944.5,699.8 L945.0,699.7 L945.5,699.7 L946.0,699.7 L946.5,699.7 L947.0,699.7 L947.5,699.7 L948.0,699.7 L948.5,699.7 L949.0,699.8 L949.5,700.0 L950.0,699.7 L950.5,699.6 L951.0,699.8 L951.5,699.9 L952.0,699.9 L952.5,699.9 L953.0,699.8 L953.5,699.7 L954.0,699.6 L954.5,699.7 L955.0,699.8 L955.5,699.6 L956.0,699.5 L956.5,699.6 L957.0,699.7 L957.5,699.7 L958.0,699.8 L958.5,699.9 L959.0,699.8 L959.5,699.6 L960.0,699.6 L960.5,699.7 L961.0,699.7 L961.5,699.8 L962.0,699.7 L962.5,699.6 L963.0,699.6 L963.5,699.7 L964.0,699.7 L964.5,699.6 L965.0,699.6 L965.5,699.7 L966.0,699.7 L966.5,699.5 L967.0,699.6 L967.5,699.7 L968.0,699.6 L968.5,699.5 L969.0,699.5 L969.5,699.4 L970.0,699.3 L970.5,699.4 L971.0,699.4 L971.5,699.4 L972.0,699.3 L972.5,699.2 L973.0,699.0 L973.5,699.0 L974.0,698.9 L974.5,698.8 L975.0,698.7 L975.5,698.7 L976.0,698.6 L976.5,698.6 L977.0,698.5 L977.5,698.4 L978.0,698.4 L978.5,698.4 L979.0,698.5 L979.5,698.7 L980.0,698.8 L980.5,699.0 L981.0,699.1 L981.5,699.1 L982.0,699.1 L982.5,699.2 L983.0,699.3 L983.5,699.3 L984.0,699.4 L984.5,699.4 L985.0,699.4 L985.5,699.5 L986.0,699.3 L986.5,699.1 L987.0,699.0 L987.5,699.1 L988.0,699.2 L988.5,699.3 L989.0,699.3 L989.5,699.5 L990.0,699.6 L990.5,699.6 L991.0,699.7 L991.5,699.7 L992.0,699.9 L992.5,700.0 L993.0,700.0 L993.5,699.9 L994.0,699.9 L994.5,699.9 L995.0,699.9 L995.5,699.9 L996.0,700.0 L996.5,700.2 L997.0,700.1 L997.5,700.0 L998.0,700.1 L998.5,700.0 L999.0,700.1 L999.5,700.2 L1000.0,700.2 L1000.5,700.4 L1001.0,700.3 L1001.5,700.2 L1002.0,700.2 L1002.5,700.1 L1003.0,700.1 L1003.5,700.2 L1004.0,700.4 L1004.5,700.4 L1005.0,700.3 L1005.5,700.4 L1006.0,700.4 L1006.5,700.4 L1007.0,700.4 L1007.5,700.5 L1008.0,700.5 L1008.5,700.4 L1009.0,700.4 L1009.5,700.4 L1010.0,700.3 L1010.5,700.4 L1011.0,700.4 L1011.5,700.2 L1012.0,700.3" stroke="#f28e3c" stroke-width="1.7" fill="none" stroke-linejoin="round"/>
<text transform="translate(22.30,61.03) scale(0.5000,0.4889)" fill="#000" stroke="#000" stroke-width="0.61" stroke-linejoin="round" font-size="100"><tspan font-weight="bold">(a)</tspan></text>
<text transform="translate(266.17,71.94) rotate(-90) scale(0.1609,0.1444)" fill="#000" stroke="#000" stroke-width="1.96" stroke-linejoin="round" font-size="100"><tspan font-weight="bold">(111)</tspan></text>
<text transform="translate(315.17,120.80) rotate(-90) scale(0.1510,0.1444)" fill="#000" stroke="#000" stroke-width="2.03" stroke-linejoin="round" font-size="100"><tspan font-weight="bold">(200)</tspan></text>
<text transform="translate(479.06,132.00) rotate(-90) scale(0.1495,0.1400)" fill="#000" stroke="#000" stroke-width="2.07" stroke-linejoin="round" font-size="100"><tspan font-weight="bold">(220)</tspan></text>
<text transform="translate(411.52,124.59) scale(0.1454,0.1559)" fill="#fa0d0d" stroke="#fa0d0d" stroke-width="1.99" stroke-linejoin="round" font-size="100"><tspan font-weight="bold">300°C</tspan></text>
<text transform="translate(413.54,225.89) scale(0.1410,0.1559)" fill="#26a25a" stroke="#26a25a" stroke-width="2.02" stroke-linejoin="round" font-size="100"><tspan font-weight="bold">250°C</tspan></text>
<text transform="translate(414.12,316.60) scale(0.1438,0.1500)" fill="#1a66e0" stroke="#1a66e0" stroke-width="2.04" stroke-linejoin="round" font-size="100"><tspan font-weight="bold">200°C</tspan></text>
<text transform="translate(78.15,259.73) rotate(-90) scale(0.2094,0.2022)" fill="#000" stroke="#000" stroke-width="1.46" stroke-linejoin="round" font-size="100"><tspan font-weight="bold">Intensity/(a.u.)</tspan></text>
<text transform="translate(285.02,405.86) scale(0.2459,0.2437)" fill="#000" stroke="#000" stroke-width="1.23" stroke-linejoin="round" font-size="100"><tspan font-weight="bold">2</tspan><tspan font-weight="normal">θ/°</tspan></text>
<text transform="translate(520.34,57.54) scale(0.4912,0.4933)" fill="#000" stroke="#000" stroke-width="0.61" stroke-linejoin="round" font-size="100"><tspan font-weight="bold">(b)</tspan></text>
<text transform="translate(758.59,75.86) rotate(-90) scale(0.1640,0.1433)" fill="#000" stroke="#000" stroke-width="1.95" stroke-linejoin="round" font-size="100"><tspan font-weight="bold">(111)</tspan></text>
<text transform="translate(810.25,165.55) rotate(-90) scale(0.1365,0.1022)" fill="#000" stroke="#000" stroke-width="2.51" stroke-linejoin="round" font-size="100"><tspan font-weight="bold">(200)</tspan></text>
<text transform="translate(982.36,174.11) rotate(-90) scale(0.1514,0.1256)" fill="#000" stroke="#000" stroke-width="2.17" stroke-linejoin="round" font-size="100"><tspan font-weight="bold">(220)</tspan></text>
<text transform="translate(856.70,171.49) scale(0.1498,0.1559)" fill="#fa0d0d" stroke="#fa0d0d" stroke-width="1.96" stroke-linejoin="round" font-size="100"><tspan font-weight="bold">300°C</tspan></text>
<text transform="translate(856.11,252.07) scale(0.1478,0.1632)" fill="#26a25a" stroke="#26a25a" stroke-width="1.93" stroke-linejoin="round" font-size="100"><tspan font-weight="bold">250°C</tspan></text>
<text transform="translate(853.31,319.89) scale(0.1486,0.1574)" fill="#1a66e0" stroke="#1a66e0" stroke-width="1.96" stroke-linejoin="round" font-size="100"><tspan font-weight="bold">200°C</tspan></text>
<text transform="translate(572.89,278.54) rotate(-90) scale(0.2477,0.2289)" fill="#000" stroke="#000" stroke-width="1.26" stroke-linejoin="round" font-size="100"><tspan font-weight="bold">Intensity/(a.u.)</tspan></text>
<text transform="translate(785.94,392.02) scale(0.1904,0.1803)" fill="#000" stroke="#000" stroke-width="1.62" stroke-linejoin="round" font-size="100"><tspan font-weight="bold">2</tspan><tspan font-weight="normal">θ/°</tspan></text>
<text transform="translate(22.31,450.26) scale(0.4981,0.4878)" fill="#000" stroke="#000" stroke-width="0.61" stroke-linejoin="round" font-size="100"><tspan font-weight="bold">(c)</tspan></text>
<text transform="translate(263.58,464.01) rotate(-90) scale(0.1513,0.1533)" fill="#000" stroke="#000" stroke-width="1.97" stroke-linejoin="round" font-size="100"><tspan font-weight="bold">(111)</tspan></text>
<text transform="translate(309.67,504.68) rotate(-90) scale(0.1452,0.1300)" fill="#000" stroke="#000" stroke-width="2.18" stroke-linejoin="round" font-size="100"><tspan font-weight="bold">(200)</tspan></text>
<text transform="translate(475.61,507.86) rotate(-90) scale(0.1404,0.1422)" fill="#000" stroke="#000" stroke-width="2.12" stroke-linejoin="round" font-size="100"><tspan font-weight="bold">(220)</tspan></text>
<text transform="translate(386.38,508.34) scale(0.1550,0.1296)" fill="#7f0cff" stroke="#7f0cff" stroke-width="2.11" stroke-linejoin="round" font-size="100"><tspan font-weight="bold">3h</tspan></text>
<text transform="translate(385.28,605.07) scale(0.1540,0.1343)" fill="#151515" stroke="#151515" stroke-width="2.08" stroke-linejoin="round" font-size="100"><tspan font-weight="bold">2h</tspan></text>
<text transform="translate(384.04,693.30) scale(0.1573,0.1333)" fill="#f07a1e" stroke="#f07a1e" stroke-width="2.06" stroke-linejoin="round" font-size="100"><tspan font-weight="bold">1h</tspan></text>
<text transform="translate(72.01,648.49) rotate(-90) scale(0.1969,0.2089)" fill="#000" stroke="#000" stroke-width="1.48" stroke-linejoin="round" font-size="100"><tspan font-weight="bold">Intensity/(a.u.)</tspan></text>
<text transform="translate(284.99,772.97) scale(0.2764,0.2268)" fill="#000" stroke="#000" stroke-width="1.19" stroke-linejoin="round" font-size="100"><tspan font-weight="bold">2</tspan><tspan font-weight="normal">θ/°</tspan></text>
<text transform="translate(520.23,450.24) scale(0.4921,0.4933)" fill="#000" stroke="#000" stroke-width="0.61" stroke-linejoin="round" font-size="100"><tspan font-weight="bold">(d)</tspan></text>
<text transform="translate(757.80,459.22) rotate(-90) scale(0.1543,0.1478)" fill="#000" stroke="#000" stroke-width="1.99" stroke-linejoin="round" font-size="100"><tspan font-weight="bold">(111)</tspan></text>
<text transform="translate(809.84,527.28) rotate(-90) scale(0.1438,0.1267)" fill="#000" stroke="#000" stroke-width="2.22" stroke-linejoin="round" font-size="100"><tspan font-weight="bold">(200)</tspan></text>
<text transform="translate(983.86,536.98) rotate(-90) scale(0.1442,0.1256)" fill="#000" stroke="#000" stroke-width="2.22" stroke-linejoin="round" font-size="100"><tspan font-weight="bold">(220)</tspan></text>
<text transform="translate(907.08,510.42) scale(0.1550,0.1423)" fill="#7f0cff" stroke="#7f0cff" stroke-width="2.02" stroke-linejoin="round" font-size="100"><tspan font-weight="bold">3h</tspan></text>
<text transform="translate(907.10,593.66) scale(0.1500,0.1371)" fill="#151515" stroke="#151515" stroke-width="2.09" stroke-linejoin="round" font-size="100"><tspan font-weight="bold">2h</tspan></text>
<text transform="translate(907.29,688.00) scale(0.1385,0.1391)" fill="#f07a1e" stroke="#f07a1e" stroke-width="2.16" stroke-linejoin="round" font-size="100"><tspan font-weight="bold">1h</tspan></text>
<text transform="translate(561.13,630.36) rotate(-90) scale(0.1881,0.2033)" fill="#000" stroke="#000" stroke-width="1.53" stroke-linejoin="round" font-size="100"><tspan font-weight="bold">Intensity/(a.u.)</tspan></text>
<text transform="translate(781.83,775.72) scale(0.1917,0.1761)" fill="#000" stroke="#000" stroke-width="1.63" stroke-linejoin="round" font-size="100"><tspan font-weight="bold">2</tspan><tspan font-weight="normal">θ/°</tspan></text>
<text transform="translate(88.90,373.85) scale(0.1620,0.1761)" fill="#000" stroke="#000" stroke-width="1.77" stroke-linejoin="round" font-size="100"><tspan font-weight="bold">20</tspan></text>
<text transform="translate(157.74,373.85) scale(0.1620,0.1761)" fill="#000" stroke="#000" stroke-width="1.77" stroke-linejoin="round" font-size="100"><tspan font-weight="bold">30</tspan></text>
<text transform="translate(226.81,373.85) scale(0.1620,0.1761)" fill="#000" stroke="#000" stroke-width="1.77" stroke-linejoin="round" font-size="100"><tspan font-weight="bold">40</tspan></text>
<text transform="translate(295.40,373.85) scale(0.1620,0.1761)" fill="#000" stroke="#000" stroke-width="1.77" stroke-linejoin="round" font-size="100"><tspan font-weight="bold">50</tspan></text>
<text transform="translate(364.32,373.85) scale(0.1620,0.1761)" fill="#000" stroke="#000" stroke-width="1.77" stroke-linejoin="round" font-size="100"><tspan font-weight="bold">60</tspan></text>
<text transform="translate(432.91,373.85) scale(0.1620,0.1761)" fill="#000" stroke="#000" stroke-width="1.77" stroke-linejoin="round" font-size="100"><tspan font-weight="bold">70</tspan></text>
<text transform="translate(501.98,373.85) scale(0.1620,0.1761)" fill="#000" stroke="#000" stroke-width="1.77" stroke-linejoin="round" font-size="100"><tspan font-weight="bold">80</tspan></text>
<text transform="translate(577.36,371.35) scale(0.1728,0.1761)" fill="#000" stroke="#000" stroke-width="1.72" stroke-linejoin="round" font-size="100"><tspan font-weight="bold">20</tspan></text>
<text transform="translate(648.19,371.35) scale(0.1728,0.1761)" fill="#000" stroke="#000" stroke-width="1.72" stroke-linejoin="round" font-size="100"><tspan font-weight="bold">30</tspan></text>
<text transform="translate(719.28,371.35) scale(0.1728,0.1761)" fill="#000" stroke="#000" stroke-width="1.72" stroke-linejoin="round" font-size="100"><tspan font-weight="bold">40</tspan></text>
<text transform="translate(789.86,371.35) scale(0.1728,0.1761)" fill="#000" stroke="#000" stroke-width="1.72" stroke-linejoin="round" font-size="100"><tspan font-weight="bold">50</tspan></text>
<text transform="translate(860.78,371.35) scale(0.1728,0.1761)" fill="#000" stroke="#000" stroke-width="1.72" stroke-linejoin="round" font-size="100"><tspan font-weight="bold">60</tspan></text>
<text transform="translate(931.35,371.35) scale(0.1728,0.1761)" fill="#000" stroke="#000" stroke-width="1.72" stroke-linejoin="round" font-size="100"><tspan font-weight="bold">70</tspan></text>
<text transform="translate(1002.45,371.35) scale(0.1728,0.1761)" fill="#000" stroke="#000" stroke-width="1.72" stroke-linejoin="round" font-size="100"><tspan font-weight="bold">80</tspan></text>
<text transform="translate(83.82,743.55) scale(0.1837,0.1731)" fill="#000" stroke="#000" stroke-width="1.68" stroke-linejoin="round" font-size="100"><tspan font-weight="bold">20</tspan></text>
<text transform="translate(153.48,743.55) scale(0.1837,0.1731)" fill="#000" stroke="#000" stroke-width="1.68" stroke-linejoin="round" font-size="100"><tspan font-weight="bold">30</tspan></text>
<text transform="translate(223.42,743.55) scale(0.1837,0.1731)" fill="#000" stroke="#000" stroke-width="1.68" stroke-linejoin="round" font-size="100"><tspan font-weight="bold">40</tspan></text>
<text transform="translate(292.82,743.55) scale(0.1837,0.1731)" fill="#000" stroke="#000" stroke-width="1.68" stroke-linejoin="round" font-size="100"><tspan font-weight="bold">50</tspan></text>
<text transform="translate(362.57,743.55) scale(0.1837,0.1731)" fill="#000" stroke="#000" stroke-width="1.68" stroke-linejoin="round" font-size="100"><tspan font-weight="bold">60</tspan></text>
<text transform="translate(431.96,743.55) scale(0.1837,0.1731)" fill="#000" stroke="#000" stroke-width="1.68" stroke-linejoin="round" font-size="100"><tspan font-weight="bold">70</tspan></text>
<text transform="translate(501.91,743.55) scale(0.1837,0.1731)" fill="#000" stroke="#000" stroke-width="1.68" stroke-linejoin="round" font-size="100"><tspan font-weight="bold">80</tspan></text>
<text transform="translate(573.20,746.15) scale(0.1761,0.1731)" fill="#000" stroke="#000" stroke-width="1.72" stroke-linejoin="round" font-size="100"><tspan font-weight="bold">20</tspan></text>
<text transform="translate(644.86,746.15) scale(0.1761,0.1731)" fill="#000" stroke="#000" stroke-width="1.72" stroke-linejoin="round" font-size="100"><tspan font-weight="bold">30</tspan></text>
<text transform="translate(716.79,746.15) scale(0.1761,0.1731)" fill="#000" stroke="#000" stroke-width="1.72" stroke-linejoin="round" font-size="100"><tspan font-weight="bold">40</tspan></text>
<text transform="translate(788.20,746.15) scale(0.1761,0.1731)" fill="#000" stroke="#000" stroke-width="1.72" stroke-linejoin="round" font-size="100"><tspan font-weight="bold">50</tspan></text>
<text transform="translate(859.95,746.15) scale(0.1761,0.1731)" fill="#000" stroke="#000" stroke-width="1.72" stroke-linejoin="round" font-size="100"><tspan font-weight="bold">60</tspan></text>
<text transform="translate(931.35,746.15) scale(0.1761,0.1731)" fill="#000" stroke="#000" stroke-width="1.72" stroke-linejoin="round" font-size="100"><tspan font-weight="bold">70</tspan></text>
<text transform="translate(1003.28,746.15) scale(0.1761,0.1731)" fill="#000" stroke="#000" stroke-width="1.72" stroke-linejoin="round" font-size="100"><tspan font-weight="bold">80</tspan></text>
</svg></body></html>
